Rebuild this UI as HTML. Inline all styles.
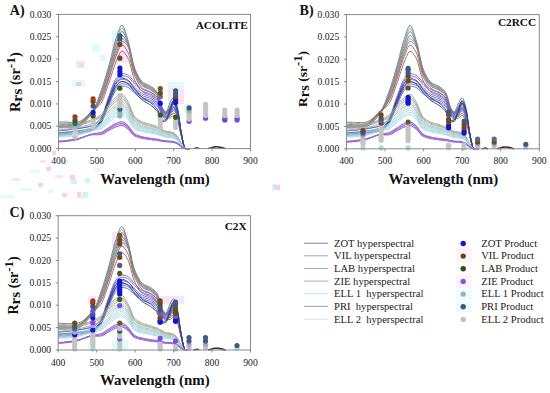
<!DOCTYPE html><html><head><meta charset="utf-8"><style>html,body{margin:0;padding:0;background:#fff;}svg{display:block;}svg text{font-family:"Liberation Serif",serif;}</style></head><body>
<svg width="550" height="393" viewBox="0 0 550 393">
<rect width="550" height="393" fill="#fff"/>
<rect x="52" y="151" width="4" height="4" fill="#f0a0ec" fill-opacity="0.5"/>
<rect x="46" y="167" width="5" height="4" fill="#f0a0ec" fill-opacity="0.5"/>
<rect x="38" y="183" width="5" height="4" fill="#f0a0ec" fill-opacity="0.5"/>
<rect x="70" y="175" width="5" height="5" fill="#f0a0ec" fill-opacity="0.5"/>
<rect x="71" y="180" width="6" height="4" fill="#9eeeee" fill-opacity="0.5"/>
<rect x="85" y="178" width="5" height="5" fill="#9eeeee" fill-opacity="0.5"/>
<rect x="62" y="193" width="5" height="4" fill="#f0a0ec" fill-opacity="0.5"/>
<rect x="77" y="192" width="4" height="6" fill="#f0a0ec" fill-opacity="0.5"/>
<rect x="82" y="192" width="6" height="6" fill="#9eeeee" fill-opacity="0.5"/>
<rect x="60" y="160" width="8" height="4" fill="#c4f6f6" fill-opacity="0.5"/>
<rect x="30" y="170" width="10" height="3" fill="#c4f6f6" fill-opacity="0.5"/>
<rect x="20" y="188" width="12" height="3" fill="#c4f6f6" fill-opacity="0.5"/>
<rect x="0" y="195" width="14" height="3" fill="#c4f6f6" fill-opacity="0.5"/>
<rect x="88" y="160" width="6" height="3" fill="#f8c8f0" fill-opacity="0.5"/>
<rect x="95" y="168" width="5" height="4" fill="#c4f6f6" fill-opacity="0.5"/>
<rect x="40" y="160" width="6" height="3" fill="#f8c8f0" fill-opacity="0.5"/>
<rect x="55" y="175" width="8" height="3" fill="#f8c8f0" fill-opacity="0.5"/>
<rect x="12" y="178" width="8" height="3" fill="#f8c8f0" fill-opacity="0.5"/>
<rect x="48" y="190" width="6" height="3" fill="#c4f6f6" fill-opacity="0.5"/>
<rect x="76" y="61" width="9" height="7" fill="#f8c8f0" fill-opacity="0.5"/>
<rect x="79" y="63" width="4" height="4" fill="#9eeeee" fill-opacity="0.5"/>
<rect x="72" y="80" width="13" height="7" fill="#c4f6f6" fill-opacity="0.5"/>
<rect x="76" y="82" width="5" height="4" fill="#f0a0ec" fill-opacity="0.5"/>
<rect x="92" y="44" width="8" height="8" fill="#c4f6f6" fill-opacity="0.5"/>
<rect x="100" y="55" width="6" height="6" fill="#c4f6f6" fill-opacity="0.5"/>
<rect x="64" y="120" width="5" height="5" fill="#f8c8f0" fill-opacity="0.5"/>
<rect x="112" y="30" width="16" height="9" fill="#c4f6f6" fill-opacity="0.5"/>
<rect x="112" y="39" width="16" height="24" fill="#f8c8f0" fill-opacity="0.5"/>
<rect x="168" y="82" width="16" height="6" fill="#c4f6f6" fill-opacity="0.5"/>
<rect x="168" y="88" width="16" height="16" fill="#f8c8f0" fill-opacity="0.5"/>
<rect x="184" y="104" width="8" height="9" fill="#c4f6f6" fill-opacity="0.5"/>
<rect x="272" y="184" width="4" height="6" fill="#9eeeee" fill-opacity="0.5"/>
<rect x="275" y="185" width="5" height="5" fill="#f0a0ec" fill-opacity="0.5"/>
<rect x="456" y="248" width="16" height="14" fill="#fde8f6" fill-opacity="0.5"/>
<rect x="456" y="275" width="16" height="13" fill="#fde8f6" fill-opacity="0.5"/>
<rect x="456" y="289" width="16" height="23" fill="#e4fafa" fill-opacity="0.5"/>
<rect x="88" y="296" width="8" height="8" fill="#f8c8f0" fill-opacity="0.5"/>
<rect x="112" y="232" width="16" height="16" fill="#f8c8f0" fill-opacity="0.5"/>
<rect x="152" y="296" width="32" height="8" fill="#f8c8f0" fill-opacity="0.5"/>
<rect x="112" y="340" width="16" height="10" fill="#c4f6f6" fill-opacity="0.5"/>
<rect x="88" y="340" width="8" height="10" fill="#c4f6f6" fill-opacity="0.5"/>
<polyline points="58.5,121.8 59.7,121.9 60.8,122.0 62.0,122.0 63.1,122.1 64.3,122.1 65.4,122.2 66.6,122.2 67.7,122.3 68.9,122.3 70.0,122.3 71.2,122.3 72.3,122.3 73.5,122.3 74.6,122.3 75.8,122.3 76.9,122.1 78.1,121.9 79.2,121.5 80.4,121.0 81.5,120.4 82.7,119.7 83.8,118.9 85.0,118.1 86.1,117.1 87.3,116.1 88.5,115.0 89.6,113.9 90.8,112.7 91.9,111.4 93.1,110.1 94.2,108.5 95.4,106.2 96.5,103.5 97.7,100.4 98.8,97.2 100.0,93.9 101.1,90.7 102.3,87.4 103.4,83.8 104.6,80.1 105.7,76.3 106.9,72.4 108.0,68.4 109.2,64.4 110.3,60.0 111.5,55.4 112.6,50.8 113.8,46.4 114.9,42.3 116.1,38.7 117.3,35.2 118.4,31.6 119.6,28.3 120.7,26.0 121.9,25.1 123.0,26.0 124.2,28.4 125.3,31.7 126.5,35.4 127.6,39.1 128.8,43.2 129.9,48.2 131.1,53.6 132.2,59.0 133.4,63.9 134.5,67.8 135.7,70.7 136.8,73.2 138.0,75.5 139.1,77.6 140.3,79.3 141.4,80.8 142.6,81.9 143.7,82.8 144.9,83.5 146.1,84.0 147.2,84.5 148.4,85.0 149.5,85.6 150.7,86.2 151.8,87.0 153.0,87.8 154.1,88.7 155.3,89.8 156.4,91.1 157.6,92.7 158.7,95.5 159.9,99.6 161.0,104.0 162.2,107.4 163.3,109.3 164.5,110.8 165.6,111.6 166.8,111.1 167.9,108.4 169.1,105.1 170.2,102.6 171.4,100.3 172.5,98.3 173.7,97.4 174.9,98.7 176.0,101.9 177.2,106.2 178.3,111.7 179.5,120.5 180.6,129.6 181.8,136.2 182.9,142.0 184.1,146.7 185.2,148.6 186.4,148.6 187.5,148.6 188.7,148.6 189.8,148.6" fill="none" stroke="#5f7a90" stroke-width="0.9" stroke-opacity="1.0" stroke-linejoin="round"/>
<polyline points="58.5,122.9 59.7,123.0 60.8,123.1 62.0,123.1 63.1,123.2 64.3,123.3 65.4,123.3 66.6,123.3 67.7,123.3 68.9,123.4 70.0,123.4 71.2,123.4 72.3,123.4 73.5,123.4 74.6,123.4 75.8,123.4 76.9,123.2 78.1,122.9 79.2,122.5 80.4,122.0 81.5,121.3 82.7,120.6 83.8,119.8 85.0,118.8 86.1,117.8 87.3,116.8 88.5,115.6 89.6,114.4 90.8,113.2 91.9,111.9 93.1,110.6 94.2,108.9 95.4,106.8 96.5,104.2 97.7,101.4 98.8,98.4 100.0,95.3 101.1,92.2 102.3,89.0 103.4,85.5 104.6,81.9 105.7,78.2 106.9,74.3 108.0,70.5 109.2,66.5 110.3,62.2 111.5,57.8 112.6,53.3 113.8,49.0 114.9,45.0 116.1,41.5 117.3,38.1 118.4,34.5 119.6,31.4 120.7,29.1 121.9,28.3 123.0,29.0 124.2,31.0 125.3,33.9 126.5,37.1 127.6,40.4 128.8,44.2 129.9,49.1 131.1,54.5 132.2,59.9 133.4,64.8 134.5,68.8 135.7,71.6 136.8,74.1 138.0,76.4 139.1,78.4 140.3,80.2 141.4,81.6 142.6,82.7 143.7,83.6 144.9,84.2 146.1,84.8 147.2,85.3 148.4,85.8 149.5,86.3 150.7,86.9 151.8,87.7 153.0,88.5 154.1,89.4 155.3,90.5 156.4,91.8 157.6,93.3 158.7,96.1 159.9,100.2 161.0,104.5 162.2,107.9 163.3,109.7 164.5,111.2 165.6,112.1 166.8,111.9 167.9,110.9 169.1,109.5 170.2,108.1 171.4,105.9 172.5,103.7 173.7,102.7 174.9,103.9 176.0,106.8 177.2,110.6 178.3,115.4 179.5,122.7 180.6,130.3 181.8,136.3 182.9,142.0 184.1,146.6 185.2,148.6 186.4,148.6 187.5,148.6 188.7,148.6 189.8,148.6" fill="none" stroke="#9a9a9a" stroke-width="0.9" stroke-opacity="1.0" stroke-linejoin="round"/>
<polyline points="58.5,124.0 59.7,124.1 60.8,124.2 62.0,124.2 63.1,124.3 64.3,124.4 65.4,124.4 66.6,124.4 67.7,124.4 68.9,124.5 70.0,124.5 71.2,124.5 72.3,124.5 73.5,124.5 74.6,124.5 75.8,124.5 76.9,124.3 78.1,124.0 79.2,123.5 80.4,122.9 81.5,122.3 82.7,121.5 83.8,120.6 85.0,119.6 86.1,118.5 87.3,117.4 88.5,116.2 89.6,115.0 90.8,113.7 91.9,112.4 93.1,111.0 94.2,109.4 95.4,107.4 96.5,105.0 97.7,102.3 98.8,99.5 100.0,96.6 101.1,93.7 102.3,90.6 103.4,87.2 104.6,83.7 105.7,80.0 106.9,76.3 108.0,72.5 109.2,68.6 110.3,64.5 111.5,60.1 112.6,55.8 113.8,51.6 114.9,47.7 116.1,44.3 117.3,41.0 118.4,37.5 119.6,34.4 120.7,32.2 121.9,31.4 123.0,32.0 124.2,33.7 125.3,36.0 126.5,38.8 127.6,41.7 128.8,45.2 129.9,50.0 131.1,55.4 132.2,60.8 133.4,65.8 134.5,69.7 135.7,72.5 136.8,75.0 138.0,77.2 139.1,79.3 140.3,81.0 141.4,82.4 142.6,83.5 143.7,84.4 144.9,85.0 146.1,85.6 147.2,86.1 148.4,86.5 149.5,87.1 150.7,87.7 151.8,88.4 153.0,89.2 154.1,90.1 155.3,91.2 156.4,92.4 157.6,94.0 158.7,96.7 159.9,100.8 161.0,105.1 162.2,108.4 163.3,110.2 164.5,111.7 165.6,112.5 166.8,112.3 167.9,110.9 169.1,109.1 170.2,107.3 171.4,105.1 172.5,103.0 173.7,102.1 174.9,103.3 176.0,106.2 177.2,110.1 178.3,115.0 179.5,122.5 180.6,130.4 181.8,136.5 182.9,142.1 184.1,146.7 185.2,148.6 186.4,148.6 187.5,148.6 188.7,148.6 189.8,148.6" fill="none" stroke="#7c7c7c" stroke-width="0.9" stroke-opacity="1.0" stroke-linejoin="round"/>
<polyline points="58.5,125.1 59.7,125.2 60.8,125.3 62.0,125.4 63.1,125.4 64.3,125.5 65.4,125.5 66.6,125.5 67.7,125.5 68.9,125.6 70.0,125.6 71.2,125.6 72.3,125.6 73.5,125.6 74.6,125.6 75.8,125.5 76.9,125.4 78.1,125.0 79.2,124.5 80.4,123.9 81.5,123.2 82.7,122.3 83.8,121.4 85.0,120.3 86.1,119.2 87.3,118.0 88.5,116.8 89.6,115.5 90.8,114.2 91.9,112.8 93.1,111.5 94.2,109.9 95.4,108.0 96.5,105.9 97.7,103.5 98.8,101.0 100.0,98.3 101.1,95.6 102.3,92.7 103.4,89.4 104.6,86.0 105.7,82.4 106.9,78.8 108.0,75.1 109.2,71.4 110.3,67.4 111.5,63.2 112.6,59.0 113.8,54.9 114.9,51.2 116.1,47.9 117.3,44.7 118.4,41.3 119.6,38.4 120.7,36.2 121.9,35.4 123.0,35.9 124.2,37.1 125.3,38.9 126.5,41.0 127.6,43.3 128.8,46.5 129.9,51.1 131.1,56.4 132.2,61.9 133.4,67.0 134.5,71.0 135.7,73.7 136.8,76.1 138.0,78.4 139.1,80.3 140.3,82.0 141.4,83.4 142.6,84.5 143.7,85.4 144.9,86.0 146.1,86.5 147.2,87.0 148.4,87.5 149.5,88.0 150.7,88.6 151.8,89.4 153.0,90.2 154.1,91.1 155.3,92.1 156.4,93.3 157.6,94.8 158.7,97.5 159.9,101.5 161.0,105.8 162.2,109.0 163.3,110.8 164.5,112.3 165.6,113.1 166.8,112.6 167.9,110.5 169.1,107.8 170.2,105.6 171.4,103.4 172.5,101.4 173.7,100.5 174.9,101.8 176.0,104.8 177.2,108.8 178.3,113.9 179.5,122.0 180.6,130.5 181.8,136.7 182.9,142.2 184.1,146.7 185.2,148.6 186.4,148.6 187.5,148.6 188.7,148.6 189.8,148.6" fill="none" stroke="#5f7a90" stroke-width="0.9" stroke-opacity="1.0" stroke-linejoin="round"/>
<polyline points="58.5,126.2 59.7,126.3 60.8,126.4 62.0,126.5 63.1,126.5 64.3,126.6 65.4,126.6 66.6,126.6 67.7,126.6 68.9,126.7 70.0,126.7 71.2,126.7 72.3,126.7 73.5,126.7 74.6,126.7 75.8,126.6 76.9,126.4 78.1,126.1 79.2,125.5 80.4,124.9 81.5,124.1 82.7,123.2 83.8,122.2 85.0,121.1 86.1,119.9 87.3,118.6 88.5,117.4 89.6,116.0 90.8,114.7 91.9,113.3 93.1,111.9 94.2,110.4 95.4,108.6 96.5,106.7 97.7,104.5 98.8,102.1 100.0,99.7 101.1,97.1 102.3,94.3 103.4,91.1 104.6,87.8 105.7,84.3 106.9,80.7 108.0,77.2 109.2,73.5 110.3,69.6 111.5,65.5 112.6,61.5 113.8,57.5 114.9,53.9 116.1,50.7 117.3,47.5 118.4,44.3 119.6,41.4 120.7,39.3 121.9,38.6 123.0,38.9 124.2,39.8 125.3,41.2 126.5,42.8 127.6,44.6 128.8,47.5 129.9,51.9 131.1,57.2 132.2,62.8 133.4,67.9 134.5,71.9 135.7,74.6 136.8,77.0 138.0,79.2 139.1,81.2 140.3,82.9 141.4,84.2 142.6,85.3 143.7,86.1 144.9,86.8 146.1,87.3 147.2,87.8 148.4,88.3 149.5,88.8 150.7,89.4 151.8,90.1 153.0,90.9 154.1,91.8 155.3,92.8 156.4,94.0 157.6,95.5 158.7,98.2 159.9,102.1 161.0,106.3 162.2,109.5 163.3,111.3 164.5,112.7 165.6,113.5 166.8,113.4 167.9,112.4 169.1,111.1 170.2,109.7 171.4,107.6 172.5,105.5 173.7,104.5 174.9,105.6 176.0,108.4 177.2,112.1 178.3,116.7 179.5,123.7 180.6,131.0 181.8,136.8 182.9,142.2 184.1,146.7 185.2,148.6 186.4,148.6 187.5,148.6 188.7,148.6 189.8,148.6" fill="none" stroke="#9a9a9a" stroke-width="0.9" stroke-opacity="1.0" stroke-linejoin="round"/>
<polyline points="58.5,127.4 59.7,127.4 60.8,127.5 62.0,127.6 63.1,127.6 64.3,127.7 65.4,127.7 66.6,127.7 67.7,127.7 68.9,127.8 70.0,127.8 71.2,127.8 72.3,127.8 73.5,127.8 74.6,127.8 75.8,127.7 76.9,127.5 78.1,127.1 79.2,126.5 80.4,125.8 81.5,125.0 82.7,124.0 83.8,123.0 85.0,121.8 86.1,120.6 87.3,119.3 88.5,117.9 89.6,116.5 90.8,115.1 91.9,113.8 93.1,112.4 94.2,110.9 95.4,109.2 96.5,107.3 97.7,105.3 98.8,103.1 100.0,100.8 101.1,98.4 102.3,95.6 103.4,92.6 104.6,89.3 105.7,85.9 106.9,82.4 108.0,78.9 109.2,75.4 110.3,71.5 111.5,67.6 112.6,63.6 113.8,59.7 114.9,56.2 116.1,53.0 117.3,50.0 118.4,46.8 119.6,44.0 120.7,42.0 121.9,41.2 123.0,41.5 124.2,42.1 125.3,43.1 126.5,44.3 127.6,45.8 128.8,48.3 129.9,52.6 131.1,57.9 132.2,63.5 133.4,68.7 134.5,72.7 135.7,75.4 136.8,77.8 138.0,80.0 139.1,81.9 140.3,83.6 141.4,84.9 142.6,86.0 143.7,86.8 144.9,87.4 146.1,88.0 147.2,88.4 148.4,88.9 149.5,89.4 150.7,90.0 151.8,90.7 153.0,91.5 154.1,92.4 155.3,93.4 156.4,94.6 157.6,96.1 158.7,98.7 159.9,102.6 161.0,106.7 162.2,109.9 163.3,111.7 164.5,113.1 165.6,113.9 166.8,113.9 167.9,113.6 169.1,113.2 170.2,112.5 171.4,110.6 172.5,108.3 173.7,107.2 174.9,108.3 176.0,110.9 177.2,114.3 178.3,118.5 179.5,124.8 180.6,131.5 181.8,136.9 182.9,142.2 184.1,146.7 185.2,148.6 186.4,148.6 187.5,148.6 188.7,148.6 189.8,148.6" fill="none" stroke="#7c7c7c" stroke-width="0.9" stroke-opacity="1.0" stroke-linejoin="round"/>
<polyline points="58.5,126.7 59.7,126.7 60.8,126.7 62.0,126.6 63.1,126.6 64.3,126.6 65.4,126.5 66.6,126.5 67.7,126.4 68.9,126.3 70.0,126.2 71.2,126.1 72.3,126.0 73.5,125.9 74.6,125.8 75.8,125.7 76.9,125.3 78.1,124.8 79.2,124.1 80.4,123.3 81.5,122.4 82.7,121.4 83.8,120.3 85.0,119.1 86.1,117.8 87.3,116.5 88.5,115.2 89.6,113.9 90.8,112.6 91.9,111.3 93.1,110.1 94.2,109.0 95.4,107.8 96.5,106.5 97.7,105.2 98.8,103.7 100.0,102.1 101.1,100.2 102.3,97.8 103.4,94.9 104.6,91.7 105.7,88.2 106.9,84.7 108.0,81.2 109.2,77.8 110.3,74.1 111.5,70.3 112.6,66.4 113.8,62.7 114.9,59.3 116.1,56.2 117.3,53.3 118.4,50.2 119.6,47.5 120.7,45.6 121.9,44.8 123.0,45.2 124.2,46.2 125.3,47.7 126.5,49.5 127.6,51.5 128.8,54.2 129.9,58.1 131.1,62.7 132.2,67.4 133.4,71.8 134.5,75.4 135.7,77.9 136.8,80.2 138.0,82.3 139.1,84.1 140.3,85.8 141.4,87.1 142.6,88.2 143.7,88.9 144.9,89.5 146.1,90.1 147.2,90.5 148.4,91.0 149.5,91.4 150.7,92.0 151.8,92.7 153.0,93.5 154.1,94.3 155.3,95.3 156.4,96.4 157.6,97.9 158.7,100.4 159.9,104.2 161.0,108.2 162.2,111.3 163.3,112.9 164.5,114.1 165.6,114.9 166.8,115.5 167.9,115.9 169.1,116.2 170.2,116.1 171.4,115.1 172.5,113.7 173.7,113.0 174.9,113.8 176.0,115.8 177.2,118.5 178.3,121.9 179.5,126.9 180.6,132.4 181.8,137.2 182.9,142.3 184.1,146.7 185.2,148.6 186.4,148.6 187.5,148.6 188.7,148.6 189.8,148.6" fill="none" stroke="#a06050" stroke-width="0.9" stroke-opacity="1.0" stroke-linejoin="round"/>
<polyline points="58.5,126.7 59.7,126.7 60.8,126.7 62.0,126.6 63.1,126.6 64.3,126.6 65.4,126.5 66.6,126.5 67.7,126.4 68.9,126.3 70.0,126.2 71.2,126.1 72.3,126.0 73.5,125.9 74.6,125.8 75.8,125.7 76.9,125.3 78.1,124.7 79.2,124.0 80.4,123.1 81.5,122.1 82.7,121.0 83.8,119.8 85.0,118.6 86.1,117.3 87.3,116.0 88.5,114.7 89.6,113.5 90.8,112.3 91.9,111.2 93.1,110.1 94.2,109.2 95.4,108.4 96.5,107.6 97.7,106.8 98.8,105.8 100.0,104.6 101.1,103.2 102.3,101.1 103.4,98.5 104.6,95.4 105.7,92.1 106.9,88.6 108.0,85.3 109.2,82.1 110.3,78.6 111.5,75.0 112.6,71.4 113.8,67.9 114.9,64.6 116.1,61.8 117.3,59.0 118.4,56.2 119.6,53.6 120.7,51.8 121.9,51.1 123.0,51.4 124.2,52.4 125.3,53.8 126.5,55.5 127.6,57.3 128.8,59.9 129.9,63.5 131.1,67.9 132.2,72.3 133.4,76.5 134.5,79.8 135.7,82.2 136.8,84.3 138.0,86.3 139.1,88.0 140.3,89.6 141.4,90.8 142.6,91.8 143.7,92.5 144.9,93.1 146.1,93.6 147.2,94.0 148.4,94.4 149.5,94.9 150.7,95.4 151.8,96.1 153.0,96.8 154.1,97.6 155.3,98.5 156.4,99.6 157.6,100.9 158.7,103.3 159.9,106.9 161.0,110.6 162.2,113.5 163.3,115.0 164.5,116.2 165.6,117.0 166.8,117.5 167.9,117.9 169.1,118.1 170.2,118.1 171.4,117.1 172.5,115.8 173.7,115.1 174.9,115.9 176.0,117.8 177.2,120.3 178.3,123.5 179.5,128.2 180.6,133.4 181.8,137.9 182.9,142.7 184.1,146.8 185.2,148.6 186.4,148.6 187.5,148.6 188.7,148.6 189.8,148.6" fill="none" stroke="#a06050" stroke-width="0.9" stroke-opacity="1.0" stroke-linejoin="round"/>
<polyline points="58.5,130.7 59.7,130.6 60.8,130.5 62.0,130.4 63.1,130.3 64.3,130.2 65.4,130.1 66.6,130.0 67.7,129.9 68.9,129.7 70.0,129.6 71.2,129.4 72.3,129.3 73.5,129.1 74.6,129.0 75.8,128.8 76.9,128.7 78.1,128.5 79.2,128.3 80.4,128.2 81.5,128.0 82.7,127.8 83.8,127.6 85.0,127.4 86.1,127.2 87.3,127.0 88.5,126.7 89.6,126.4 90.8,126.1 91.9,125.7 93.1,125.3 94.2,124.8 95.4,124.1 96.5,123.2 97.7,122.2 98.8,120.9 100.0,119.5 101.1,118.0 102.3,115.7 103.4,112.7 104.6,109.2 105.7,105.5 106.9,101.9 108.0,98.5 109.2,95.5 110.3,92.2 111.5,89.0 112.6,85.8 113.8,83.0 114.9,80.6 116.1,78.7 117.3,77.2 118.4,75.8 119.6,74.6 120.7,73.8 121.9,73.4 123.0,73.5 124.2,73.8 125.3,74.1 126.5,74.5 127.6,75.0 128.8,75.6 129.9,76.7 131.1,78.0 132.2,79.4 133.4,80.8 134.5,82.1 135.7,83.2 136.8,84.3 138.0,85.5 139.1,86.6 140.3,87.6 141.4,88.5 142.6,89.2 143.7,89.8 144.9,90.3 146.1,90.8 147.2,91.2 148.4,91.6 149.5,92.0 150.7,92.6 151.8,93.2 153.0,93.9 154.1,94.8 155.3,95.8 156.4,96.9 157.6,98.2 158.7,100.3 159.9,103.3 161.0,106.3 162.2,108.9 163.3,110.7 164.5,112.3 165.6,113.2 166.8,113.0 167.9,111.7 169.1,109.9 170.2,108.2 171.4,105.9 172.5,103.7 173.7,102.8 174.9,103.8 176.0,106.4 177.2,109.8 178.3,114.3 179.5,121.6 180.6,129.3 181.8,135.5 182.9,141.5 184.1,146.5 185.2,148.6 186.4,148.6 187.5,148.6 188.7,148.6 189.8,148.6" fill="none" stroke="#6e5ccc" stroke-width="0.9" stroke-opacity="1.0" stroke-linejoin="round"/>
<polyline points="58.5,130.7 59.7,130.6 60.8,130.5 62.0,130.4 63.1,130.3 64.3,130.2 65.4,130.1 66.6,130.0 67.7,129.9 68.9,129.7 70.0,129.6 71.2,129.4 72.3,129.3 73.5,129.1 74.6,129.0 75.8,128.8 76.9,128.7 78.1,128.5 79.2,128.3 80.4,128.2 81.5,128.0 82.7,127.8 83.8,127.6 85.0,127.4 86.1,127.2 87.3,126.9 88.5,126.7 89.6,126.4 90.8,126.1 91.9,125.7 93.1,125.3 94.2,124.9 95.4,124.3 96.5,123.5 97.7,122.6 98.8,121.5 100.0,120.3 101.1,118.9 102.3,116.8 103.4,113.9 104.6,110.5 105.7,106.9 106.9,103.3 108.0,100.0 109.2,97.0 110.3,93.9 111.5,90.8 112.6,87.7 113.8,84.9 114.9,82.6 116.1,80.8 117.3,79.3 118.4,77.9 119.6,76.8 120.7,76.0 121.9,75.7 123.0,75.8 124.2,76.0 125.3,76.3 126.5,76.7 127.6,77.1 128.8,77.8 129.9,78.8 131.1,80.1 132.2,81.5 133.4,82.8 134.5,84.1 135.7,85.2 136.8,86.3 138.0,87.4 139.1,88.4 140.3,89.4 141.4,90.3 142.6,91.0 143.7,91.6 144.9,92.1 146.1,92.5 147.2,92.9 148.4,93.3 149.5,93.7 150.7,94.2 151.8,94.9 153.0,95.6 154.1,96.4 155.3,97.3 156.4,98.4 157.6,99.7 158.7,101.8 159.9,104.6 161.0,107.6 162.2,110.1 163.3,111.8 164.5,113.3 165.6,114.3 166.8,114.0 167.9,112.8 169.1,111.0 170.2,109.4 171.4,107.2 172.5,105.1 173.7,104.1 174.9,105.1 176.0,107.6 177.2,111.0 178.3,115.4 179.5,122.4 180.6,129.9 181.8,135.8 182.9,141.7 184.1,146.6 185.2,148.6 186.4,148.6 187.5,148.6 188.7,148.6 189.8,148.6" fill="none" stroke="#6e5ccc" stroke-width="0.9" stroke-opacity="1.0" stroke-linejoin="round"/>
<polyline points="58.5,132.5 59.7,132.5 60.8,132.4 62.0,132.4 63.1,132.3 64.3,132.2 65.4,132.1 66.6,132.0 67.7,131.9 68.9,131.8 70.0,131.7 71.2,131.6 72.3,131.5 73.5,131.3 74.6,131.2 75.8,131.1 76.9,130.9 78.1,130.8 79.2,130.6 80.4,130.5 81.5,130.3 82.7,130.1 83.8,129.9 85.0,129.7 86.1,129.5 87.3,129.2 88.5,129.0 89.6,128.7 90.8,128.3 91.9,128.0 93.1,127.6 94.2,127.1 95.4,126.4 96.5,125.5 97.7,124.4 98.8,123.2 100.0,121.8 101.1,120.3 102.3,118.2 103.4,115.4 104.6,112.2 105.7,108.8 106.9,105.5 108.0,102.4 109.2,99.6 110.3,96.6 111.5,93.6 112.6,90.7 113.8,88.1 114.9,85.8 116.1,84.1 117.3,82.7 118.4,81.4 119.6,80.3 120.7,79.5 121.9,79.3 123.0,79.3 124.2,79.5 125.3,79.9 126.5,80.2 127.6,80.7 128.8,81.3 129.9,82.3 131.1,83.4 132.2,84.7 133.4,86.0 134.5,87.2 135.7,88.3 136.8,89.3 138.0,90.4 139.1,91.4 140.3,92.3 141.4,93.1 142.6,93.8 143.7,94.4 144.9,94.8 146.1,95.2 147.2,95.6 148.4,96.0 149.5,96.4 150.7,96.9 151.8,97.5 153.0,98.2 154.1,99.0 155.3,99.9 156.4,100.9 157.6,102.1 158.7,104.1 159.9,106.8 161.0,109.6 162.2,112.0 163.3,113.6 164.5,115.1 165.6,115.9 166.8,115.7 167.9,114.5 169.1,112.9 170.2,111.3 171.4,109.2 172.5,107.2 173.7,106.3 174.9,107.2 176.0,109.6 177.2,112.8 178.3,117.0 179.5,123.6 180.6,130.8 181.8,136.5 182.9,142.0 184.1,146.7 185.2,148.6 186.4,148.6 187.5,148.6 188.7,148.6 189.8,148.6" fill="none" stroke="#5e62d0" stroke-width="0.9" stroke-opacity="1.0" stroke-linejoin="round"/>
<polyline points="58.5,133.4 59.7,133.4 60.8,133.3 62.0,133.2 63.1,133.2 64.3,133.1 65.4,133.0 66.6,132.9 67.7,132.8 68.9,132.7 70.0,132.6 71.2,132.5 72.3,132.4 73.5,132.2 74.6,132.1 75.8,132.0 76.9,131.8 78.1,131.7 79.2,131.5 80.4,131.4 81.5,131.2 82.7,131.0 83.8,130.8 85.0,130.6 86.1,130.4 87.3,130.1 88.5,129.9 89.6,129.5 90.8,129.2 91.9,128.9 93.1,128.5 94.2,128.0 95.4,127.2 96.5,126.3 97.7,125.3 98.8,124.1 100.0,122.7 101.1,121.2 102.3,119.1 103.4,116.4 104.6,113.3 105.7,110.1 106.9,106.9 108.0,103.9 109.2,101.1 110.3,98.3 111.5,95.4 112.6,92.6 113.8,90.0 114.9,87.8 116.1,86.2 117.3,84.9 118.4,83.6 119.6,82.5 120.7,81.8 121.9,81.5 123.0,81.6 124.2,81.8 125.3,82.1 126.5,82.4 127.6,82.8 128.8,83.5 129.9,84.4 131.1,85.5 132.2,86.8 133.4,88.1 134.5,89.2 135.7,90.2 136.8,91.2 138.0,92.2 139.1,93.2 140.3,94.1 141.4,94.9 142.6,95.6 143.7,96.1 144.9,96.6 146.1,97.0 147.2,97.3 148.4,97.7 149.5,98.1 150.7,98.6 151.8,99.1 153.0,99.8 154.1,100.6 155.3,101.4 156.4,102.4 157.6,103.6 158.7,105.5 159.9,108.1 161.0,110.9 162.2,113.1 163.3,114.7 164.5,116.2 165.6,117.0 166.8,116.8 167.9,115.6 169.1,114.0 170.2,112.5 171.4,110.5 172.5,108.5 173.7,107.7 174.9,108.6 176.0,110.9 177.2,114.0 178.3,118.0 179.5,124.5 180.6,131.4 181.8,136.9 182.9,142.2 184.1,146.7 185.2,148.6 186.4,148.6 187.5,148.6 188.7,148.6 189.8,148.6" fill="none" stroke="#5e62d0" stroke-width="0.9" stroke-opacity="1.0" stroke-linejoin="round"/>
<polyline points="58.5,134.3 59.7,134.2 60.8,134.2 62.0,134.1 63.1,134.1 64.3,134.0 65.4,133.9 66.6,133.8 67.7,133.7 68.9,133.6 70.0,133.5 71.2,133.4 72.3,133.2 73.5,133.1 74.6,133.0 75.8,132.9 76.9,132.7 78.1,132.6 79.2,132.4 80.4,132.3 81.5,132.1 82.7,131.9 83.8,131.7 85.0,131.5 86.1,131.3 87.3,131.0 88.5,130.7 89.6,130.4 90.8,130.1 91.9,129.8 93.1,129.4 94.2,128.9 95.4,128.1 96.5,127.2 97.7,126.2 98.8,125.0 100.0,123.6 101.1,122.1 102.3,120.1 103.4,117.5 104.6,114.5 105.7,111.4 106.9,108.3 108.0,105.4 109.2,102.7 110.3,100.0 111.5,97.1 112.6,94.4 113.8,92.0 114.9,89.9 116.1,88.3 117.3,87.0 118.4,85.7 119.6,84.7 120.7,84.0 121.9,83.7 123.0,83.8 124.2,84.0 125.3,84.3 126.5,84.6 127.6,85.0 128.8,85.6 129.9,86.5 131.1,87.7 132.2,88.9 133.4,90.1 134.5,91.2 135.7,92.2 136.8,93.1 138.0,94.1 139.1,95.1 140.3,95.9 141.4,96.7 142.6,97.4 143.7,97.9 144.9,98.3 146.1,98.7 147.2,99.0 148.4,99.4 149.5,99.8 150.7,100.2 151.8,100.8 153.0,101.4 154.1,102.2 155.3,103.0 156.4,104.0 157.6,105.1 158.7,106.9 159.9,109.5 161.0,112.1 162.2,114.3 163.3,115.9 164.5,117.2 165.6,118.1 166.8,117.9 167.9,116.7 169.1,115.2 170.2,113.7 171.4,111.8 172.5,109.9 173.7,109.0 174.9,109.9 176.0,112.2 177.2,115.1 178.3,119.0 179.5,125.3 180.6,131.9 181.8,137.3 182.9,142.4 184.1,146.8 185.2,148.6 186.4,148.6 187.5,148.6 188.7,148.6 189.8,148.6" fill="none" stroke="#5e62d0" stroke-width="0.9" stroke-opacity="1.0" stroke-linejoin="round"/>
<polyline points="58.5,135.2 59.7,135.1 60.8,135.1 62.0,135.0 63.1,135.0 64.3,134.9 65.4,134.8 66.6,134.7 67.7,134.6 68.9,134.5 70.0,134.4 71.2,134.3 72.3,134.1 73.5,134.0 74.6,133.9 75.8,133.7 76.9,133.6 78.1,133.5 79.2,133.3 80.4,133.2 81.5,133.0 82.7,132.8 83.8,132.6 85.0,132.4 86.1,132.2 87.3,131.9 88.5,131.6 89.6,131.3 90.8,131.0 91.9,130.6 93.1,130.3 94.2,129.7 95.4,129.0 96.5,128.1 97.7,127.0 98.8,125.8 100.0,124.5 101.1,123.0 102.3,121.0 103.4,118.5 104.6,115.6 105.7,112.6 106.9,109.6 108.0,106.9 109.2,104.3 110.3,101.6 111.5,98.9 112.6,96.3 113.8,93.9 114.9,91.9 116.1,90.4 117.3,89.1 118.4,87.9 119.6,86.9 120.7,86.2 121.9,86.0 123.0,86.0 124.2,86.2 125.3,86.5 126.5,86.8 127.6,87.2 128.8,87.8 129.9,88.7 131.1,89.8 132.2,90.9 133.4,92.1 134.5,93.2 135.7,94.1 136.8,95.1 138.0,96.0 139.1,96.9 140.3,97.7 141.4,98.5 142.6,99.1 143.7,99.6 144.9,100.0 146.1,100.4 147.2,100.7 148.4,101.1 149.5,101.5 150.7,101.9 151.8,102.4 153.0,103.1 154.1,103.8 155.3,104.6 156.4,105.5 157.6,106.6 158.7,108.4 159.9,110.8 161.0,113.4 162.2,115.5 163.3,117.0 164.5,118.3 165.6,119.1 166.8,118.9 167.9,117.8 169.1,116.3 170.2,114.9 171.4,113.0 172.5,111.2 173.7,110.4 174.9,111.3 176.0,113.4 177.2,116.3 178.3,120.1 179.5,126.1 180.6,132.5 181.8,137.6 182.9,142.6 184.1,146.8 185.2,148.6 186.4,148.6 187.5,148.6 188.7,148.6 189.8,148.6" fill="none" stroke="#5e62d0" stroke-width="0.9" stroke-opacity="1.0" stroke-linejoin="round"/>
<polyline points="58.5,133.4 59.7,133.4 60.8,133.3 62.0,133.2 63.1,133.2 64.3,133.1 65.4,133.0 66.6,132.9 67.7,132.8 68.9,132.7 70.0,132.6 71.2,132.5 72.3,132.4 73.5,132.2 74.6,132.1 75.8,132.0 76.9,131.8 78.1,131.7 79.2,131.5 80.4,131.4 81.5,131.2 82.7,131.1 83.8,130.9 85.0,130.7 86.1,130.4 87.3,130.2 88.5,129.9 89.6,129.6 90.8,129.2 91.9,128.9 93.1,128.5 94.2,127.9 95.4,127.0 96.5,125.9 97.7,124.6 98.8,123.1 100.0,121.5 101.1,119.7 102.3,117.4 103.4,114.5 104.6,111.3 105.7,108.0 106.9,104.6 108.0,101.5 109.2,98.6 110.3,95.6 111.5,92.5 112.6,89.6 113.8,86.9 114.9,84.6 116.1,82.9 117.3,81.5 118.4,80.1 119.6,79.0 120.7,78.2 121.9,77.9 123.0,78.0 124.2,78.4 125.3,78.8 126.5,79.4 127.6,80.0 128.8,80.9 129.9,82.2 131.1,83.8 132.2,85.5 133.4,87.2 134.5,88.8 135.7,90.1 136.8,91.5 138.0,92.9 139.1,94.3 140.3,95.5 141.4,96.7 142.6,97.7 143.7,98.6 144.9,99.3 146.1,100.0 147.2,100.7 148.4,101.3 149.5,102.0 150.7,102.8 151.8,103.7 153.0,104.6 154.1,105.7 155.3,106.9 156.4,108.2 157.6,109.7 158.7,112.1 159.9,115.4 161.0,118.4 162.2,120.2 163.3,120.3 164.5,120.1 165.6,119.8 166.8,118.7 167.9,115.7 169.1,111.9 170.2,108.7 171.4,105.1 172.5,101.9 173.7,100.5 174.9,101.6 176.0,104.2 177.2,107.8 178.3,112.5 179.5,120.2 180.6,128.5 181.8,135.0 182.9,141.2 184.1,146.4 185.2,148.6 186.4,148.6 187.5,148.6 188.7,148.6 189.8,148.6" fill="none" stroke="#34467a" stroke-width="1.0" stroke-opacity="1.0" stroke-linejoin="round"/>
<polyline points="58.5,134.3 59.7,134.2 60.8,134.2 62.0,134.1 63.1,134.1 64.3,134.0 65.4,133.9 66.6,133.8 67.7,133.7 68.9,133.6 70.0,133.5 71.2,133.4 72.3,133.2 73.5,133.1 74.6,133.0 75.8,132.9 76.9,132.7 78.1,132.6 79.2,132.4 80.4,132.3 81.5,132.1 82.7,131.9 83.8,131.7 85.0,131.5 86.1,131.3 87.3,131.1 88.5,130.8 89.6,130.5 90.8,130.1 91.9,129.8 93.1,129.4 94.2,128.8 95.4,128.0 96.5,127.0 97.7,125.7 98.8,124.3 100.0,122.8 101.1,121.2 102.3,119.0 103.4,116.3 104.6,113.2 105.7,110.0 106.9,106.8 108.0,103.9 109.2,101.1 110.3,98.3 111.5,95.4 112.6,92.6 113.8,90.0 114.9,87.8 116.1,86.2 117.3,84.9 118.4,83.6 119.6,82.5 120.7,81.8 121.9,81.5 123.0,81.6 124.2,81.9 125.3,82.4 126.5,82.9 127.6,83.5 128.8,84.4 129.9,85.6 131.1,87.1 132.2,88.7 133.4,90.3 134.5,91.8 135.7,93.1 136.8,94.4 138.0,95.7 139.1,97.0 140.3,98.2 141.4,99.3 142.6,100.3 143.7,101.1 144.9,101.8 146.1,102.5 147.2,103.1 148.4,103.7 149.5,104.4 150.7,105.1 151.8,106.0 153.0,106.9 154.1,107.9 155.3,109.0 156.4,110.3 157.6,111.7 158.7,114.0 159.9,117.0 161.0,119.9 162.2,121.6 163.3,121.7 164.5,121.5 165.6,121.2 166.8,120.2 167.9,117.4 169.1,113.8 170.2,110.7 171.4,107.3 172.5,104.3 173.7,103.0 174.9,104.0 176.0,106.5 177.2,109.8 178.3,114.3 179.5,121.7 180.6,129.6 181.8,135.7 182.9,141.6 184.1,146.5 185.2,148.6 186.4,148.6 187.5,148.6 188.7,148.6 189.8,148.6" fill="none" stroke="#34467a" stroke-width="1.0" stroke-opacity="1.0" stroke-linejoin="round"/>
<polyline points="58.5,126.2 59.7,126.2 60.8,126.2 62.0,126.1 63.1,126.0 64.3,125.9 65.4,125.8 66.6,125.6 67.7,125.5 68.9,125.4 70.0,125.2 71.2,125.0 72.3,124.9 73.5,124.7 74.6,124.5 75.8,124.3 76.9,124.1 78.1,123.9 79.2,123.6 80.4,123.3 81.5,123.0 82.7,122.7 83.8,122.4 85.0,122.0 86.1,121.6 87.3,121.3 88.5,120.8 89.6,120.4 90.8,120.0 91.9,119.5 93.1,119.1 94.2,118.6 95.4,118.1 96.5,117.5 97.7,116.8 98.8,116.1 100.0,115.3 101.1,114.5 102.3,113.3 103.4,112.0 104.6,110.5 105.7,108.9 106.9,107.4 108.0,105.9 109.2,104.6 110.3,103.2 111.5,101.9 112.6,100.6 113.8,99.3 114.9,98.2 116.1,97.3 117.3,96.4 118.4,95.5 119.6,94.8 120.7,94.2 121.9,94.0 123.0,94.5 124.2,95.7 125.3,97.3 126.5,99.2 127.6,101.1 128.8,103.3 129.9,106.0 131.1,109.0 132.2,112.0 133.4,114.6 134.5,116.5 135.7,117.7 136.8,118.6 138.0,119.5 139.1,120.2 140.3,120.8 141.4,121.4 142.6,121.9 143.7,122.3 144.9,122.7 146.1,123.0 147.2,123.4 148.4,123.7 149.5,124.0 150.7,124.3 151.8,124.7 153.0,125.1 154.1,125.5 155.3,125.9 156.4,126.3 157.6,126.8 158.7,127.3 159.9,128.0 161.0,128.7 162.2,129.3 163.3,129.9 164.5,130.5 165.6,131.0 166.8,131.3 167.9,131.4 169.1,131.6 170.2,131.8 171.4,132.0 172.5,132.3 173.7,132.8 174.9,133.5 176.0,134.7 177.2,136.1 178.3,137.8 179.5,140.2 180.6,142.6 181.8,144.6 182.9,146.4 184.1,148.0 185.2,148.6 186.4,148.6 187.5,148.6 188.7,148.6 189.8,148.6" fill="none" stroke="#98a890" stroke-width="0.9" stroke-opacity="1.0" stroke-linejoin="round"/>
<polyline points="58.5,127.1 59.7,127.1 60.8,127.0 62.0,127.0 63.1,126.9 64.3,126.8 65.4,126.7 66.6,126.5 67.7,126.4 68.9,126.3 70.0,126.1 71.2,125.9 72.3,125.8 73.5,125.6 74.6,125.4 75.8,125.2 76.9,125.0 78.1,124.8 79.2,124.5 80.4,124.2 81.5,123.9 82.7,123.6 83.8,123.2 85.0,122.9 86.1,122.5 87.3,122.1 88.5,121.7 89.6,121.3 90.8,120.8 91.9,120.4 93.1,120.0 94.2,119.5 95.4,119.0 96.5,118.5 97.7,118.0 98.8,117.4 100.0,116.7 101.1,115.9 102.3,114.8 103.4,113.5 104.6,112.1 105.7,110.6 106.9,109.1 108.0,107.7 109.2,106.4 110.3,105.1 111.5,103.8 112.6,102.5 113.8,101.4 114.9,100.3 116.1,99.4 117.3,98.6 118.4,97.7 119.6,97.0 120.7,96.5 121.9,96.3 123.0,96.7 124.2,97.8 125.3,99.4 126.5,101.3 127.6,103.1 128.8,105.2 129.9,107.8 131.1,110.7 132.2,113.5 133.4,116.0 134.5,117.8 135.7,118.9 136.8,119.9 138.0,120.7 139.1,121.3 140.3,121.9 141.4,122.5 142.6,123.0 143.7,123.4 144.9,123.8 146.1,124.1 147.2,124.4 148.4,124.7 149.5,125.0 150.7,125.3 151.8,125.7 153.0,126.1 154.1,126.4 155.3,126.8 156.4,127.2 157.6,127.7 158.7,128.2 159.9,128.8 161.0,129.5 162.2,130.1 163.3,130.7 164.5,131.3 165.6,131.8 166.8,132.0 167.9,132.1 169.1,132.3 170.2,132.4 171.4,132.7 172.5,133.0 173.7,133.4 174.9,134.1 176.0,135.3 177.2,136.6 178.3,138.3 179.5,140.5 180.6,142.9 181.8,144.7 182.9,146.5 184.1,148.0 185.2,148.6 186.4,148.6 187.5,148.6 188.7,148.6 189.8,148.6" fill="none" stroke="#98a890" stroke-width="0.9" stroke-opacity="1.0" stroke-linejoin="round"/>
<polyline points="58.5,128.0 59.7,128.0 60.8,127.9 62.0,127.9 63.1,127.8 64.3,127.7 65.4,127.6 66.6,127.4 67.7,127.3 68.9,127.1 70.0,127.0 71.2,126.8 72.3,126.7 73.5,126.5 74.6,126.3 75.8,126.1 76.9,125.9 78.1,125.6 79.2,125.4 80.4,125.1 81.5,124.8 82.7,124.4 83.8,124.1 85.0,123.7 86.1,123.3 87.3,122.9 88.5,122.5 89.6,122.1 90.8,121.7 91.9,121.3 93.1,120.9 94.2,120.5 95.4,120.0 96.5,119.6 97.7,119.1 98.8,118.6 100.0,118.0 101.1,117.3 102.3,116.3 103.4,115.1 104.6,113.7 105.7,112.2 106.9,110.8 108.0,109.4 109.2,108.2 110.3,107.0 111.5,105.7 112.6,104.5 113.8,103.4 114.9,102.4 116.1,101.5 117.3,100.7 118.4,99.9 119.6,99.2 120.7,98.7 121.9,98.5 123.0,98.9 124.2,100.0 125.3,101.5 126.5,103.3 127.6,105.0 128.8,107.0 129.9,109.5 131.1,112.3 132.2,115.0 133.4,117.4 134.5,119.1 135.7,120.2 136.8,121.1 138.0,121.9 139.1,122.5 140.3,123.1 141.4,123.6 142.6,124.1 143.7,124.5 144.9,124.8 146.1,125.1 147.2,125.4 148.4,125.7 149.5,126.0 150.7,126.3 151.8,126.7 153.0,127.0 154.1,127.4 155.3,127.7 156.4,128.1 157.6,128.6 158.7,129.1 159.9,129.7 161.0,130.3 162.2,130.9 163.3,131.4 164.5,132.0 165.6,132.5 166.8,132.7 167.9,132.8 169.1,133.0 170.2,133.1 171.4,133.4 172.5,133.7 173.7,134.1 174.9,134.8 176.0,135.8 177.2,137.1 178.3,138.7 179.5,140.9 180.6,143.1 181.8,144.9 182.9,146.6 184.1,148.0 185.2,148.6 186.4,148.6 187.5,148.6 188.7,148.6 189.8,148.6" fill="none" stroke="#98a890" stroke-width="0.9" stroke-opacity="1.0" stroke-linejoin="round"/>
<polyline points="58.5,129.8 59.7,129.8 60.8,129.7 62.0,129.6 63.1,129.5 64.3,129.4 65.4,129.3 66.6,129.2 67.7,129.0 68.9,128.9 70.0,128.7 71.2,128.6 72.3,128.4 73.5,128.3 74.6,128.1 75.8,127.9 76.9,127.7 78.1,127.5 79.2,127.3 80.4,127.1 81.5,126.8 82.7,126.6 83.8,126.3 85.0,126.0 86.1,125.7 87.3,125.4 88.5,125.1 89.6,124.7 90.8,124.3 91.9,123.9 93.1,123.5 94.2,123.1 95.4,122.6 96.5,122.0 97.7,121.4 98.8,120.7 100.0,120.0 101.1,119.2 102.3,118.2 103.4,117.0 104.6,115.7 105.7,114.4 106.9,113.1 108.0,111.9 109.2,110.7 110.3,109.6 111.5,108.4 112.6,107.3 113.8,106.2 114.9,105.3 116.1,104.4 117.3,103.7 118.4,102.9 119.6,102.3 120.7,101.8 121.9,101.6 123.0,102.0 124.2,103.0 125.3,104.5 126.5,106.1 127.6,107.7 128.8,109.6 129.9,112.0 131.1,114.6 132.2,117.1 133.4,119.3 134.5,121.0 135.7,122.0 136.8,122.8 138.0,123.5 139.1,124.1 140.3,124.7 141.4,125.2 142.6,125.6 143.7,126.0 144.9,126.3 146.1,126.6 147.2,126.9 148.4,127.2 149.5,127.4 150.7,127.7 151.8,128.0 153.0,128.4 154.1,128.7 155.3,129.0 156.4,129.4 157.6,129.8 158.7,130.3 159.9,130.9 161.0,131.4 162.2,132.0 163.3,132.5 164.5,133.1 165.6,133.5 166.8,133.7 167.9,133.8 169.1,133.9 170.2,134.1 171.4,134.3 172.5,134.6 173.7,135.0 174.9,135.6 176.0,136.6 177.2,137.8 178.3,139.3 179.5,141.4 180.6,143.5 181.8,145.1 182.9,146.7 184.1,148.0 185.2,148.6 186.4,148.6 187.5,148.6 188.7,148.6 189.8,148.6" fill="none" stroke="#b8b8b8" stroke-width="0.9" stroke-opacity="1.0" stroke-linejoin="round"/>
<polyline points="58.5,129.8 59.7,129.8 60.8,129.7 62.0,129.6 63.1,129.5 64.3,129.4 65.4,129.3 66.6,129.2 67.7,129.0 68.9,128.9 70.0,128.7 71.2,128.6 72.3,128.4 73.5,128.3 74.6,128.1 75.8,127.9 76.9,127.7 78.1,127.5 79.2,127.3 80.4,127.0 81.5,126.7 82.7,126.5 83.8,126.2 85.0,125.9 86.1,125.6 87.3,125.2 88.5,124.9 89.6,124.6 90.8,124.2 91.9,123.9 93.1,123.5 94.2,123.2 95.4,122.9 96.5,122.5 97.7,122.2 98.8,121.7 100.0,121.2 101.1,120.6 102.3,119.8 103.4,118.7 104.6,117.5 105.7,116.1 106.9,114.8 108.0,113.6 109.2,112.5 110.3,111.4 111.5,110.3 112.6,109.2 113.8,108.2 114.9,107.3 116.1,106.6 117.3,105.8 118.4,105.1 119.6,104.5 120.7,104.0 121.9,103.9 123.0,104.2 124.2,105.2 125.3,106.6 126.5,108.1 127.6,109.7 128.8,111.5 129.9,113.7 131.1,116.2 132.2,118.6 133.4,120.7 134.5,122.3 135.7,123.2 136.8,124.0 138.0,124.7 139.1,125.3 140.3,125.8 141.4,126.3 142.6,126.7 143.7,127.0 144.9,127.4 146.1,127.7 147.2,127.9 148.4,128.2 149.5,128.4 150.7,128.7 151.8,129.0 153.0,129.3 154.1,129.6 155.3,130.0 156.4,130.3 157.6,130.7 158.7,131.2 159.9,131.7 161.0,132.2 162.2,132.8 163.3,133.3 164.5,133.8 165.6,134.2 166.8,134.4 167.9,134.5 169.1,134.6 170.2,134.8 171.4,135.0 172.5,135.3 173.7,135.6 174.9,136.2 176.0,137.2 177.2,138.3 178.3,139.8 179.5,141.7 180.6,143.7 181.8,145.3 182.9,146.8 184.1,148.1 185.2,148.6 186.4,148.6 187.5,148.6 188.7,148.6 189.8,148.6" fill="none" stroke="#b8b8b8" stroke-width="0.9" stroke-opacity="1.0" stroke-linejoin="round"/>
<polyline points="58.5,133.4 59.7,133.4 60.8,133.4 62.0,133.3 63.1,133.3 64.3,133.2 65.4,133.1 66.6,133.0 67.7,132.9 68.9,132.8 70.0,132.6 71.2,132.5 72.3,132.4 73.5,132.2 74.6,132.1 75.8,131.9 76.9,131.8 78.1,131.6 79.2,131.3 80.4,131.1 81.5,130.8 82.7,130.5 83.8,130.2 85.0,129.8 86.1,129.5 87.3,129.1 88.5,128.7 89.6,128.3 90.8,127.9 91.9,127.5 93.1,127.1 94.2,126.7 95.4,126.3 96.5,125.8 97.7,125.3 98.8,124.8 100.0,124.1 101.1,123.4 102.3,122.5 103.4,121.4 104.6,120.2 105.7,118.9 106.9,117.6 108.0,116.4 109.2,115.2 110.3,113.9 111.5,112.6 112.6,111.3 113.8,110.1 114.9,109.1 116.1,108.2 117.3,107.5 118.4,106.8 119.6,106.2 120.7,105.8 121.9,105.7 123.0,106.0 124.2,106.9 125.3,108.2 126.5,109.7 127.6,111.2 128.8,113.0 129.9,115.3 131.1,117.8 132.2,120.2 133.4,122.3 134.5,123.8 135.7,124.6 136.8,125.2 138.0,125.7 139.1,126.1 140.3,126.4 141.4,126.8 142.6,127.1 143.7,127.5 144.9,127.8 146.1,128.0 147.2,128.3 148.4,128.5 149.5,128.8 150.7,129.1 151.8,129.4 153.0,129.7 154.1,130.0 155.3,130.3 156.4,130.6 157.6,131.0 158.7,131.4 159.9,131.9 161.0,132.5 162.2,133.0 163.3,133.5 164.5,134.0 165.6,134.3 166.8,134.5 167.9,134.7 169.1,134.8 170.2,134.9 171.4,135.1 172.5,135.4 173.7,135.7 174.9,136.3 176.0,137.2 177.2,138.3 178.3,139.7 179.5,141.6 180.6,143.6 181.8,145.2 182.9,146.8 184.1,148.1 185.2,148.6 186.4,148.6 187.5,148.6 188.7,148.6 189.8,148.6" fill="none" stroke="#9fd6de" stroke-width="0.9" stroke-opacity="1.0" stroke-linejoin="round"/>
<polyline points="58.5,134.3 59.7,134.3 60.8,134.2 62.0,134.2 63.1,134.1 64.3,134.1 65.4,134.0 66.6,133.9 67.7,133.8 68.9,133.7 70.0,133.5 71.2,133.4 72.3,133.3 73.5,133.1 74.6,133.0 75.8,132.8 76.9,132.7 78.1,132.4 79.2,132.2 80.4,131.9 81.5,131.6 82.7,131.3 83.8,131.0 85.0,130.7 86.1,130.3 87.3,129.9 88.5,129.6 89.6,129.2 90.8,128.8 91.9,128.4 93.1,128.0 94.2,127.6 95.4,127.3 96.5,126.9 97.7,126.4 98.8,125.9 100.0,125.4 101.1,124.8 102.3,123.9 103.4,122.9 104.6,121.7 105.7,120.5 106.9,119.2 108.0,118.0 109.2,116.9 110.3,115.7 111.5,114.5 112.6,113.2 113.8,112.1 114.9,111.1 116.1,110.3 117.3,109.7 118.4,109.0 119.6,108.4 120.7,108.0 121.9,107.9 123.0,108.2 124.2,109.1 125.3,110.3 126.5,111.8 127.6,113.2 128.8,114.9 129.9,117.0 131.1,119.4 132.2,121.7 133.4,123.7 134.5,125.1 135.7,125.8 136.8,126.4 138.0,126.9 139.1,127.3 140.3,127.6 141.4,127.9 142.6,128.2 143.7,128.6 144.9,128.8 146.1,129.1 147.2,129.3 148.4,129.6 149.5,129.8 150.7,130.1 151.8,130.4 153.0,130.7 154.1,130.9 155.3,131.2 156.4,131.6 157.6,131.9 158.7,132.3 159.9,132.8 161.0,133.3 162.2,133.8 163.3,134.3 164.5,134.7 165.6,135.1 166.8,135.3 167.9,135.4 169.1,135.5 170.2,135.6 171.4,135.8 172.5,136.1 173.7,136.4 174.9,137.0 176.0,137.8 177.2,138.9 178.3,140.2 179.5,142.0 180.6,143.9 181.8,145.4 182.9,146.9 184.1,148.1 185.2,148.6 186.4,148.6 187.5,148.6 188.7,148.6 189.8,148.6" fill="none" stroke="#9fd6de" stroke-width="0.9" stroke-opacity="1.0" stroke-linejoin="round"/>
<polyline points="58.5,135.2 59.7,135.2 60.8,135.1 62.0,135.1 63.1,135.0 64.3,135.0 65.4,134.9 66.6,134.8 67.7,134.7 68.9,134.6 70.0,134.4 71.2,134.3 72.3,134.2 73.5,134.0 74.6,133.9 75.8,133.7 76.9,133.5 78.1,133.3 79.2,133.1 80.4,132.8 81.5,132.5 82.7,132.2 83.8,131.9 85.0,131.5 86.1,131.1 87.3,130.8 88.5,130.4 89.6,130.0 90.8,129.6 91.9,129.3 93.1,128.9 94.2,128.6 95.4,128.2 96.5,127.9 97.7,127.5 98.8,127.1 100.0,126.6 101.1,126.1 102.3,125.3 103.4,124.3 104.6,123.2 105.7,122.0 106.9,120.8 108.0,119.7 109.2,118.6 110.3,117.5 111.5,116.3 112.6,115.2 113.8,114.1 114.9,113.2 116.1,112.4 117.3,111.8 118.4,111.2 119.6,110.6 120.7,110.3 121.9,110.1 123.0,110.4 124.2,111.3 125.3,112.5 126.5,113.8 127.6,115.1 128.8,116.7 129.9,118.8 131.1,121.0 132.2,123.2 133.4,125.1 134.5,126.4 135.7,127.1 136.8,127.6 138.0,128.1 139.1,128.4 140.3,128.8 141.4,129.1 142.6,129.4 143.7,129.7 144.9,129.9 146.1,130.2 147.2,130.4 148.4,130.6 149.5,130.9 150.7,131.1 151.8,131.4 153.0,131.6 154.1,131.9 155.3,132.2 156.4,132.5 157.6,132.8 158.7,133.2 159.9,133.7 161.0,134.2 162.2,134.6 163.3,135.0 164.5,135.5 165.6,135.8 166.8,136.0 167.9,136.1 169.1,136.2 170.2,136.3 171.4,136.5 172.5,136.7 173.7,137.1 174.9,137.6 176.0,138.4 177.2,139.4 178.3,140.6 179.5,142.4 180.6,144.2 181.8,145.6 182.9,147.0 184.1,148.1 185.2,148.6 186.4,148.6 187.5,148.6 188.7,148.6 189.8,148.6" fill="none" stroke="#9fd6de" stroke-width="0.9" stroke-opacity="1.0" stroke-linejoin="round"/>
<polyline points="58.5,136.1 59.7,136.1 60.8,136.0 62.0,136.0 63.1,135.9 64.3,135.9 65.4,135.8 66.6,135.7 67.7,135.6 68.9,135.5 70.0,135.3 71.2,135.2 72.3,135.1 73.5,134.9 74.6,134.8 75.8,134.6 76.9,134.4 78.1,134.2 79.2,134.0 80.4,133.7 81.5,133.4 82.7,133.0 83.8,132.7 85.0,132.3 86.1,132.0 87.3,131.6 88.5,131.2 89.6,130.9 90.8,130.5 91.9,130.1 93.1,129.8 94.2,129.5 95.4,129.2 96.5,128.9 97.7,128.6 98.8,128.3 100.0,127.9 101.1,127.4 102.3,126.7 103.4,125.8 104.6,124.7 105.7,123.6 106.9,122.5 108.0,121.4 109.2,120.4 110.3,119.3 111.5,118.2 112.6,117.1 113.8,116.1 114.9,115.2 116.1,114.5 117.3,113.9 118.4,113.3 119.6,112.8 120.7,112.5 121.9,112.4 123.0,112.7 124.2,113.4 125.3,114.6 126.5,115.8 127.6,117.1 128.8,118.6 129.9,120.5 131.1,122.6 132.2,124.7 133.4,126.5 134.5,127.7 135.7,128.3 136.8,128.8 138.0,129.3 139.1,129.6 140.3,129.9 141.4,130.2 142.6,130.5 143.7,130.8 144.9,131.0 146.1,131.2 147.2,131.5 148.4,131.7 149.5,131.9 150.7,132.1 151.8,132.4 153.0,132.6 154.1,132.9 155.3,133.1 156.4,133.4 157.6,133.7 158.7,134.1 159.9,134.5 161.0,135.0 162.2,135.4 163.3,135.8 164.5,136.2 165.6,136.6 166.8,136.7 167.9,136.8 169.1,136.9 170.2,137.1 171.4,137.2 172.5,137.4 173.7,137.7 174.9,138.2 176.0,139.0 177.2,139.9 178.3,141.1 179.5,142.7 180.6,144.4 181.8,145.8 182.9,147.1 184.1,148.1 185.2,148.6 186.4,148.6 187.5,148.6 188.7,148.6 189.8,148.6" fill="none" stroke="#9fd6de" stroke-width="0.9" stroke-opacity="1.0" stroke-linejoin="round"/>
<polyline points="58.5,137.0 59.7,137.0 60.8,136.9 62.0,136.9 63.1,136.8 64.3,136.8 65.4,136.7 66.6,136.6 67.7,136.5 68.9,136.3 70.0,136.2 71.2,136.1 72.3,136.0 73.5,135.8 74.6,135.7 75.8,135.5 76.9,135.3 78.1,135.1 79.2,134.8 80.4,134.5 81.5,134.2 82.7,133.9 83.8,133.5 85.0,133.1 86.1,132.8 87.3,132.4 88.5,132.0 89.6,131.7 90.8,131.3 91.9,131.0 93.1,130.7 94.2,130.4 95.4,130.2 96.5,130.0 97.7,129.7 98.8,129.5 100.0,129.1 101.1,128.7 102.3,128.1 103.4,127.2 104.6,126.2 105.7,125.2 106.9,124.1 108.0,123.1 109.2,122.1 110.3,121.1 111.5,120.1 112.6,119.1 113.8,118.1 114.9,117.3 116.1,116.6 117.3,116.1 118.4,115.5 119.6,115.1 120.7,114.7 121.9,114.6 123.0,114.9 124.2,115.6 125.3,116.7 126.5,117.8 127.6,119.0 128.8,120.4 129.9,122.2 131.1,124.2 132.2,126.2 133.4,127.8 134.5,129.0 135.7,129.6 136.8,130.1 138.0,130.4 139.1,130.8 140.3,131.1 141.4,131.3 142.6,131.6 143.7,131.9 144.9,132.1 146.1,132.3 147.2,132.5 148.4,132.7 149.5,132.9 150.7,133.1 151.8,133.4 153.0,133.6 154.1,133.9 155.3,134.1 156.4,134.4 157.6,134.7 158.7,135.0 159.9,135.4 161.0,135.8 162.2,136.2 163.3,136.6 164.5,137.0 165.6,137.3 166.8,137.5 167.9,137.6 169.1,137.6 170.2,137.8 171.4,137.9 172.5,138.1 173.7,138.4 174.9,138.9 176.0,139.6 177.2,140.5 178.3,141.6 179.5,143.1 180.6,144.7 181.8,145.9 182.9,147.2 184.1,148.2 185.2,148.6 186.4,148.6 187.5,148.6 188.7,148.6 189.8,148.6" fill="none" stroke="#9fd6de" stroke-width="0.9" stroke-opacity="1.0" stroke-linejoin="round"/>
<polyline points="58.5,141.0 59.7,141.0 60.8,140.9 62.0,140.8 63.1,140.8 64.3,140.7 65.4,140.5 66.6,140.4 67.7,140.3 68.9,140.1 70.0,140.0 71.2,139.8 72.3,139.6 73.5,139.4 74.6,139.3 75.8,139.1 76.9,138.8 78.1,138.6 79.2,138.2 80.4,137.9 81.5,137.5 82.7,137.1 83.8,136.7 85.0,136.3 86.1,135.9 87.3,135.5 88.5,135.1 89.6,134.7 90.8,134.4 91.9,134.1 93.1,133.8 94.2,133.6 95.4,133.4 96.5,133.3 97.7,133.1 98.8,132.9 100.0,132.7 101.1,132.4 102.3,131.9 103.4,131.3 104.6,130.5 105.7,129.7 106.9,128.9 108.0,128.2 109.2,127.5 110.3,126.7 111.5,125.9 112.6,125.2 113.8,124.5 114.9,123.9 116.1,123.4 117.3,122.9 118.4,122.5 119.6,122.1 120.7,121.9 121.9,121.8 123.0,122.0 124.2,122.6 125.3,123.5 126.5,124.5 127.6,125.5 128.8,126.7 129.9,128.2 131.1,129.8 132.2,131.4 133.4,132.8 134.5,133.9 135.7,134.5 136.8,135.0 138.0,135.5 139.1,135.9 140.3,136.2 141.4,136.5 142.6,136.8 143.7,137.1 144.9,137.3 146.1,137.5 147.2,137.7 148.4,137.9 149.5,138.1 150.7,138.3 151.8,138.5 153.0,138.6 154.1,138.7 155.3,138.9 156.4,139.0 157.6,139.2 158.7,139.4 159.9,139.7 161.0,140.0 162.2,140.2 163.3,140.4 164.5,140.6 165.6,140.8 166.8,140.9 167.9,141.0 169.1,141.0 170.2,141.1 171.4,141.2 172.5,141.4 173.7,141.6 174.9,142.0 176.0,142.4 177.2,143.0 178.3,143.8 179.5,144.9 180.6,146.0 181.8,146.8 182.9,147.7 184.1,148.3 185.2,148.6 186.4,148.6 187.5,148.6 188.7,148.6 189.8,148.6" fill="none" stroke="#9a6ad6" stroke-width="1.1" stroke-opacity="1.0" stroke-linejoin="round"/>
<polyline points="58.5,141.4 59.7,141.4 60.8,141.4 62.0,141.3 63.1,141.2 64.3,141.1 65.4,141.0 66.6,140.9 67.7,140.7 68.9,140.6 70.0,140.4 71.2,140.2 72.3,140.1 73.5,139.9 74.6,139.7 75.8,139.5 76.9,139.3 78.1,139.0 79.2,138.6 80.4,138.2 81.5,137.8 82.7,137.4 83.8,137.0 85.0,136.6 86.1,136.1 87.3,135.7 88.5,135.4 89.6,135.0 90.8,134.7 91.9,134.5 93.1,134.3 94.2,134.2 95.4,134.1 96.5,134.0 97.7,133.9 98.8,133.8 100.0,133.7 101.1,133.5 102.3,133.1 103.4,132.5 104.6,131.8 105.7,131.0 106.9,130.3 108.0,129.5 109.2,128.9 110.3,128.2 111.5,127.5 112.6,126.8 113.8,126.1 114.9,125.5 116.1,125.1 117.3,124.6 118.4,124.2 119.6,123.9 120.7,123.6 121.9,123.5 123.0,123.8 124.2,124.4 125.3,125.2 126.5,126.1 127.6,127.1 128.8,128.1 129.9,129.5 131.1,131.1 132.2,132.6 133.4,133.9 134.5,134.8 135.7,135.4 136.8,135.9 138.0,136.3 139.1,136.7 140.3,137.0 141.4,137.3 142.6,137.6 143.7,137.8 144.9,138.1 146.1,138.3 147.2,138.5 148.4,138.6 149.5,138.8 150.7,139.0 151.8,139.1 153.0,139.3 154.1,139.4 155.3,139.5 156.4,139.7 157.6,139.8 158.7,140.0 159.9,140.3 161.0,140.5 162.2,140.8 163.3,141.0 164.5,141.1 165.6,141.3 166.8,141.4 167.9,141.5 169.1,141.5 170.2,141.6 171.4,141.7 172.5,141.9 173.7,142.1 174.9,142.4 176.0,142.8 177.2,143.4 178.3,144.1 179.5,145.1 180.6,146.2 181.8,147.0 182.9,147.7 184.1,148.3 185.2,148.6 186.4,148.6 187.5,148.6 188.7,148.6 189.8,148.6" fill="none" stroke="#9a6ad6" stroke-width="1.1" stroke-opacity="1.0" stroke-linejoin="round"/>
<polyline points="58.5,141.9 59.7,141.9 60.8,141.8 62.0,141.7 63.1,141.7 64.3,141.6 65.4,141.4 66.6,141.3 67.7,141.2 68.9,141.0 70.0,140.9 71.2,140.7 72.3,140.5 73.5,140.3 74.6,140.2 75.8,140.0 76.9,139.7 78.1,139.4 79.2,139.0 80.4,138.6 81.5,138.1 82.7,137.6 83.8,137.2 85.0,136.7 86.1,136.3 87.3,135.9 88.5,135.5 89.6,135.2 90.8,135.0 91.9,134.8 93.1,134.7 94.2,134.7 95.4,134.7 96.5,134.7 97.7,134.7 98.8,134.7 100.0,134.7 101.1,134.6 102.3,134.3 103.4,133.8 104.6,133.1 105.7,132.4 106.9,131.6 108.0,130.9 109.2,130.3 110.3,129.6 111.5,129.0 112.6,128.3 113.8,127.7 114.9,127.2 116.1,126.7 117.3,126.4 118.4,126.0 119.6,125.7 120.7,125.4 121.9,125.3 123.0,125.5 124.2,126.1 125.3,126.9 126.5,127.7 127.6,128.6 128.8,129.6 129.9,130.9 131.1,132.3 132.2,133.7 133.4,134.9 134.5,135.8 135.7,136.4 136.8,136.8 138.0,137.2 139.1,137.6 140.3,137.9 141.4,138.1 142.6,138.4 143.7,138.6 144.9,138.8 146.1,139.0 147.2,139.2 148.4,139.3 149.5,139.5 150.7,139.7 151.8,139.8 153.0,139.9 154.1,140.1 155.3,140.2 156.4,140.3 157.6,140.5 158.7,140.6 159.9,140.9 161.0,141.1 162.2,141.3 163.3,141.5 164.5,141.7 165.6,141.8 166.8,141.9 167.9,142.0 169.1,142.0 170.2,142.1 171.4,142.2 172.5,142.4 173.7,142.6 174.9,142.8 176.0,143.3 177.2,143.8 178.3,144.4 179.5,145.4 180.6,146.3 181.8,147.1 182.9,147.8 184.1,148.4 185.2,148.6 186.4,148.6 187.5,148.6 188.7,148.6 189.8,148.6" fill="none" stroke="#9a6ad6" stroke-width="1.1" stroke-opacity="1.0" stroke-linejoin="round"/>
<polyline points="193.7,148.6 194.8,148.4 196.0,148.0 197.1,147.8 198.3,148.3 199.4,148.5" fill="none" stroke="#4a2a18" stroke-width="1.4" stroke-opacity="1.0" stroke-linejoin="round"/>
<polyline points="208.3,148.6 209.4,148.3 210.6,148.0 211.7,147.7 212.9,147.3 214.0,147.0 215.2,146.9 216.3,146.8 217.5,146.8 218.6,147.0 219.8,147.2 220.9,147.4 222.1,147.7 223.2,148.0 224.4,148.3 225.5,148.5" fill="none" stroke="#4a2a18" stroke-width="1.6" stroke-opacity="1.0" stroke-linejoin="round"/>
<circle cx="75.0" cy="137.0" r="2.6" fill="#c4c4c4"/>
<circle cx="75.0" cy="133.4" r="2.6" fill="#d0d0d0"/>
<circle cx="75.0" cy="129.4" r="2.6" fill="#c4c4c4"/>
<circle cx="75.0" cy="126.2" r="2.6" fill="#8ab4c4"/>
<circle cx="75.0" cy="123.5" r="2.6" fill="#3c5c7c"/>
<circle cx="75.0" cy="120.4" r="2.6" fill="#3b5a18"/>
<circle cx="75.0" cy="116.8" r="2.6" fill="#a03c1c"/>
<circle cx="93.1" cy="127.1" r="2.6" fill="#c4c4c4"/>
<circle cx="93.1" cy="124.0" r="2.6" fill="#c4c4c4"/>
<circle cx="93.1" cy="120.4" r="2.6" fill="#c4c4c4"/>
<circle cx="93.1" cy="115.9" r="2.6" fill="#3b5a18"/>
<circle cx="93.1" cy="112.4" r="2.6" fill="#1414d2"/>
<circle cx="93.1" cy="106.1" r="2.6" fill="#3c5c7c"/>
<circle cx="93.1" cy="101.6" r="2.6" fill="#6b4a1e"/>
<circle cx="93.1" cy="98.9" r="2.6" fill="#a03c1c"/>
<circle cx="119.9" cy="115.9" r="2.6" fill="#8ab4c4"/>
<circle cx="119.9" cy="112.8" r="2.6" fill="#8ab4c4"/>
<circle cx="119.9" cy="109.2" r="2.6" fill="#3c5c7c"/>
<circle cx="119.9" cy="105.7" r="2.6" fill="#c4c4c4"/>
<circle cx="119.9" cy="102.5" r="2.6" fill="#c4c4c4"/>
<circle cx="119.9" cy="99.4" r="2.6" fill="#c4c4c4"/>
<circle cx="119.9" cy="95.8" r="2.6" fill="#c4c4c4"/>
<circle cx="119.9" cy="88.2" r="2.6" fill="#3b5a18"/>
<circle cx="119.9" cy="74.8" r="2.6" fill="#1414d2"/>
<circle cx="119.9" cy="71.7" r="2.6" fill="#1414d2"/>
<circle cx="119.9" cy="68.1" r="2.6" fill="#1414d2"/>
<circle cx="119.9" cy="58.2" r="2.6" fill="#6b4a1e"/>
<circle cx="119.9" cy="44.4" r="2.6" fill="#6b4a1e"/>
<circle cx="119.9" cy="39.0" r="2.6" fill="#3c5c7c"/>
<circle cx="119.9" cy="35.9" r="2.6" fill="#3c5c7c"/>
<circle cx="160.3" cy="127.6" r="2.6" fill="#c4c4c4"/>
<circle cx="160.3" cy="124.0" r="2.6" fill="#c4c4c4"/>
<circle cx="160.3" cy="120.9" r="2.6" fill="#c4c4c4"/>
<circle cx="160.3" cy="118.6" r="2.6" fill="#c4c4c4"/>
<circle cx="160.3" cy="115.0" r="2.6" fill="#3b5a18"/>
<circle cx="160.3" cy="103.4" r="2.6" fill="#1414d2"/>
<circle cx="160.3" cy="96.7" r="2.6" fill="#7a6a8a"/>
<circle cx="160.3" cy="93.1" r="2.6" fill="#6b4a1e"/>
<circle cx="160.3" cy="88.7" r="2.6" fill="#6a5a2a"/>
<circle cx="175.6" cy="127.6" r="2.6" fill="#c4c4c4"/>
<circle cx="175.6" cy="124.0" r="2.6" fill="#c4c4c4"/>
<circle cx="175.6" cy="120.9" r="2.6" fill="#c4c4c4"/>
<circle cx="175.6" cy="117.3" r="2.6" fill="#3b5a18"/>
<circle cx="175.6" cy="102.5" r="2.6" fill="#1414d2"/>
<circle cx="175.6" cy="99.4" r="2.6" fill="#1414d2"/>
<circle cx="175.6" cy="96.7" r="2.6" fill="#6b4a1e"/>
<circle cx="175.6" cy="94.0" r="2.6" fill="#3c5c7c"/>
<circle cx="175.6" cy="90.9" r="2.6" fill="#3c5c7c"/>
<circle cx="189.1" cy="121.3" r="2.6" fill="#7a4ae6"/>
<circle cx="189.1" cy="119.1" r="2.6" fill="#c4c4c4"/>
<circle cx="189.1" cy="116.4" r="2.6" fill="#c4c4c4"/>
<circle cx="189.1" cy="113.7" r="2.6" fill="#c4c4c4"/>
<circle cx="189.1" cy="111.0" r="2.6" fill="#8ab4c4"/>
<circle cx="189.1" cy="107.9" r="2.6" fill="#3c5c7c"/>
<circle cx="205.6" cy="118.2" r="2.6" fill="#7a4ae6"/>
<circle cx="205.6" cy="115.5" r="2.6" fill="#c4c4c4"/>
<circle cx="205.6" cy="112.8" r="2.6" fill="#c4c4c4"/>
<circle cx="205.6" cy="110.1" r="2.6" fill="#c4c4c4"/>
<circle cx="205.6" cy="107.4" r="2.6" fill="#c4c4c4"/>
<circle cx="205.6" cy="104.3" r="2.6" fill="#c4c4c4"/>
<circle cx="224.8" cy="120.0" r="2.6" fill="#5a4aa0"/>
<circle cx="224.8" cy="118.2" r="2.6" fill="#7a4ae6"/>
<circle cx="224.8" cy="115.5" r="2.6" fill="#c4c4c4"/>
<circle cx="224.8" cy="112.8" r="2.6" fill="#c4c4c4"/>
<circle cx="224.8" cy="110.1" r="2.6" fill="#c4c4c4"/>
<circle cx="237.1" cy="120.0" r="2.6" fill="#7a4ae6"/>
<circle cx="237.1" cy="118.2" r="2.6" fill="#7a4ae6"/>
<circle cx="237.1" cy="115.5" r="2.6" fill="#c4c4c4"/>
<circle cx="237.1" cy="112.8" r="2.6" fill="#c4c4c4"/>
<circle cx="237.1" cy="110.1" r="2.6" fill="#c4c4c4"/>
<polyline points="346.4,122.0 347.6,122.1 348.7,122.2 349.9,122.2 351.0,122.3 352.2,122.3 353.3,122.4 354.5,122.4 355.7,122.5 356.8,122.5 358.0,122.5 359.1,122.5 360.3,122.5 361.4,122.5 362.6,122.5 363.8,122.5 364.9,122.3 366.1,122.1 367.2,121.7 368.4,121.2 369.5,120.6 370.7,119.9 371.9,119.1 373.0,118.3 374.2,117.3 375.3,116.3 376.5,115.2 377.6,114.1 378.8,112.9 380.0,111.6 381.1,110.3 382.3,108.7 383.4,106.4 384.6,103.7 385.8,100.6 386.9,97.4 388.1,94.1 389.2,90.9 390.4,87.6 391.5,84.0 392.7,80.3 393.9,76.5 395.0,72.6 396.2,68.6 397.3,64.6 398.5,60.2 399.6,55.6 400.8,51.0 402.0,46.6 403.1,42.5 404.3,38.9 405.4,35.4 406.6,31.8 407.7,28.5 408.9,26.2 410.1,25.3 411.2,26.2 412.4,28.6 413.5,31.9 414.7,35.6 415.8,39.3 417.0,43.4 418.2,48.4 419.3,53.8 420.5,59.2 421.6,64.1 422.8,68.0 423.9,70.9 425.1,73.4 426.3,75.7 427.4,77.8 428.6,79.5 429.7,81.0 430.9,82.1 432.0,83.0 433.2,83.7 434.4,84.2 435.5,84.7 436.7,85.2 437.8,85.8 439.0,86.4 440.1,87.2 441.3,88.0 442.5,88.9 443.6,90.0 444.8,91.3 445.9,92.9 447.1,95.7 448.3,99.8 449.4,104.2 450.6,107.6 451.7,109.5 452.9,111.0 454.0,111.8 455.2,111.3 456.4,108.6 457.5,105.3 458.7,102.8 459.8,100.5 461.0,98.5 462.1,97.6 463.3,98.9 464.5,102.1 465.6,106.4 466.8,111.9 467.9,120.7 469.1,129.8 470.2,136.4 471.4,142.2 472.6,146.9 473.7,148.8 474.9,148.8 476.0,148.8 477.2,148.8 478.3,148.8" fill="none" stroke="#5f7a90" stroke-width="0.9" stroke-opacity="1.0" stroke-linejoin="round"/>
<polyline points="346.4,123.1 347.6,123.2 348.7,123.3 349.9,123.3 351.0,123.4 352.2,123.5 353.3,123.5 354.5,123.5 355.7,123.5 356.8,123.6 358.0,123.6 359.1,123.6 360.3,123.6 361.4,123.6 362.6,123.6 363.8,123.6 364.9,123.4 366.1,123.1 367.2,122.7 368.4,122.2 369.5,121.5 370.7,120.8 371.9,120.0 373.0,119.0 374.2,118.0 375.3,117.0 376.5,115.8 377.6,114.6 378.8,113.4 380.0,112.1 381.1,110.8 382.3,109.1 383.4,107.0 384.6,104.4 385.8,101.6 386.9,98.6 388.1,95.5 389.2,92.4 390.4,89.2 391.5,85.7 392.7,82.1 393.9,78.4 395.0,74.5 396.2,70.7 397.3,66.7 398.5,62.4 399.6,58.0 400.8,53.5 402.0,49.2 403.1,45.2 404.3,41.7 405.4,38.3 406.6,34.7 407.7,31.6 408.9,29.3 410.1,28.5 411.2,29.2 412.4,31.2 413.5,34.1 414.7,37.3 415.8,40.6 417.0,44.4 418.2,49.3 419.3,54.7 420.5,60.1 421.6,65.0 422.8,69.0 423.9,71.8 425.1,74.3 426.3,76.6 427.4,78.6 428.6,80.4 429.7,81.8 430.9,82.9 432.0,83.8 433.2,84.4 434.4,85.0 435.5,85.5 436.7,86.0 437.8,86.5 439.0,87.1 440.1,87.9 441.3,88.7 442.5,89.6 443.6,90.7 444.8,92.0 445.9,93.5 447.1,96.3 448.3,100.4 449.4,104.7 450.6,108.1 451.7,109.9 452.9,111.4 454.0,112.3 455.2,112.1 456.4,111.1 457.5,109.7 458.7,108.3 459.8,106.1 461.0,103.9 462.1,102.9 463.3,104.1 464.5,107.0 465.6,110.8 466.8,115.6 467.9,122.9 469.1,130.5 470.2,136.5 471.4,142.2 472.6,146.8 473.7,148.8 474.9,148.8 476.0,148.8 477.2,148.8 478.3,148.8" fill="none" stroke="#9a9a9a" stroke-width="0.9" stroke-opacity="1.0" stroke-linejoin="round"/>
<polyline points="346.4,124.2 347.6,124.3 348.7,124.4 349.9,124.4 351.0,124.5 352.2,124.6 353.3,124.6 354.5,124.6 355.7,124.6 356.8,124.7 358.0,124.7 359.1,124.7 360.3,124.7 361.4,124.7 362.6,124.7 363.8,124.7 364.9,124.5 366.1,124.2 367.2,123.7 368.4,123.1 369.5,122.5 370.7,121.7 371.9,120.8 373.0,119.8 374.2,118.7 375.3,117.6 376.5,116.4 377.6,115.2 378.8,113.9 380.0,112.6 381.1,111.2 382.3,109.6 383.4,107.6 384.6,105.2 385.8,102.5 386.9,99.7 388.1,96.8 389.2,93.9 390.4,90.8 391.5,87.4 392.7,83.9 393.9,80.2 395.0,76.5 396.2,72.7 397.3,68.8 398.5,64.7 399.6,60.3 400.8,56.0 402.0,51.8 403.1,47.9 404.3,44.5 405.4,41.2 406.6,37.7 407.7,34.6 408.9,32.4 410.1,31.6 411.2,32.2 412.4,33.9 413.5,36.2 414.7,39.0 415.8,41.9 417.0,45.4 418.2,50.2 419.3,55.6 420.5,61.0 421.6,66.0 422.8,69.9 423.9,72.7 425.1,75.2 426.3,77.4 427.4,79.5 428.6,81.2 429.7,82.6 430.9,83.7 432.0,84.6 433.2,85.2 434.4,85.8 435.5,86.3 436.7,86.7 437.8,87.3 439.0,87.9 440.1,88.6 441.3,89.4 442.5,90.3 443.6,91.4 444.8,92.6 445.9,94.2 447.1,96.9 448.3,101.0 449.4,105.3 450.6,108.6 451.7,110.4 452.9,111.9 454.0,112.7 455.2,112.5 456.4,111.1 457.5,109.3 458.7,107.5 459.8,105.3 461.0,103.2 462.1,102.3 463.3,103.5 464.5,106.4 465.6,110.3 466.8,115.2 467.9,122.7 469.1,130.6 470.2,136.7 471.4,142.3 472.6,146.9 473.7,148.8 474.9,148.8 476.0,148.8 477.2,148.8 478.3,148.8" fill="none" stroke="#7c7c7c" stroke-width="0.9" stroke-opacity="1.0" stroke-linejoin="round"/>
<polyline points="346.4,125.3 347.6,125.4 348.7,125.5 349.9,125.6 351.0,125.6 352.2,125.7 353.3,125.7 354.5,125.7 355.7,125.7 356.8,125.8 358.0,125.8 359.1,125.8 360.3,125.8 361.4,125.8 362.6,125.8 363.8,125.7 364.9,125.6 366.1,125.2 367.2,124.7 368.4,124.1 369.5,123.4 370.7,122.5 371.9,121.6 373.0,120.5 374.2,119.4 375.3,118.2 376.5,117.0 377.6,115.7 378.8,114.4 380.0,113.0 381.1,111.7 382.3,110.1 383.4,108.2 384.6,106.1 385.8,103.7 386.9,101.2 388.1,98.5 389.2,95.8 390.4,92.9 391.5,89.6 392.7,86.2 393.9,82.6 395.0,79.0 396.2,75.3 397.3,71.6 398.5,67.6 399.6,63.4 400.8,59.2 402.0,55.1 403.1,51.4 404.3,48.1 405.4,44.9 406.6,41.5 407.7,38.6 408.9,36.4 410.1,35.6 411.2,36.1 412.4,37.3 413.5,39.1 414.7,41.2 415.8,43.5 417.0,46.7 418.2,51.3 419.3,56.6 420.5,62.1 421.6,67.2 422.8,71.2 423.9,73.9 425.1,76.3 426.3,78.6 427.4,80.5 428.6,82.2 429.7,83.6 430.9,84.7 432.0,85.6 433.2,86.2 434.4,86.7 435.5,87.2 436.7,87.7 437.8,88.2 439.0,88.8 440.1,89.6 441.3,90.4 442.5,91.3 443.6,92.3 444.8,93.5 445.9,95.0 447.1,97.7 448.3,101.7 449.4,106.0 450.6,109.2 451.7,111.0 452.9,112.5 454.0,113.3 455.2,112.8 456.4,110.7 457.5,108.0 458.7,105.8 459.8,103.6 461.0,101.6 462.1,100.7 463.3,102.0 464.5,105.0 465.6,109.0 466.8,114.1 467.9,122.2 469.1,130.7 470.2,136.9 471.4,142.4 472.6,146.9 473.7,148.8 474.9,148.8 476.0,148.8 477.2,148.8 478.3,148.8" fill="none" stroke="#5f7a90" stroke-width="0.9" stroke-opacity="1.0" stroke-linejoin="round"/>
<polyline points="346.4,126.4 347.6,126.5 348.7,126.6 349.9,126.7 351.0,126.7 352.2,126.8 353.3,126.8 354.5,126.8 355.7,126.8 356.8,126.9 358.0,126.9 359.1,126.9 360.3,126.9 361.4,126.9 362.6,126.9 363.8,126.8 364.9,126.6 366.1,126.3 367.2,125.7 368.4,125.1 369.5,124.3 370.7,123.4 371.9,122.4 373.0,121.3 374.2,120.1 375.3,118.8 376.5,117.6 377.6,116.2 378.8,114.9 380.0,113.5 381.1,112.1 382.3,110.6 383.4,108.8 384.6,106.9 385.8,104.7 386.9,102.3 388.1,99.9 389.2,97.3 390.4,94.5 391.5,91.3 392.7,88.0 393.9,84.5 395.0,80.9 396.2,77.4 397.3,73.7 398.5,69.8 399.6,65.7 400.8,61.7 402.0,57.7 403.1,54.1 404.3,50.9 405.4,47.7 406.6,44.5 407.7,41.6 408.9,39.5 410.1,38.8 411.2,39.1 412.4,40.0 413.5,41.4 414.7,43.0 415.8,44.8 417.0,47.7 418.2,52.1 419.3,57.4 420.5,63.0 421.6,68.1 422.8,72.1 423.9,74.8 425.1,77.2 426.3,79.4 427.4,81.4 428.6,83.1 429.7,84.4 430.9,85.5 432.0,86.3 433.2,87.0 434.4,87.5 435.5,88.0 436.7,88.5 437.8,89.0 439.0,89.6 440.1,90.3 441.3,91.1 442.5,92.0 443.6,93.0 444.8,94.2 445.9,95.7 447.1,98.4 448.3,102.3 449.4,106.5 450.6,109.7 451.7,111.5 452.9,112.9 454.0,113.7 455.2,113.6 456.4,112.6 457.5,111.3 458.7,109.9 459.8,107.8 461.0,105.7 462.1,104.7 463.3,105.8 464.5,108.6 465.6,112.3 466.8,116.9 467.9,123.9 469.1,131.2 470.2,137.0 471.4,142.4 472.6,146.9 473.7,148.8 474.9,148.8 476.0,148.8 477.2,148.8 478.3,148.8" fill="none" stroke="#9a9a9a" stroke-width="0.9" stroke-opacity="1.0" stroke-linejoin="round"/>
<polyline points="346.4,127.6 347.6,127.6 348.7,127.7 349.9,127.8 351.0,127.8 352.2,127.9 353.3,127.9 354.5,127.9 355.7,127.9 356.8,128.0 358.0,128.0 359.1,128.0 360.3,128.0 361.4,128.0 362.6,128.0 363.8,127.9 364.9,127.7 366.1,127.3 367.2,126.7 368.4,126.0 369.5,125.2 370.7,124.2 371.9,123.2 373.0,122.0 374.2,120.8 375.3,119.5 376.5,118.1 377.6,116.7 378.8,115.3 380.0,114.0 381.1,112.6 382.3,111.1 383.4,109.4 384.6,107.5 385.8,105.5 386.9,103.3 388.1,101.0 389.2,98.6 390.4,95.8 391.5,92.8 392.7,89.5 393.9,86.1 395.0,82.6 396.2,79.1 397.3,75.6 398.5,71.7 399.6,67.8 400.8,63.8 402.0,59.9 403.1,56.4 404.3,53.2 405.4,50.2 406.6,47.0 407.7,44.2 408.9,42.2 410.1,41.4 411.2,41.7 412.4,42.3 413.5,43.3 414.7,44.5 415.8,46.0 417.0,48.5 418.2,52.8 419.3,58.1 420.5,63.7 421.6,68.9 422.8,72.9 423.9,75.6 425.1,78.0 426.3,80.2 427.4,82.1 428.6,83.8 429.7,85.1 430.9,86.2 432.0,87.0 433.2,87.6 434.4,88.2 435.5,88.6 436.7,89.1 437.8,89.6 439.0,90.2 440.1,90.9 441.3,91.7 442.5,92.6 443.6,93.6 444.8,94.8 445.9,96.3 447.1,98.9 448.3,102.8 449.4,106.9 450.6,110.1 451.7,111.9 452.9,113.3 454.0,114.1 455.2,114.1 456.4,113.8 457.5,113.4 458.7,112.7 459.8,110.8 461.0,108.5 462.1,107.4 463.3,108.5 464.5,111.1 465.6,114.5 466.8,118.7 467.9,125.0 469.1,131.7 470.2,137.1 471.4,142.4 472.6,146.9 473.7,148.8 474.9,148.8 476.0,148.8 477.2,148.8 478.3,148.8" fill="none" stroke="#7c7c7c" stroke-width="0.9" stroke-opacity="1.0" stroke-linejoin="round"/>
<polyline points="346.4,126.9 347.6,126.9 348.7,126.9 349.9,126.8 351.0,126.8 352.2,126.8 353.3,126.7 354.5,126.7 355.7,126.6 356.8,126.5 358.0,126.4 359.1,126.3 360.3,126.2 361.4,126.1 362.6,126.0 363.8,125.9 364.9,125.5 366.1,125.0 367.2,124.3 368.4,123.5 369.5,122.6 370.7,121.6 371.9,120.5 373.0,119.3 374.2,118.0 375.3,116.7 376.5,115.4 377.6,114.1 378.8,112.8 380.0,111.5 381.1,110.3 382.3,109.2 383.4,108.0 384.6,106.7 385.8,105.4 386.9,103.9 388.1,102.3 389.2,100.4 390.4,98.0 391.5,95.1 392.7,91.9 393.9,88.4 395.0,84.9 396.2,81.4 397.3,78.0 398.5,74.3 399.6,70.5 400.8,66.6 402.0,62.9 403.1,59.5 404.3,56.4 405.4,53.5 406.6,50.4 407.7,47.7 408.9,45.8 410.1,45.0 411.2,45.4 412.4,46.4 413.5,47.9 414.7,49.7 415.8,51.7 417.0,54.4 418.2,58.3 419.3,62.9 420.5,67.6 421.6,72.0 422.8,75.6 423.9,78.1 425.1,80.4 426.3,82.5 427.4,84.3 428.6,86.0 429.7,87.3 430.9,88.4 432.0,89.1 433.2,89.7 434.4,90.3 435.5,90.7 436.7,91.2 437.8,91.6 439.0,92.2 440.1,92.9 441.3,93.7 442.5,94.5 443.6,95.5 444.8,96.6 445.9,98.1 447.1,100.6 448.3,104.4 449.4,108.4 450.6,111.5 451.7,113.1 452.9,114.3 454.0,115.1 455.2,115.7 456.4,116.1 457.5,116.4 458.7,116.3 459.8,115.3 461.0,113.9 462.1,113.2 463.3,114.0 464.5,116.0 465.6,118.7 466.8,122.1 467.9,127.1 469.1,132.6 470.2,137.4 471.4,142.5 472.6,146.9 473.7,148.8 474.9,148.8 476.0,148.8 477.2,148.8 478.3,148.8" fill="none" stroke="#a06050" stroke-width="0.9" stroke-opacity="1.0" stroke-linejoin="round"/>
<polyline points="346.4,126.9 347.6,126.9 348.7,126.9 349.9,126.8 351.0,126.8 352.2,126.8 353.3,126.7 354.5,126.7 355.7,126.6 356.8,126.5 358.0,126.4 359.1,126.3 360.3,126.2 361.4,126.1 362.6,126.0 363.8,125.9 364.9,125.5 366.1,124.9 367.2,124.2 368.4,123.3 369.5,122.3 370.7,121.2 371.9,120.0 373.0,118.8 374.2,117.5 375.3,116.2 376.5,114.9 377.6,113.7 378.8,112.5 380.0,111.4 381.1,110.3 382.3,109.4 383.4,108.6 384.6,107.8 385.8,107.0 386.9,106.0 388.1,104.8 389.2,103.4 390.4,101.3 391.5,98.7 392.7,95.6 393.9,92.3 395.0,88.8 396.2,85.5 397.3,82.3 398.5,78.8 399.6,75.2 400.8,71.6 402.0,68.1 403.1,64.8 404.3,62.0 405.4,59.2 406.6,56.4 407.7,53.8 408.9,52.0 410.1,51.3 411.2,51.6 412.4,52.6 413.5,54.0 414.7,55.7 415.8,57.5 417.0,60.1 418.2,63.7 419.3,68.1 420.5,72.5 421.6,76.7 422.8,80.0 423.9,82.4 425.1,84.5 426.3,86.5 427.4,88.2 428.6,89.8 429.7,91.0 430.9,92.0 432.0,92.7 433.2,93.3 434.4,93.8 435.5,94.2 436.7,94.6 437.8,95.1 439.0,95.6 440.1,96.3 441.3,97.0 442.5,97.8 443.6,98.7 444.8,99.8 445.9,101.1 447.1,103.5 448.3,107.1 449.4,110.8 450.6,113.7 451.7,115.2 452.9,116.4 454.0,117.2 455.2,117.7 456.4,118.1 457.5,118.3 458.7,118.3 459.8,117.3 461.0,116.0 462.1,115.3 463.3,116.1 464.5,118.0 465.6,120.5 466.8,123.7 467.9,128.4 469.1,133.6 470.2,138.1 471.4,142.9 472.6,147.0 473.7,148.8 474.9,148.8 476.0,148.8 477.2,148.8 478.3,148.8" fill="none" stroke="#a06050" stroke-width="0.9" stroke-opacity="1.0" stroke-linejoin="round"/>
<polyline points="346.4,130.9 347.6,130.8 348.7,130.7 349.9,130.6 351.0,130.5 352.2,130.4 353.3,130.3 354.5,130.2 355.7,130.1 356.8,129.9 358.0,129.8 359.1,129.6 360.3,129.5 361.4,129.3 362.6,129.2 363.8,129.0 364.9,128.9 366.1,128.7 367.2,128.5 368.4,128.4 369.5,128.2 370.7,128.0 371.9,127.8 373.0,127.6 374.2,127.4 375.3,127.2 376.5,126.9 377.6,126.6 378.8,126.3 380.0,125.9 381.1,125.5 382.3,125.0 383.4,124.3 384.6,123.4 385.8,122.4 386.9,121.1 388.1,119.7 389.2,118.2 390.4,115.9 391.5,112.9 392.7,109.4 393.9,105.7 395.0,102.1 396.2,98.7 397.3,95.7 398.5,92.4 399.6,89.2 400.8,86.0 402.0,83.2 403.1,80.8 404.3,78.9 405.4,77.4 406.6,76.0 407.7,74.8 408.9,74.0 410.1,73.6 411.2,73.7 412.4,74.0 413.5,74.3 414.7,74.7 415.8,75.2 417.0,75.8 418.2,76.9 419.3,78.2 420.5,79.6 421.6,81.0 422.8,82.3 423.9,83.4 425.1,84.5 426.3,85.7 427.4,86.8 428.6,87.8 429.7,88.7 430.9,89.4 432.0,90.0 433.2,90.5 434.4,91.0 435.5,91.4 436.7,91.8 437.8,92.2 439.0,92.8 440.1,93.4 441.3,94.1 442.5,95.0 443.6,96.0 444.8,97.1 445.9,98.4 447.1,100.5 448.3,103.5 449.4,106.5 450.6,109.1 451.7,110.9 452.9,112.5 454.0,113.4 455.2,113.2 456.4,111.9 457.5,110.1 458.7,108.4 459.8,106.1 461.0,103.9 462.1,103.0 463.3,104.0 464.5,106.6 465.6,110.0 466.8,114.5 467.9,121.8 469.1,129.5 470.2,135.7 471.4,141.7 472.6,146.7 473.7,148.8 474.9,148.8 476.0,148.8 477.2,148.8 478.3,148.8" fill="none" stroke="#6e5ccc" stroke-width="0.9" stroke-opacity="1.0" stroke-linejoin="round"/>
<polyline points="346.4,130.9 347.6,130.8 348.7,130.7 349.9,130.6 351.0,130.5 352.2,130.4 353.3,130.3 354.5,130.2 355.7,130.1 356.8,129.9 358.0,129.8 359.1,129.6 360.3,129.5 361.4,129.3 362.6,129.2 363.8,129.0 364.9,128.9 366.1,128.7 367.2,128.5 368.4,128.4 369.5,128.2 370.7,128.0 371.9,127.8 373.0,127.6 374.2,127.4 375.3,127.1 376.5,126.9 377.6,126.6 378.8,126.3 380.0,125.9 381.1,125.5 382.3,125.1 383.4,124.5 384.6,123.7 385.8,122.8 386.9,121.7 388.1,120.5 389.2,119.1 390.4,117.0 391.5,114.1 392.7,110.7 393.9,107.1 395.0,103.5 396.2,100.2 397.3,97.2 398.5,94.1 399.6,91.0 400.8,87.9 402.0,85.1 403.1,82.8 404.3,81.0 405.4,79.5 406.6,78.1 407.7,77.0 408.9,76.2 410.1,75.9 411.2,76.0 412.4,76.2 413.5,76.5 414.7,76.9 415.8,77.3 417.0,78.0 418.2,79.0 419.3,80.3 420.5,81.7 421.6,83.0 422.8,84.3 423.9,85.4 425.1,86.5 426.3,87.6 427.4,88.6 428.6,89.6 429.7,90.5 430.9,91.2 432.0,91.8 433.2,92.3 434.4,92.7 435.5,93.1 436.7,93.5 437.8,93.9 439.0,94.4 440.1,95.1 441.3,95.8 442.5,96.6 443.6,97.5 444.8,98.6 445.9,99.9 447.1,102.0 448.3,104.8 449.4,107.8 450.6,110.3 451.7,112.0 452.9,113.5 454.0,114.5 455.2,114.2 456.4,113.0 457.5,111.2 458.7,109.6 459.8,107.4 461.0,105.3 462.1,104.3 463.3,105.3 464.5,107.8 465.6,111.2 466.8,115.6 467.9,122.6 469.1,130.1 470.2,136.0 471.4,141.9 472.6,146.8 473.7,148.8 474.9,148.8 476.0,148.8 477.2,148.8 478.3,148.8" fill="none" stroke="#6e5ccc" stroke-width="0.9" stroke-opacity="1.0" stroke-linejoin="round"/>
<polyline points="346.4,132.7 347.6,132.7 348.7,132.6 349.9,132.6 351.0,132.5 352.2,132.4 353.3,132.3 354.5,132.2 355.7,132.1 356.8,132.0 358.0,131.9 359.1,131.8 360.3,131.7 361.4,131.5 362.6,131.4 363.8,131.3 364.9,131.1 366.1,131.0 367.2,130.8 368.4,130.7 369.5,130.5 370.7,130.3 371.9,130.1 373.0,129.9 374.2,129.7 375.3,129.4 376.5,129.2 377.6,128.9 378.8,128.5 380.0,128.2 381.1,127.8 382.3,127.3 383.4,126.6 384.6,125.7 385.8,124.6 386.9,123.4 388.1,122.0 389.2,120.5 390.4,118.4 391.5,115.6 392.7,112.4 393.9,109.0 395.0,105.7 396.2,102.6 397.3,99.8 398.5,96.8 399.6,93.8 400.8,90.9 402.0,88.3 403.1,86.0 404.3,84.3 405.4,82.9 406.6,81.6 407.7,80.5 408.9,79.7 410.1,79.5 411.2,79.5 412.4,79.7 413.5,80.1 414.7,80.4 415.8,80.9 417.0,81.5 418.2,82.5 419.3,83.6 420.5,84.9 421.6,86.2 422.8,87.4 423.9,88.5 425.1,89.5 426.3,90.6 427.4,91.6 428.6,92.5 429.7,93.3 430.9,94.0 432.0,94.6 433.2,95.0 434.4,95.4 435.5,95.8 436.7,96.2 437.8,96.6 439.0,97.1 440.1,97.7 441.3,98.4 442.5,99.2 443.6,100.1 444.8,101.1 445.9,102.3 447.1,104.3 448.3,107.0 449.4,109.8 450.6,112.2 451.7,113.8 452.9,115.3 454.0,116.1 455.2,115.9 456.4,114.7 457.5,113.1 458.7,111.5 459.8,109.4 461.0,107.4 462.1,106.5 463.3,107.4 464.5,109.8 465.6,113.0 466.8,117.2 467.9,123.8 469.1,131.0 470.2,136.7 471.4,142.2 472.6,146.9 473.7,148.8 474.9,148.8 476.0,148.8 477.2,148.8 478.3,148.8" fill="none" stroke="#5e62d0" stroke-width="0.9" stroke-opacity="1.0" stroke-linejoin="round"/>
<polyline points="346.4,133.6 347.6,133.6 348.7,133.5 349.9,133.4 351.0,133.4 352.2,133.3 353.3,133.2 354.5,133.1 355.7,133.0 356.8,132.9 358.0,132.8 359.1,132.7 360.3,132.6 361.4,132.4 362.6,132.3 363.8,132.2 364.9,132.0 366.1,131.9 367.2,131.7 368.4,131.6 369.5,131.4 370.7,131.2 371.9,131.0 373.0,130.8 374.2,130.6 375.3,130.3 376.5,130.1 377.6,129.7 378.8,129.4 380.0,129.1 381.1,128.7 382.3,128.2 383.4,127.4 384.6,126.5 385.8,125.5 386.9,124.3 388.1,122.9 389.2,121.4 390.4,119.3 391.5,116.6 392.7,113.5 393.9,110.3 395.0,107.1 396.2,104.1 397.3,101.3 398.5,98.5 399.6,95.6 400.8,92.8 402.0,90.2 403.1,88.0 404.3,86.4 405.4,85.1 406.6,83.8 407.7,82.7 408.9,82.0 410.1,81.7 411.2,81.8 412.4,82.0 413.5,82.3 414.7,82.6 415.8,83.0 417.0,83.7 418.2,84.6 419.3,85.7 420.5,87.0 421.6,88.3 422.8,89.4 423.9,90.4 425.1,91.4 426.3,92.4 427.4,93.4 428.6,94.3 429.7,95.1 430.9,95.8 432.0,96.3 433.2,96.8 434.4,97.2 435.5,97.5 436.7,97.9 437.8,98.3 439.0,98.8 440.1,99.3 441.3,100.0 442.5,100.8 443.6,101.6 444.8,102.6 445.9,103.8 447.1,105.7 448.3,108.3 449.4,111.1 450.6,113.3 451.7,114.9 452.9,116.4 454.0,117.2 455.2,117.0 456.4,115.8 457.5,114.2 458.7,112.7 459.8,110.7 461.0,108.7 462.1,107.9 463.3,108.8 464.5,111.1 465.6,114.2 466.8,118.2 467.9,124.7 469.1,131.6 470.2,137.1 471.4,142.4 472.6,146.9 473.7,148.8 474.9,148.8 476.0,148.8 477.2,148.8 478.3,148.8" fill="none" stroke="#5e62d0" stroke-width="0.9" stroke-opacity="1.0" stroke-linejoin="round"/>
<polyline points="346.4,134.5 347.6,134.4 348.7,134.4 349.9,134.3 351.0,134.3 352.2,134.2 353.3,134.1 354.5,134.0 355.7,133.9 356.8,133.8 358.0,133.7 359.1,133.6 360.3,133.4 361.4,133.3 362.6,133.2 363.8,133.1 364.9,132.9 366.1,132.8 367.2,132.6 368.4,132.5 369.5,132.3 370.7,132.1 371.9,131.9 373.0,131.7 374.2,131.5 375.3,131.2 376.5,130.9 377.6,130.6 378.8,130.3 380.0,130.0 381.1,129.6 382.3,129.1 383.4,128.3 384.6,127.4 385.8,126.4 386.9,125.2 388.1,123.8 389.2,122.3 390.4,120.3 391.5,117.7 392.7,114.7 393.9,111.6 395.0,108.5 396.2,105.6 397.3,102.9 398.5,100.2 399.6,97.3 400.8,94.6 402.0,92.2 403.1,90.1 404.3,88.5 405.4,87.2 406.6,85.9 407.7,84.9 408.9,84.2 410.1,83.9 411.2,84.0 412.4,84.2 413.5,84.5 414.7,84.8 415.8,85.2 417.0,85.8 418.2,86.7 419.3,87.9 420.5,89.1 421.6,90.3 422.8,91.4 423.9,92.4 425.1,93.3 426.3,94.3 427.4,95.3 428.6,96.1 429.7,96.9 430.9,97.6 432.0,98.1 433.2,98.5 434.4,98.9 435.5,99.2 436.7,99.6 437.8,100.0 439.0,100.4 440.1,101.0 441.3,101.6 442.5,102.4 443.6,103.2 444.8,104.2 445.9,105.3 447.1,107.1 448.3,109.7 449.4,112.3 450.6,114.5 451.7,116.1 452.9,117.4 454.0,118.3 455.2,118.1 456.4,116.9 457.5,115.4 458.7,113.9 459.8,112.0 461.0,110.1 462.1,109.2 463.3,110.1 464.5,112.4 465.6,115.3 466.8,119.2 467.9,125.5 469.1,132.1 470.2,137.5 471.4,142.6 472.6,147.0 473.7,148.8 474.9,148.8 476.0,148.8 477.2,148.8 478.3,148.8" fill="none" stroke="#5e62d0" stroke-width="0.9" stroke-opacity="1.0" stroke-linejoin="round"/>
<polyline points="346.4,135.4 347.6,135.3 348.7,135.3 349.9,135.2 351.0,135.2 352.2,135.1 353.3,135.0 354.5,134.9 355.7,134.8 356.8,134.7 358.0,134.6 359.1,134.5 360.3,134.3 361.4,134.2 362.6,134.1 363.8,133.9 364.9,133.8 366.1,133.7 367.2,133.5 368.4,133.4 369.5,133.2 370.7,133.0 371.9,132.8 373.0,132.6 374.2,132.4 375.3,132.1 376.5,131.8 377.6,131.5 378.8,131.2 380.0,130.8 381.1,130.5 382.3,129.9 383.4,129.2 384.6,128.3 385.8,127.2 386.9,126.0 388.1,124.7 389.2,123.2 390.4,121.2 391.5,118.7 392.7,115.8 393.9,112.8 395.0,109.8 396.2,107.1 397.3,104.5 398.5,101.8 399.6,99.1 400.8,96.5 402.0,94.1 403.1,92.1 404.3,90.6 405.4,89.3 406.6,88.1 407.7,87.1 408.9,86.4 410.1,86.2 411.2,86.2 412.4,86.4 413.5,86.7 414.7,87.0 415.8,87.4 417.0,88.0 418.2,88.9 419.3,90.0 420.5,91.1 421.6,92.3 422.8,93.4 423.9,94.3 425.1,95.3 426.3,96.2 427.4,97.1 428.6,97.9 429.7,98.7 430.9,99.3 432.0,99.8 433.2,100.2 434.4,100.6 435.5,100.9 436.7,101.3 437.8,101.7 439.0,102.1 440.1,102.6 441.3,103.3 442.5,104.0 443.6,104.8 444.8,105.7 445.9,106.8 447.1,108.6 448.3,111.0 449.4,113.6 450.6,115.7 451.7,117.2 452.9,118.5 454.0,119.3 455.2,119.1 456.4,118.0 457.5,116.5 458.7,115.1 459.8,113.2 461.0,111.4 462.1,110.6 463.3,111.5 464.5,113.6 465.6,116.5 466.8,120.3 467.9,126.3 469.1,132.7 470.2,137.8 471.4,142.8 472.6,147.0 473.7,148.8 474.9,148.8 476.0,148.8 477.2,148.8 478.3,148.8" fill="none" stroke="#5e62d0" stroke-width="0.9" stroke-opacity="1.0" stroke-linejoin="round"/>
<polyline points="346.4,133.6 347.6,133.6 348.7,133.5 349.9,133.4 351.0,133.4 352.2,133.3 353.3,133.2 354.5,133.1 355.7,133.0 356.8,132.9 358.0,132.8 359.1,132.7 360.3,132.6 361.4,132.4 362.6,132.3 363.8,132.2 364.9,132.0 366.1,131.9 367.2,131.7 368.4,131.6 369.5,131.4 370.7,131.3 371.9,131.1 373.0,130.9 374.2,130.6 375.3,130.4 376.5,130.1 377.6,129.8 378.8,129.4 380.0,129.1 381.1,128.7 382.3,128.1 383.4,127.2 384.6,126.1 385.8,124.8 386.9,123.3 388.1,121.7 389.2,119.9 390.4,117.6 391.5,114.7 392.7,111.5 393.9,108.2 395.0,104.8 396.2,101.7 397.3,98.8 398.5,95.8 399.6,92.7 400.8,89.8 402.0,87.1 403.1,84.8 404.3,83.1 405.4,81.7 406.6,80.3 407.7,79.2 408.9,78.4 410.1,78.1 411.2,78.2 412.4,78.6 413.5,79.0 414.7,79.6 415.8,80.2 417.0,81.1 418.2,82.4 419.3,84.0 420.5,85.7 421.6,87.4 422.8,89.0 423.9,90.3 425.1,91.7 426.3,93.1 427.4,94.5 428.6,95.7 429.7,96.9 430.9,97.9 432.0,98.8 433.2,99.5 434.4,100.2 435.5,100.9 436.7,101.5 437.8,102.2 439.0,103.0 440.1,103.9 441.3,104.8 442.5,105.9 443.6,107.1 444.8,108.4 445.9,109.9 447.1,112.3 448.3,115.6 449.4,118.6 450.6,120.4 451.7,120.5 452.9,120.3 454.0,120.0 455.2,118.9 456.4,115.9 457.5,112.1 458.7,108.9 459.8,105.3 461.0,102.1 462.1,100.7 463.3,101.8 464.5,104.4 465.6,108.0 466.8,112.7 467.9,120.4 469.1,128.7 470.2,135.2 471.4,141.4 472.6,146.6 473.7,148.8 474.9,148.8 476.0,148.8 477.2,148.8 478.3,148.8" fill="none" stroke="#34467a" stroke-width="1.0" stroke-opacity="1.0" stroke-linejoin="round"/>
<polyline points="346.4,134.5 347.6,134.4 348.7,134.4 349.9,134.3 351.0,134.3 352.2,134.2 353.3,134.1 354.5,134.0 355.7,133.9 356.8,133.8 358.0,133.7 359.1,133.6 360.3,133.4 361.4,133.3 362.6,133.2 363.8,133.1 364.9,132.9 366.1,132.8 367.2,132.6 368.4,132.5 369.5,132.3 370.7,132.1 371.9,131.9 373.0,131.7 374.2,131.5 375.3,131.3 376.5,131.0 377.6,130.7 378.8,130.3 380.0,130.0 381.1,129.6 382.3,129.0 383.4,128.2 384.6,127.2 385.8,125.9 386.9,124.5 388.1,123.0 389.2,121.4 390.4,119.2 391.5,116.5 392.7,113.4 393.9,110.2 395.0,107.0 396.2,104.1 397.3,101.3 398.5,98.5 399.6,95.6 400.8,92.8 402.0,90.2 403.1,88.0 404.3,86.4 405.4,85.1 406.6,83.8 407.7,82.7 408.9,82.0 410.1,81.7 411.2,81.8 412.4,82.1 413.5,82.6 414.7,83.1 415.8,83.7 417.0,84.6 418.2,85.8 419.3,87.3 420.5,88.9 421.6,90.5 422.8,92.0 423.9,93.3 425.1,94.6 426.3,95.9 427.4,97.2 428.6,98.4 429.7,99.5 430.9,100.5 432.0,101.3 433.2,102.0 434.4,102.7 435.5,103.3 436.7,103.9 437.8,104.6 439.0,105.3 440.1,106.2 441.3,107.1 442.5,108.1 443.6,109.2 444.8,110.5 445.9,111.9 447.1,114.2 448.3,117.2 449.4,120.1 450.6,121.8 451.7,121.9 452.9,121.7 454.0,121.4 455.2,120.4 456.4,117.6 457.5,114.0 458.7,110.9 459.8,107.5 461.0,104.5 462.1,103.2 463.3,104.2 464.5,106.7 465.6,110.0 466.8,114.5 467.9,121.9 469.1,129.8 470.2,135.9 471.4,141.8 472.6,146.7 473.7,148.8 474.9,148.8 476.0,148.8 477.2,148.8 478.3,148.8" fill="none" stroke="#34467a" stroke-width="1.0" stroke-opacity="1.0" stroke-linejoin="round"/>
<polyline points="346.4,126.4 347.6,126.4 348.7,126.4 349.9,126.3 351.0,126.2 352.2,126.1 353.3,126.0 354.5,125.8 355.7,125.7 356.8,125.6 358.0,125.4 359.1,125.2 360.3,125.1 361.4,124.9 362.6,124.7 363.8,124.5 364.9,124.3 366.1,124.1 367.2,123.8 368.4,123.5 369.5,123.2 370.7,122.9 371.9,122.6 373.0,122.2 374.2,121.8 375.3,121.5 376.5,121.0 377.6,120.6 378.8,120.2 380.0,119.7 381.1,119.3 382.3,118.8 383.4,118.3 384.6,117.7 385.8,117.0 386.9,116.3 388.1,115.5 389.2,114.7 390.4,113.5 391.5,112.2 392.7,110.7 393.9,109.1 395.0,107.6 396.2,106.1 397.3,104.8 398.5,103.4 399.6,102.1 400.8,100.8 402.0,99.5 403.1,98.4 404.3,97.5 405.4,96.6 406.6,95.7 407.7,95.0 408.9,94.4 410.1,94.2 411.2,94.7 412.4,95.9 413.5,97.5 414.7,99.4 415.8,101.3 417.0,103.5 418.2,106.2 419.3,109.2 420.5,112.2 421.6,114.8 422.8,116.7 423.9,117.9 425.1,118.8 426.3,119.7 427.4,120.4 428.6,121.0 429.7,121.6 430.9,122.1 432.0,122.5 433.2,122.9 434.4,123.2 435.5,123.6 436.7,123.9 437.8,124.2 439.0,124.5 440.1,124.9 441.3,125.3 442.5,125.7 443.6,126.1 444.8,126.5 445.9,127.0 447.1,127.5 448.3,128.2 449.4,128.9 450.6,129.5 451.7,130.1 452.9,130.7 454.0,131.2 455.2,131.5 456.4,131.6 457.5,131.8 458.7,132.0 459.8,132.2 461.0,132.5 462.1,133.0 463.3,133.7 464.5,134.9 465.6,136.3 466.8,138.0 467.9,140.4 469.1,142.8 470.2,144.8 471.4,146.6 472.6,148.2 473.7,148.8 474.9,148.8 476.0,148.8 477.2,148.8 478.3,148.8" fill="none" stroke="#98a890" stroke-width="0.9" stroke-opacity="1.0" stroke-linejoin="round"/>
<polyline points="346.4,127.3 347.6,127.3 348.7,127.2 349.9,127.2 351.0,127.1 352.2,127.0 353.3,126.9 354.5,126.7 355.7,126.6 356.8,126.5 358.0,126.3 359.1,126.1 360.3,126.0 361.4,125.8 362.6,125.6 363.8,125.4 364.9,125.2 366.1,125.0 367.2,124.7 368.4,124.4 369.5,124.1 370.7,123.8 371.9,123.4 373.0,123.1 374.2,122.7 375.3,122.3 376.5,121.9 377.6,121.5 378.8,121.0 380.0,120.6 381.1,120.2 382.3,119.7 383.4,119.2 384.6,118.7 385.8,118.2 386.9,117.6 388.1,116.9 389.2,116.1 390.4,115.0 391.5,113.7 392.7,112.3 393.9,110.8 395.0,109.3 396.2,107.9 397.3,106.6 398.5,105.3 399.6,104.0 400.8,102.7 402.0,101.6 403.1,100.5 404.3,99.6 405.4,98.8 406.6,97.9 407.7,97.2 408.9,96.7 410.1,96.5 411.2,96.9 412.4,98.0 413.5,99.6 414.7,101.5 415.8,103.3 417.0,105.4 418.2,108.0 419.3,110.9 420.5,113.7 421.6,116.2 422.8,118.0 423.9,119.1 425.1,120.1 426.3,120.9 427.4,121.5 428.6,122.1 429.7,122.7 430.9,123.2 432.0,123.6 433.2,124.0 434.4,124.3 435.5,124.6 436.7,124.9 437.8,125.2 439.0,125.5 440.1,125.9 441.3,126.3 442.5,126.6 443.6,127.0 444.8,127.4 445.9,127.9 447.1,128.4 448.3,129.0 449.4,129.7 450.6,130.3 451.7,130.9 452.9,131.5 454.0,132.0 455.2,132.2 456.4,132.3 457.5,132.5 458.7,132.6 459.8,132.9 461.0,133.2 462.1,133.6 463.3,134.3 464.5,135.5 465.6,136.8 466.8,138.5 467.9,140.7 469.1,143.1 470.2,144.9 471.4,146.7 472.6,148.2 473.7,148.8 474.9,148.8 476.0,148.8 477.2,148.8 478.3,148.8" fill="none" stroke="#98a890" stroke-width="0.9" stroke-opacity="1.0" stroke-linejoin="round"/>
<polyline points="346.4,128.2 347.6,128.2 348.7,128.1 349.9,128.1 351.0,128.0 352.2,127.9 353.3,127.8 354.5,127.6 355.7,127.5 356.8,127.3 358.0,127.2 359.1,127.0 360.3,126.9 361.4,126.7 362.6,126.5 363.8,126.3 364.9,126.1 366.1,125.8 367.2,125.6 368.4,125.3 369.5,125.0 370.7,124.6 371.9,124.3 373.0,123.9 374.2,123.5 375.3,123.1 376.5,122.7 377.6,122.3 378.8,121.9 380.0,121.5 381.1,121.1 382.3,120.7 383.4,120.2 384.6,119.8 385.8,119.3 386.9,118.8 388.1,118.2 389.2,117.5 390.4,116.5 391.5,115.3 392.7,113.9 393.9,112.4 395.0,111.0 396.2,109.6 397.3,108.4 398.5,107.2 399.6,105.9 400.8,104.7 402.0,103.6 403.1,102.6 404.3,101.7 405.4,100.9 406.6,100.1 407.7,99.4 408.9,98.9 410.1,98.7 411.2,99.1 412.4,100.2 413.5,101.7 414.7,103.5 415.8,105.2 417.0,107.2 418.2,109.7 419.3,112.5 420.5,115.2 421.6,117.6 422.8,119.3 423.9,120.4 425.1,121.3 426.3,122.1 427.4,122.7 428.6,123.3 429.7,123.8 430.9,124.3 432.0,124.7 433.2,125.0 434.4,125.3 435.5,125.6 436.7,125.9 437.8,126.2 439.0,126.5 440.1,126.9 441.3,127.2 442.5,127.6 443.6,127.9 444.8,128.3 445.9,128.8 447.1,129.3 448.3,129.9 449.4,130.5 450.6,131.1 451.7,131.6 452.9,132.2 454.0,132.7 455.2,132.9 456.4,133.0 457.5,133.2 458.7,133.3 459.8,133.6 461.0,133.9 462.1,134.3 463.3,135.0 464.5,136.0 465.6,137.3 466.8,138.9 467.9,141.1 469.1,143.3 470.2,145.1 471.4,146.8 472.6,148.2 473.7,148.8 474.9,148.8 476.0,148.8 477.2,148.8 478.3,148.8" fill="none" stroke="#98a890" stroke-width="0.9" stroke-opacity="1.0" stroke-linejoin="round"/>
<polyline points="346.4,130.0 347.6,130.0 348.7,129.9 349.9,129.8 351.0,129.7 352.2,129.6 353.3,129.5 354.5,129.4 355.7,129.2 356.8,129.1 358.0,128.9 359.1,128.8 360.3,128.6 361.4,128.5 362.6,128.3 363.8,128.1 364.9,127.9 366.1,127.7 367.2,127.5 368.4,127.3 369.5,127.0 370.7,126.8 371.9,126.5 373.0,126.2 374.2,125.9 375.3,125.6 376.5,125.3 377.6,124.9 378.8,124.5 380.0,124.1 381.1,123.7 382.3,123.3 383.4,122.8 384.6,122.2 385.8,121.6 386.9,120.9 388.1,120.2 389.2,119.4 390.4,118.4 391.5,117.2 392.7,115.9 393.9,114.6 395.0,113.3 396.2,112.1 397.3,110.9 398.5,109.8 399.6,108.6 400.8,107.5 402.0,106.4 403.1,105.5 404.3,104.6 405.4,103.9 406.6,103.1 407.7,102.5 408.9,102.0 410.1,101.8 411.2,102.2 412.4,103.2 413.5,104.7 414.7,106.3 415.8,107.9 417.0,109.8 418.2,112.2 419.3,114.8 420.5,117.3 421.6,119.5 422.8,121.2 423.9,122.2 425.1,123.0 426.3,123.7 427.4,124.3 428.6,124.9 429.7,125.4 430.9,125.8 432.0,126.2 433.2,126.5 434.4,126.8 435.5,127.1 436.7,127.4 437.8,127.6 439.0,127.9 440.1,128.2 441.3,128.6 442.5,128.9 443.6,129.2 444.8,129.6 445.9,130.0 447.1,130.5 448.3,131.1 449.4,131.6 450.6,132.2 451.7,132.7 452.9,133.3 454.0,133.7 455.2,133.9 456.4,134.0 457.5,134.1 458.7,134.3 459.8,134.5 461.0,134.8 462.1,135.2 463.3,135.8 464.5,136.8 465.6,138.0 466.8,139.5 467.9,141.6 469.1,143.7 470.2,145.3 471.4,146.9 472.6,148.2 473.7,148.8 474.9,148.8 476.0,148.8 477.2,148.8 478.3,148.8" fill="none" stroke="#b8b8b8" stroke-width="0.9" stroke-opacity="1.0" stroke-linejoin="round"/>
<polyline points="346.4,130.0 347.6,130.0 348.7,129.9 349.9,129.8 351.0,129.7 352.2,129.6 353.3,129.5 354.5,129.4 355.7,129.2 356.8,129.1 358.0,128.9 359.1,128.8 360.3,128.6 361.4,128.5 362.6,128.3 363.8,128.1 364.9,127.9 366.1,127.7 367.2,127.5 368.4,127.2 369.5,126.9 370.7,126.7 371.9,126.4 373.0,126.1 374.2,125.8 375.3,125.4 376.5,125.1 377.6,124.8 378.8,124.4 380.0,124.1 381.1,123.7 382.3,123.4 383.4,123.1 384.6,122.7 385.8,122.4 386.9,121.9 388.1,121.4 389.2,120.8 390.4,120.0 391.5,118.9 392.7,117.7 393.9,116.3 395.0,115.0 396.2,113.8 397.3,112.7 398.5,111.6 399.6,110.5 400.8,109.4 402.0,108.4 403.1,107.5 404.3,106.8 405.4,106.0 406.6,105.3 407.7,104.7 408.9,104.2 410.1,104.1 411.2,104.4 412.4,105.4 413.5,106.8 414.7,108.3 415.8,109.9 417.0,111.7 418.2,113.9 419.3,116.4 420.5,118.8 421.6,120.9 422.8,122.5 423.9,123.4 425.1,124.2 426.3,124.9 427.4,125.5 428.6,126.0 429.7,126.5 430.9,126.9 432.0,127.2 433.2,127.6 434.4,127.9 435.5,128.1 436.7,128.4 437.8,128.6 439.0,128.9 440.1,129.2 441.3,129.5 442.5,129.8 443.6,130.2 444.8,130.5 445.9,130.9 447.1,131.4 448.3,131.9 449.4,132.4 450.6,133.0 451.7,133.5 452.9,134.0 454.0,134.4 455.2,134.6 456.4,134.7 457.5,134.8 458.7,135.0 459.8,135.2 461.0,135.5 462.1,135.8 463.3,136.4 464.5,137.4 465.6,138.5 466.8,140.0 467.9,141.9 469.1,143.9 470.2,145.5 471.4,147.0 472.6,148.3 473.7,148.8 474.9,148.8 476.0,148.8 477.2,148.8 478.3,148.8" fill="none" stroke="#b8b8b8" stroke-width="0.9" stroke-opacity="1.0" stroke-linejoin="round"/>
<polyline points="346.4,133.6 347.6,133.6 348.7,133.6 349.9,133.5 351.0,133.5 352.2,133.4 353.3,133.3 354.5,133.2 355.7,133.1 356.8,133.0 358.0,132.8 359.1,132.7 360.3,132.6 361.4,132.4 362.6,132.3 363.8,132.1 364.9,132.0 366.1,131.8 367.2,131.5 368.4,131.3 369.5,131.0 370.7,130.7 371.9,130.4 373.0,130.0 374.2,129.7 375.3,129.3 376.5,128.9 377.6,128.5 378.8,128.1 380.0,127.7 381.1,127.3 382.3,126.9 383.4,126.5 384.6,126.0 385.8,125.5 386.9,125.0 388.1,124.3 389.2,123.6 390.4,122.7 391.5,121.6 392.7,120.4 393.9,119.1 395.0,117.8 396.2,116.6 397.3,115.4 398.5,114.1 399.6,112.8 400.8,111.5 402.0,110.3 403.1,109.3 404.3,108.4 405.4,107.7 406.6,107.0 407.7,106.4 408.9,106.0 410.1,105.9 411.2,106.2 412.4,107.1 413.5,108.4 414.7,109.9 415.8,111.4 417.0,113.2 418.2,115.5 419.3,118.0 420.5,120.4 421.6,122.5 422.8,124.0 423.9,124.8 425.1,125.4 426.3,125.9 427.4,126.3 428.6,126.6 429.7,127.0 430.9,127.3 432.0,127.7 433.2,128.0 434.4,128.2 435.5,128.5 436.7,128.7 437.8,129.0 439.0,129.3 440.1,129.6 441.3,129.9 442.5,130.2 443.6,130.5 444.8,130.8 445.9,131.2 447.1,131.6 448.3,132.1 449.4,132.7 450.6,133.2 451.7,133.7 452.9,134.2 454.0,134.5 455.2,134.7 456.4,134.9 457.5,135.0 458.7,135.1 459.8,135.3 461.0,135.6 462.1,135.9 463.3,136.5 464.5,137.4 465.6,138.5 466.8,139.9 467.9,141.8 469.1,143.8 470.2,145.4 471.4,147.0 472.6,148.3 473.7,148.8 474.9,148.8 476.0,148.8 477.2,148.8 478.3,148.8" fill="none" stroke="#9fd6de" stroke-width="0.9" stroke-opacity="1.0" stroke-linejoin="round"/>
<polyline points="346.4,134.5 347.6,134.5 348.7,134.4 349.9,134.4 351.0,134.3 352.2,134.3 353.3,134.2 354.5,134.1 355.7,134.0 356.8,133.9 358.0,133.7 359.1,133.6 360.3,133.5 361.4,133.3 362.6,133.2 363.8,133.0 364.9,132.9 366.1,132.6 367.2,132.4 368.4,132.1 369.5,131.8 370.7,131.5 371.9,131.2 373.0,130.9 374.2,130.5 375.3,130.1 376.5,129.8 377.6,129.4 378.8,129.0 380.0,128.6 381.1,128.2 382.3,127.8 383.4,127.5 384.6,127.1 385.8,126.6 386.9,126.1 388.1,125.6 389.2,125.0 390.4,124.1 391.5,123.1 392.7,121.9 393.9,120.7 395.0,119.4 396.2,118.2 397.3,117.1 398.5,115.9 399.6,114.7 400.8,113.4 402.0,112.3 403.1,111.3 404.3,110.5 405.4,109.9 406.6,109.2 407.7,108.6 408.9,108.2 410.1,108.1 411.2,108.4 412.4,109.3 413.5,110.5 414.7,112.0 415.8,113.4 417.0,115.1 418.2,117.2 419.3,119.6 420.5,121.9 421.6,123.9 422.8,125.3 423.9,126.0 425.1,126.6 426.3,127.1 427.4,127.5 428.6,127.8 429.7,128.1 430.9,128.4 432.0,128.8 433.2,129.0 434.4,129.3 435.5,129.5 436.7,129.8 437.8,130.0 439.0,130.3 440.1,130.6 441.3,130.9 442.5,131.1 443.6,131.4 444.8,131.8 445.9,132.1 447.1,132.5 448.3,133.0 449.4,133.5 450.6,134.0 451.7,134.5 452.9,134.9 454.0,135.3 455.2,135.5 456.4,135.6 457.5,135.7 458.7,135.8 459.8,136.0 461.0,136.3 462.1,136.6 463.3,137.2 464.5,138.0 465.6,139.1 466.8,140.4 467.9,142.2 469.1,144.1 470.2,145.6 471.4,147.1 472.6,148.3 473.7,148.8 474.9,148.8 476.0,148.8 477.2,148.8 478.3,148.8" fill="none" stroke="#9fd6de" stroke-width="0.9" stroke-opacity="1.0" stroke-linejoin="round"/>
<polyline points="346.4,135.4 347.6,135.4 348.7,135.3 349.9,135.3 351.0,135.2 352.2,135.2 353.3,135.1 354.5,135.0 355.7,134.9 356.8,134.8 358.0,134.6 359.1,134.5 360.3,134.4 361.4,134.2 362.6,134.1 363.8,133.9 364.9,133.7 366.1,133.5 367.2,133.3 368.4,133.0 369.5,132.7 370.7,132.4 371.9,132.1 373.0,131.7 374.2,131.3 375.3,131.0 376.5,130.6 377.6,130.2 378.8,129.8 380.0,129.5 381.1,129.1 382.3,128.8 383.4,128.4 384.6,128.1 385.8,127.7 386.9,127.3 388.1,126.8 389.2,126.3 390.4,125.5 391.5,124.5 392.7,123.4 393.9,122.2 395.0,121.0 396.2,119.9 397.3,118.8 398.5,117.7 399.6,116.5 400.8,115.4 402.0,114.3 403.1,113.4 404.3,112.6 405.4,112.0 406.6,111.4 407.7,110.8 408.9,110.5 410.1,110.3 411.2,110.6 412.4,111.5 413.5,112.7 414.7,114.0 415.8,115.3 417.0,116.9 418.2,119.0 419.3,121.2 420.5,123.4 421.6,125.3 422.8,126.6 423.9,127.3 425.1,127.8 426.3,128.3 427.4,128.6 428.6,129.0 429.7,129.3 430.9,129.6 432.0,129.9 433.2,130.1 434.4,130.4 435.5,130.6 436.7,130.8 437.8,131.1 439.0,131.3 440.1,131.6 441.3,131.8 442.5,132.1 443.6,132.4 444.8,132.7 445.9,133.0 447.1,133.4 448.3,133.9 449.4,134.4 450.6,134.8 451.7,135.2 452.9,135.7 454.0,136.0 455.2,136.2 456.4,136.3 457.5,136.4 458.7,136.5 459.8,136.7 461.0,136.9 462.1,137.3 463.3,137.8 464.5,138.6 465.6,139.6 466.8,140.8 467.9,142.6 469.1,144.4 470.2,145.8 471.4,147.2 472.6,148.3 473.7,148.8 474.9,148.8 476.0,148.8 477.2,148.8 478.3,148.8" fill="none" stroke="#9fd6de" stroke-width="0.9" stroke-opacity="1.0" stroke-linejoin="round"/>
<polyline points="346.4,136.3 347.6,136.3 348.7,136.2 349.9,136.2 351.0,136.1 352.2,136.1 353.3,136.0 354.5,135.9 355.7,135.8 356.8,135.7 358.0,135.5 359.1,135.4 360.3,135.3 361.4,135.1 362.6,135.0 363.8,134.8 364.9,134.6 366.1,134.4 367.2,134.2 368.4,133.9 369.5,133.6 370.7,133.2 371.9,132.9 373.0,132.5 374.2,132.2 375.3,131.8 376.5,131.4 377.6,131.1 378.8,130.7 380.0,130.3 381.1,130.0 382.3,129.7 383.4,129.4 384.6,129.1 385.8,128.8 386.9,128.5 388.1,128.1 389.2,127.6 390.4,126.9 391.5,126.0 392.7,124.9 393.9,123.8 395.0,122.7 396.2,121.6 397.3,120.6 398.5,119.5 399.6,118.4 400.8,117.3 402.0,116.3 403.1,115.4 404.3,114.7 405.4,114.1 406.6,113.5 407.7,113.0 408.9,112.7 410.1,112.6 411.2,112.9 412.4,113.6 413.5,114.8 414.7,116.0 415.8,117.3 417.0,118.8 418.2,120.7 419.3,122.8 420.5,124.9 421.6,126.7 422.8,127.9 423.9,128.5 425.1,129.0 426.3,129.5 427.4,129.8 428.6,130.1 429.7,130.4 430.9,130.7 432.0,131.0 433.2,131.2 434.4,131.4 435.5,131.7 436.7,131.9 437.8,132.1 439.0,132.3 440.1,132.6 441.3,132.8 442.5,133.1 443.6,133.3 444.8,133.6 445.9,133.9 447.1,134.3 448.3,134.7 449.4,135.2 450.6,135.6 451.7,136.0 452.9,136.4 454.0,136.8 455.2,136.9 456.4,137.0 457.5,137.1 458.7,137.3 459.8,137.4 461.0,137.6 462.1,137.9 463.3,138.4 464.5,139.2 465.6,140.1 466.8,141.3 467.9,142.9 469.1,144.6 470.2,146.0 471.4,147.3 472.6,148.3 473.7,148.8 474.9,148.8 476.0,148.8 477.2,148.8 478.3,148.8" fill="none" stroke="#9fd6de" stroke-width="0.9" stroke-opacity="1.0" stroke-linejoin="round"/>
<polyline points="346.4,137.2 347.6,137.2 348.7,137.1 349.9,137.1 351.0,137.0 352.2,137.0 353.3,136.9 354.5,136.8 355.7,136.7 356.8,136.5 358.0,136.4 359.1,136.3 360.3,136.2 361.4,136.0 362.6,135.9 363.8,135.7 364.9,135.5 366.1,135.3 367.2,135.0 368.4,134.7 369.5,134.4 370.7,134.1 371.9,133.7 373.0,133.3 374.2,133.0 375.3,132.6 376.5,132.2 377.6,131.9 378.8,131.5 380.0,131.2 381.1,130.9 382.3,130.6 383.4,130.4 384.6,130.2 385.8,129.9 386.9,129.7 388.1,129.3 389.2,128.9 390.4,128.3 391.5,127.4 392.7,126.4 393.9,125.4 395.0,124.3 396.2,123.3 397.3,122.3 398.5,121.3 399.6,120.3 400.8,119.3 402.0,118.3 403.1,117.5 404.3,116.8 405.4,116.3 406.6,115.7 407.7,115.3 408.9,114.9 410.1,114.8 411.2,115.1 412.4,115.8 413.5,116.9 414.7,118.0 415.8,119.2 417.0,120.6 418.2,122.4 419.3,124.4 420.5,126.4 421.6,128.0 422.8,129.2 423.9,129.8 425.1,130.3 426.3,130.6 427.4,131.0 428.6,131.3 429.7,131.5 430.9,131.8 432.0,132.1 433.2,132.3 434.4,132.5 435.5,132.7 436.7,132.9 437.8,133.1 439.0,133.3 440.1,133.6 441.3,133.8 442.5,134.1 443.6,134.3 444.8,134.6 445.9,134.9 447.1,135.2 448.3,135.6 449.4,136.0 450.6,136.4 451.7,136.8 452.9,137.2 454.0,137.5 455.2,137.7 456.4,137.8 457.5,137.8 458.7,138.0 459.8,138.1 461.0,138.3 462.1,138.6 463.3,139.1 464.5,139.8 465.6,140.7 466.8,141.8 467.9,143.3 469.1,144.9 470.2,146.1 471.4,147.4 472.6,148.4 473.7,148.8 474.9,148.8 476.0,148.8 477.2,148.8 478.3,148.8" fill="none" stroke="#9fd6de" stroke-width="0.9" stroke-opacity="1.0" stroke-linejoin="round"/>
<polyline points="346.4,141.2 347.6,141.2 348.7,141.1 349.9,141.0 351.0,141.0 352.2,140.9 353.3,140.7 354.5,140.6 355.7,140.5 356.8,140.3 358.0,140.2 359.1,140.0 360.3,139.8 361.4,139.6 362.6,139.5 363.8,139.3 364.9,139.0 366.1,138.8 367.2,138.4 368.4,138.1 369.5,137.7 370.7,137.3 371.9,136.9 373.0,136.5 374.2,136.1 375.3,135.7 376.5,135.3 377.6,134.9 378.8,134.6 380.0,134.3 381.1,134.0 382.3,133.8 383.4,133.6 384.6,133.5 385.8,133.3 386.9,133.1 388.1,132.9 389.2,132.6 390.4,132.1 391.5,131.5 392.7,130.7 393.9,129.9 395.0,129.1 396.2,128.4 397.3,127.7 398.5,126.9 399.6,126.1 400.8,125.4 402.0,124.7 403.1,124.1 404.3,123.6 405.4,123.1 406.6,122.7 407.7,122.3 408.9,122.1 410.1,122.0 411.2,122.2 412.4,122.8 413.5,123.7 414.7,124.7 415.8,125.7 417.0,126.9 418.2,128.4 419.3,130.0 420.5,131.6 421.6,133.0 422.8,134.1 423.9,134.7 425.1,135.2 426.3,135.7 427.4,136.1 428.6,136.4 429.7,136.7 430.9,137.0 432.0,137.3 433.2,137.5 434.4,137.7 435.5,137.9 436.7,138.1 437.8,138.3 439.0,138.5 440.1,138.7 441.3,138.8 442.5,138.9 443.6,139.1 444.8,139.2 445.9,139.4 447.1,139.6 448.3,139.9 449.4,140.2 450.6,140.4 451.7,140.6 452.9,140.8 454.0,141.0 455.2,141.1 456.4,141.2 457.5,141.2 458.7,141.3 459.8,141.4 461.0,141.6 462.1,141.8 463.3,142.2 464.5,142.6 465.6,143.2 466.8,144.0 467.9,145.1 469.1,146.2 470.2,147.0 471.4,147.9 472.6,148.5 473.7,148.8 474.9,148.8 476.0,148.8 477.2,148.8 478.3,148.8" fill="none" stroke="#9a6ad6" stroke-width="1.1" stroke-opacity="1.0" stroke-linejoin="round"/>
<polyline points="346.4,141.6 347.6,141.6 348.7,141.6 349.9,141.5 351.0,141.4 352.2,141.3 353.3,141.2 354.5,141.1 355.7,140.9 356.8,140.8 358.0,140.6 359.1,140.4 360.3,140.3 361.4,140.1 362.6,139.9 363.8,139.7 364.9,139.5 366.1,139.2 367.2,138.8 368.4,138.4 369.5,138.0 370.7,137.6 371.9,137.2 373.0,136.8 374.2,136.3 375.3,135.9 376.5,135.6 377.6,135.2 378.8,134.9 380.0,134.7 381.1,134.5 382.3,134.4 383.4,134.3 384.6,134.2 385.8,134.1 386.9,134.0 388.1,133.9 389.2,133.7 390.4,133.3 391.5,132.7 392.7,132.0 393.9,131.2 395.0,130.5 396.2,129.7 397.3,129.1 398.5,128.4 399.6,127.7 400.8,127.0 402.0,126.3 403.1,125.7 404.3,125.3 405.4,124.8 406.6,124.4 407.7,124.1 408.9,123.8 410.1,123.7 411.2,124.0 412.4,124.6 413.5,125.4 414.7,126.3 415.8,127.3 417.0,128.3 418.2,129.7 419.3,131.3 420.5,132.8 421.6,134.1 422.8,135.0 423.9,135.6 425.1,136.1 426.3,136.5 427.4,136.9 428.6,137.2 429.7,137.5 430.9,137.8 432.0,138.0 433.2,138.3 434.4,138.5 435.5,138.7 436.7,138.8 437.8,139.0 439.0,139.2 440.1,139.3 441.3,139.5 442.5,139.6 443.6,139.7 444.8,139.9 445.9,140.0 447.1,140.2 448.3,140.5 449.4,140.7 450.6,141.0 451.7,141.2 452.9,141.3 454.0,141.5 455.2,141.6 456.4,141.7 457.5,141.7 458.7,141.8 459.8,141.9 461.0,142.1 462.1,142.3 463.3,142.6 464.5,143.0 465.6,143.6 466.8,144.3 467.9,145.3 469.1,146.4 470.2,147.2 471.4,147.9 472.6,148.5 473.7,148.8 474.9,148.8 476.0,148.8 477.2,148.8 478.3,148.8" fill="none" stroke="#9a6ad6" stroke-width="1.1" stroke-opacity="1.0" stroke-linejoin="round"/>
<polyline points="346.4,142.1 347.6,142.1 348.7,142.0 349.9,141.9 351.0,141.9 352.2,141.8 353.3,141.6 354.5,141.5 355.7,141.4 356.8,141.2 358.0,141.1 359.1,140.9 360.3,140.7 361.4,140.5 362.6,140.4 363.8,140.2 364.9,139.9 366.1,139.6 367.2,139.2 368.4,138.8 369.5,138.3 370.7,137.8 371.9,137.4 373.0,136.9 374.2,136.5 375.3,136.1 376.5,135.7 377.6,135.4 378.8,135.2 380.0,135.0 381.1,134.9 382.3,134.9 383.4,134.9 384.6,134.9 385.8,134.9 386.9,134.9 388.1,134.9 389.2,134.8 390.4,134.5 391.5,134.0 392.7,133.3 393.9,132.6 395.0,131.8 396.2,131.1 397.3,130.5 398.5,129.8 399.6,129.2 400.8,128.5 402.0,127.9 403.1,127.4 404.3,126.9 405.4,126.6 406.6,126.2 407.7,125.9 408.9,125.6 410.1,125.5 411.2,125.7 412.4,126.3 413.5,127.1 414.7,127.9 415.8,128.8 417.0,129.8 418.2,131.1 419.3,132.5 420.5,133.9 421.6,135.1 422.8,136.0 423.9,136.6 425.1,137.0 426.3,137.4 427.4,137.8 428.6,138.1 429.7,138.3 430.9,138.6 432.0,138.8 433.2,139.0 434.4,139.2 435.5,139.4 436.7,139.5 437.8,139.7 439.0,139.9 440.1,140.0 441.3,140.1 442.5,140.3 443.6,140.4 444.8,140.5 445.9,140.7 447.1,140.8 448.3,141.1 449.4,141.3 450.6,141.5 451.7,141.7 452.9,141.9 454.0,142.0 455.2,142.1 456.4,142.2 457.5,142.2 458.7,142.3 459.8,142.4 461.0,142.6 462.1,142.8 463.3,143.0 464.5,143.5 465.6,144.0 466.8,144.6 467.9,145.6 469.1,146.5 470.2,147.3 471.4,148.0 472.6,148.6 473.7,148.8 474.9,148.8 476.0,148.8 477.2,148.8 478.3,148.8" fill="none" stroke="#9a6ad6" stroke-width="1.1" stroke-opacity="1.0" stroke-linejoin="round"/>
<polyline points="482.2,148.8 483.4,148.6 484.5,148.2 485.7,148.0 486.8,148.5 488.0,148.7" fill="none" stroke="#4a2a18" stroke-width="1.4" stroke-opacity="1.0" stroke-linejoin="round"/>
<polyline points="496.9,148.8 498.0,148.5 499.2,148.2 500.3,147.9 501.5,147.5 502.6,147.2 503.8,147.1 505.0,147.0 506.1,147.0 507.3,147.2 508.4,147.4 509.6,147.6 510.8,147.9 511.9,148.2 513.1,148.5 514.2,148.7" fill="none" stroke="#4a2a18" stroke-width="1.6" stroke-opacity="1.0" stroke-linejoin="round"/>
<circle cx="363.0" cy="147.9" r="2.6" fill="#a8dcd0"/>
<circle cx="363.0" cy="143.4" r="2.6" fill="#c4c4c4"/>
<circle cx="363.0" cy="141.2" r="2.6" fill="#c4c4c4"/>
<circle cx="363.0" cy="139.0" r="2.6" fill="#c4c4c4"/>
<circle cx="363.0" cy="136.7" r="2.6" fill="#b4b4c4"/>
<circle cx="363.0" cy="134.0" r="2.6" fill="#8a6ab0"/>
<circle cx="363.0" cy="132.2" r="2.6" fill="#3c5c7c"/>
<circle cx="363.0" cy="130.5" r="2.6" fill="#6b4a1e"/>
<circle cx="381.1" cy="147.9" r="2.6" fill="#a8dcd0"/>
<circle cx="381.1" cy="140.3" r="2.6" fill="#c4c4c4"/>
<circle cx="381.1" cy="137.6" r="2.6" fill="#c4c4c4"/>
<circle cx="381.1" cy="134.9" r="2.6" fill="#c4c4c4"/>
<circle cx="381.1" cy="132.2" r="2.6" fill="#c4c4c4"/>
<circle cx="381.1" cy="129.6" r="2.6" fill="#c4c4c4"/>
<circle cx="381.1" cy="126.9" r="2.6" fill="#c4c4c4"/>
<circle cx="381.1" cy="122.9" r="2.6" fill="#6b4a1e"/>
<circle cx="381.1" cy="120.6" r="2.6" fill="#7a5a9a"/>
<circle cx="381.1" cy="118.4" r="2.6" fill="#3c5c7c"/>
<circle cx="381.1" cy="114.8" r="2.6" fill="#6b4a1e"/>
<circle cx="408.1" cy="147.9" r="2.6" fill="#a8dcd0"/>
<circle cx="408.1" cy="140.7" r="2.6" fill="#c4c4c4"/>
<circle cx="408.1" cy="138.1" r="2.6" fill="#c4c4c4"/>
<circle cx="408.1" cy="135.4" r="2.6" fill="#c4c4c4"/>
<circle cx="408.1" cy="132.7" r="2.6" fill="#c4c4c4"/>
<circle cx="408.1" cy="130.0" r="2.6" fill="#c4c4c4"/>
<circle cx="408.1" cy="128.2" r="2.6" fill="#c4c4c4"/>
<circle cx="408.1" cy="122.0" r="2.6" fill="#6a5a20"/>
<circle cx="408.1" cy="103.2" r="2.6" fill="#1414d2"/>
<circle cx="408.1" cy="101.4" r="2.6" fill="#1414d2"/>
<circle cx="408.1" cy="99.6" r="2.6" fill="#1414d2"/>
<circle cx="408.1" cy="97.4" r="2.6" fill="#1414d2"/>
<circle cx="408.1" cy="88.0" r="2.6" fill="#6b4a1e"/>
<circle cx="408.1" cy="80.8" r="2.6" fill="#6b4a1e"/>
<circle cx="408.1" cy="75.9" r="2.6" fill="#6b4a1e"/>
<circle cx="408.1" cy="72.8" r="2.6" fill="#3c5c7c"/>
<circle cx="408.1" cy="70.1" r="2.6" fill="#3c5c7c"/>
<circle cx="408.1" cy="68.3" r="2.6" fill="#3c5c7c"/>
<circle cx="448.6" cy="147.9" r="2.6" fill="#d0d0d8"/>
<circle cx="448.6" cy="145.2" r="2.6" fill="#c4c4c4"/>
<circle cx="448.6" cy="127.8" r="2.6" fill="#1414d2"/>
<circle cx="448.6" cy="125.5" r="2.6" fill="#1414d2"/>
<circle cx="448.6" cy="122.0" r="2.6" fill="#6b4a1e"/>
<circle cx="448.6" cy="119.3" r="2.6" fill="#6b4a1e"/>
<circle cx="448.6" cy="114.8" r="2.6" fill="#3c5c7c"/>
<circle cx="448.6" cy="112.1" r="2.6" fill="#5a5a4a"/>
<circle cx="464.1" cy="147.9" r="2.6" fill="#d0d0d8"/>
<circle cx="464.1" cy="145.2" r="2.6" fill="#c4c4c4"/>
<circle cx="464.1" cy="133.1" r="2.6" fill="#1414d2"/>
<circle cx="464.1" cy="130.9" r="2.6" fill="#1414d2"/>
<circle cx="464.1" cy="127.8" r="2.6" fill="#6b4a1e"/>
<circle cx="464.1" cy="124.6" r="2.6" fill="#6b4a1e"/>
<circle cx="464.1" cy="121.1" r="2.6" fill="#3c5c7c"/>
<circle cx="477.6" cy="146.1" r="2.6" fill="#c8b8e0"/>
<circle cx="477.6" cy="143.9" r="2.6" fill="#b0a0c0"/>
<circle cx="477.6" cy="142.1" r="2.6" fill="#6b4a1e"/>
<circle cx="477.6" cy="139.0" r="2.6" fill="#5a6a7a"/>
<circle cx="494.2" cy="146.1" r="2.6" fill="#c8b8e0"/>
<circle cx="494.2" cy="143.9" r="2.6" fill="#b0a0c0"/>
<circle cx="494.2" cy="142.1" r="2.6" fill="#6b4a1e"/>
<circle cx="494.2" cy="139.0" r="2.6" fill="#5a6a7a"/>
<circle cx="525.8" cy="147.0" r="2.6" fill="#c8b8e0"/>
<circle cx="525.8" cy="144.3" r="2.6" fill="#3c5c7c"/>
<polyline points="58.2,323.1 59.4,323.2 60.5,323.3 61.7,323.4 62.8,323.5 64.0,323.5 65.1,323.6 66.3,323.6 67.4,323.6 68.6,323.6 69.7,323.7 70.9,323.7 72.0,323.7 73.2,323.7 74.4,323.7 75.5,323.6 76.7,323.5 77.8,323.2 79.0,322.8 80.1,322.4 81.3,321.8 82.4,321.1 83.6,320.3 84.7,319.4 85.9,318.5 87.0,317.5 88.2,316.4 89.4,315.2 90.5,314.0 91.7,312.8 92.8,311.5 94.0,309.8 95.1,307.6 96.3,304.9 97.4,301.8 98.6,298.6 99.7,295.3 100.9,292.1 102.0,288.7 103.2,285.2 104.4,281.5 105.5,277.6 106.7,273.7 107.8,269.8 109.0,265.7 110.1,261.3 111.3,256.7 112.4,252.2 113.6,247.7 114.7,243.6 115.9,240.0 117.0,236.5 118.2,232.9 119.4,229.7 120.5,227.3 121.7,226.4 122.8,227.3 124.0,229.7 125.1,233.0 126.3,236.7 127.4,240.4 128.6,244.5 129.7,249.5 130.9,254.9 132.0,260.3 133.2,265.2 134.4,269.2 135.5,272.0 136.7,274.5 137.8,276.9 139.0,278.9 140.1,280.7 141.3,282.2 142.4,283.3 143.6,284.1 144.7,284.8 145.9,285.4 147.0,285.9 148.2,286.4 149.4,286.9 150.5,287.6 151.7,288.3 152.8,289.2 154.0,290.1 155.1,291.2 156.3,292.4 157.4,294.0 158.6,296.8 159.7,301.0 160.9,305.4 162.0,308.8 163.2,310.6 164.3,312.2 165.5,313.0 166.7,312.4 167.8,309.8 169.0,306.5 170.1,304.0 171.3,301.6 172.4,299.6 173.6,298.8 174.7,300.1 175.9,303.3 177.0,307.5 178.2,313.1 179.3,321.9 180.5,331.0 181.7,337.6 182.8,343.4 184.0,348.1 185.1,350.0 186.3,350.0 187.4,350.0 188.6,350.0 189.7,350.0" fill="none" stroke="#5f7a90" stroke-width="0.9" stroke-opacity="1.0" stroke-linejoin="round"/>
<polyline points="58.2,324.3 59.4,324.4 60.5,324.4 61.7,324.5 62.8,324.6 64.0,324.6 65.1,324.7 66.3,324.7 67.4,324.7 68.6,324.7 69.7,324.8 70.9,324.8 72.0,324.8 73.2,324.8 74.4,324.8 75.5,324.7 76.7,324.6 77.8,324.3 79.0,323.9 80.1,323.3 81.3,322.7 82.4,322.0 83.6,321.1 84.7,320.2 85.9,319.2 87.0,318.1 88.2,317.0 89.4,315.8 90.5,314.6 91.7,313.3 92.8,311.9 94.0,310.3 95.1,308.2 96.3,305.6 97.4,302.8 98.6,299.7 99.7,296.6 100.9,293.6 102.0,290.3 103.2,286.9 104.4,283.3 105.5,279.5 106.7,275.7 107.8,271.8 109.0,267.9 110.1,263.6 111.3,259.1 112.4,254.6 113.6,250.3 114.7,246.3 115.9,242.8 117.0,239.4 118.2,235.9 119.4,232.7 120.5,230.4 121.7,229.6 122.8,230.3 124.0,232.3 125.1,235.2 126.3,238.4 127.4,241.7 128.6,245.5 129.7,250.4 130.9,255.8 132.0,261.2 133.2,266.2 134.4,270.1 135.5,272.9 136.7,275.4 137.8,277.7 139.0,279.8 140.1,281.5 141.3,283.0 142.4,284.1 143.6,284.9 144.7,285.6 145.9,286.2 147.0,286.7 148.2,287.1 149.4,287.7 150.5,288.3 151.7,289.1 152.8,289.9 154.0,290.8 155.1,291.9 156.3,293.1 157.4,294.7 158.6,297.5 159.7,301.6 160.9,305.9 162.0,309.3 163.2,311.1 164.3,312.6 165.5,313.4 166.7,313.3 167.8,312.3 169.0,310.9 170.1,309.5 171.3,307.3 172.4,305.1 173.6,304.1 174.7,305.3 175.9,308.2 177.0,312.0 178.2,316.7 179.3,324.0 180.5,331.7 181.7,337.7 182.8,343.4 184.0,348.0 185.1,350.0 186.3,350.0 187.4,350.0 188.6,350.0 189.7,350.0" fill="none" stroke="#9a9a9a" stroke-width="0.9" stroke-opacity="1.0" stroke-linejoin="round"/>
<polyline points="58.2,325.4 59.4,325.5 60.5,325.6 61.7,325.6 62.8,325.7 64.0,325.7 65.1,325.8 66.3,325.8 67.4,325.8 68.6,325.8 69.7,325.9 70.9,325.9 72.0,325.9 73.2,325.9 74.4,325.9 75.5,325.8 76.7,325.7 77.8,325.3 79.0,324.9 80.1,324.3 81.3,323.6 82.4,322.8 83.6,322.0 84.7,321.0 85.9,319.9 87.0,318.8 88.2,317.6 89.4,316.4 90.5,315.1 91.7,313.7 92.8,312.4 94.0,310.8 95.1,308.7 96.3,306.4 97.4,303.7 98.6,300.9 99.7,298.0 100.9,295.1 102.0,291.9 103.2,288.6 104.4,285.0 105.5,281.4 106.7,277.6 107.8,273.8 109.0,270.0 110.1,265.8 111.3,261.5 112.4,257.1 113.6,252.9 114.7,249.0 115.9,245.6 117.0,242.3 118.2,238.8 119.4,235.8 120.5,233.6 121.7,232.7 122.8,233.3 124.0,235.0 125.1,237.4 126.3,240.1 127.4,243.0 128.6,246.6 129.7,251.3 130.9,256.7 132.0,262.1 133.2,267.1 134.4,271.1 135.5,273.8 136.7,276.3 137.8,278.6 139.0,280.6 140.1,282.3 141.3,283.8 142.4,284.9 143.6,285.7 144.7,286.4 145.9,286.9 147.0,287.4 148.2,287.9 149.4,288.4 150.5,289.0 151.7,289.8 152.8,290.6 154.0,291.5 155.1,292.5 156.3,293.8 157.4,295.3 158.6,298.1 159.7,302.2 160.9,306.4 162.0,309.8 163.2,311.6 164.3,313.0 165.5,313.9 166.7,313.6 167.8,312.3 169.0,310.4 170.1,308.7 171.3,306.5 172.4,304.4 173.6,303.5 174.7,304.7 175.9,307.6 177.0,311.4 178.2,316.3 179.3,323.9 180.5,331.8 181.7,337.8 182.8,343.5 184.0,348.1 185.1,350.0 186.3,350.0 187.4,350.0 188.6,350.0 189.7,350.0" fill="none" stroke="#7c7c7c" stroke-width="0.9" stroke-opacity="1.0" stroke-linejoin="round"/>
<polyline points="58.2,326.5 59.4,326.6 60.5,326.7 61.7,326.7 62.8,326.8 64.0,326.8 65.1,326.9 66.3,326.9 67.4,326.9 68.6,326.9 69.7,327.0 70.9,327.0 72.0,327.0 73.2,327.0 74.4,327.0 75.5,326.9 76.7,326.7 77.8,326.4 79.0,325.9 80.1,325.3 81.3,324.5 82.4,323.7 83.6,322.7 84.7,321.7 85.9,320.6 87.0,319.4 88.2,318.2 89.4,316.9 90.5,315.6 91.7,314.2 92.8,312.8 94.0,311.3 95.1,309.4 96.3,307.3 97.4,304.9 98.6,302.3 99.7,299.7 100.9,297.0 102.0,294.0 103.2,290.8 104.4,287.4 105.5,283.8 106.7,280.1 107.8,276.5 109.0,272.7 110.1,268.7 111.3,264.5 112.4,260.3 113.6,256.3 114.7,252.5 115.9,249.2 117.0,246.0 118.2,242.6 119.4,239.7 120.5,237.6 121.7,236.7 122.8,237.2 124.0,238.4 125.1,240.2 126.3,242.4 127.4,244.7 128.6,247.9 129.7,252.4 130.9,257.8 132.0,263.3 133.2,268.3 134.4,272.3 135.5,275.0 136.7,277.5 137.8,279.7 139.0,281.7 140.1,283.4 141.3,284.8 142.4,285.9 143.6,286.7 144.7,287.4 145.9,287.9 147.0,288.4 148.2,288.9 149.4,289.4 150.5,290.0 151.7,290.7 152.8,291.5 154.0,292.4 155.1,293.4 156.3,294.7 157.4,296.2 158.6,298.9 159.7,302.9 160.9,307.1 162.0,310.4 163.2,312.2 164.3,313.6 165.5,314.4 166.7,314.0 167.8,311.9 169.0,309.2 170.1,307.0 171.3,304.7 172.4,302.8 173.6,301.9 174.7,303.1 175.9,306.2 177.0,310.1 178.2,315.3 179.3,323.4 180.5,331.9 181.7,338.1 182.8,343.6 184.0,348.1 185.1,350.0 186.3,350.0 187.4,350.0 188.6,350.0 189.7,350.0" fill="none" stroke="#5f7a90" stroke-width="0.9" stroke-opacity="1.0" stroke-linejoin="round"/>
<polyline points="58.2,327.6 59.4,327.7 60.5,327.8 61.7,327.8 62.8,327.9 64.0,327.9 65.1,328.0 66.3,328.0 67.4,328.0 68.6,328.0 69.7,328.1 70.9,328.1 72.0,328.1 73.2,328.1 74.4,328.1 75.5,328.0 76.7,327.8 77.8,327.4 79.0,326.9 80.1,326.2 81.3,325.5 82.4,324.5 83.6,323.5 84.7,322.4 85.9,321.3 87.0,320.0 88.2,318.7 89.4,317.4 90.5,316.0 91.7,314.7 92.8,313.3 94.0,311.8 95.1,310.0 96.3,308.0 97.4,305.8 98.6,303.5 99.7,301.0 100.9,298.5 102.0,295.6 103.2,292.5 104.4,289.1 105.5,285.6 106.7,282.1 107.8,278.5 109.0,274.9 110.1,271.0 111.3,266.9 112.4,262.8 113.6,258.8 114.7,255.2 115.9,252.0 117.0,248.9 118.2,245.6 119.4,242.7 120.5,240.7 121.7,239.9 122.8,240.2 124.0,241.1 125.1,242.5 126.3,244.1 127.4,246.0 128.6,248.8 129.7,253.3 130.9,258.6 132.0,264.1 133.2,269.2 134.4,273.3 135.5,276.0 136.7,278.4 137.8,280.6 139.0,282.5 140.1,284.2 141.3,285.6 142.4,286.7 143.6,287.5 144.7,288.1 145.9,288.7 147.0,289.1 148.2,289.6 149.4,290.1 150.5,290.7 151.7,291.5 152.8,292.2 154.0,293.1 155.1,294.1 156.3,295.4 157.4,296.9 158.6,299.5 159.7,303.5 160.9,307.6 162.0,310.9 163.2,312.6 164.3,314.1 165.5,314.9 166.7,314.7 167.8,313.8 169.0,312.4 170.1,311.1 171.3,309.0 172.4,306.9 173.6,305.9 174.7,307.0 175.9,309.8 177.0,313.5 178.2,318.0 179.3,325.1 180.5,332.4 181.7,338.2 182.8,343.6 184.0,348.1 185.1,350.0 186.3,350.0 187.4,350.0 188.6,350.0 189.7,350.0" fill="none" stroke="#9a9a9a" stroke-width="0.9" stroke-opacity="1.0" stroke-linejoin="round"/>
<polyline points="58.2,328.7 59.4,328.8 60.5,328.9 61.7,329.0 62.8,329.0 64.0,329.0 65.1,329.1 66.3,329.1 67.4,329.1 68.6,329.1 69.7,329.1 70.9,329.2 72.0,329.2 73.2,329.2 74.4,329.2 75.5,329.1 76.7,328.9 77.8,328.5 79.0,327.9 80.1,327.2 81.3,326.4 82.4,325.4 83.6,324.3 84.7,323.2 85.9,321.9 87.0,320.6 88.2,319.3 89.4,317.9 90.5,316.5 91.7,315.1 92.8,313.7 94.0,312.3 95.1,310.6 96.3,308.7 97.4,306.7 98.6,304.5 99.7,302.2 100.9,299.7 102.0,297.0 103.2,293.9 104.4,290.7 105.5,287.2 106.7,283.7 107.8,280.2 109.0,276.7 110.1,272.9 111.3,268.9 112.4,264.9 113.6,261.1 114.7,257.5 115.9,254.4 117.0,251.3 118.2,248.2 119.4,245.3 120.5,243.3 121.7,242.6 122.8,242.8 124.0,243.4 125.1,244.4 126.3,245.7 127.4,247.1 128.6,249.6 129.7,253.9 130.9,259.2 132.0,264.8 133.2,270.0 134.4,274.1 135.5,276.7 136.7,279.1 137.8,281.3 139.0,283.2 140.1,284.9 141.3,286.3 142.4,287.4 143.6,288.2 144.7,288.8 145.9,289.3 147.0,289.8 148.2,290.3 149.4,290.8 150.5,291.4 151.7,292.1 152.8,292.9 154.0,293.7 155.1,294.7 156.3,295.9 157.4,297.4 158.6,300.1 159.7,304.0 160.9,308.1 162.0,311.3 163.2,313.0 164.3,314.5 165.5,315.3 166.7,315.3 167.8,315.0 169.0,314.6 170.1,313.9 171.3,312.0 172.4,309.7 173.6,308.6 174.7,309.7 175.9,312.3 177.0,315.7 178.2,319.9 179.3,326.2 180.5,332.9 181.7,338.2 182.8,343.6 184.0,348.1 185.1,350.0 186.3,350.0 187.4,350.0 188.6,350.0 189.7,350.0" fill="none" stroke="#7c7c7c" stroke-width="0.9" stroke-opacity="1.0" stroke-linejoin="round"/>
<polyline points="58.2,328.1 59.4,328.1 60.5,328.0 61.7,328.0 62.8,328.0 64.0,327.9 65.1,327.9 66.3,327.8 67.4,327.8 68.6,327.7 69.7,327.6 70.9,327.5 72.0,327.4 73.2,327.3 74.4,327.2 75.5,327.0 76.7,326.7 77.8,326.2 79.0,325.5 80.1,324.7 81.3,323.8 82.4,322.8 83.6,321.6 84.7,320.4 85.9,319.2 87.0,317.9 88.2,316.6 89.4,315.3 90.5,314.0 91.7,312.7 92.8,311.5 94.0,310.3 95.1,309.1 96.3,307.9 97.4,306.6 98.6,305.1 99.7,303.5 100.9,301.5 102.0,299.1 103.2,296.2 104.4,293.0 105.5,289.6 106.7,286.0 107.8,282.6 109.0,279.2 110.1,275.5 111.3,271.6 112.4,267.8 113.6,264.0 114.7,260.6 115.9,257.6 117.0,254.6 118.2,251.6 119.4,248.8 120.5,246.9 121.7,246.1 122.8,246.5 124.0,247.5 125.1,249.0 126.3,250.9 127.4,252.8 128.6,255.5 129.7,259.4 130.9,264.0 132.0,268.8 133.2,273.2 134.4,276.7 135.5,279.2 136.7,281.5 137.8,283.6 139.0,285.5 140.1,287.1 141.3,288.5 142.4,289.5 143.6,290.3 144.7,290.9 145.9,291.4 147.0,291.9 148.2,292.3 149.4,292.8 150.5,293.4 151.7,294.1 152.8,294.8 154.0,295.7 155.1,296.6 156.3,297.8 157.4,299.2 158.6,301.8 159.7,305.6 160.9,309.5 162.0,312.6 163.2,314.3 164.3,315.5 165.5,316.3 166.7,316.8 167.8,317.3 169.0,317.5 170.1,317.5 171.3,316.5 172.4,315.1 173.6,314.4 174.7,315.2 175.9,317.2 177.0,319.9 178.2,323.2 179.3,328.3 180.5,333.8 181.7,338.6 182.8,343.7 184.0,348.1 185.1,350.0 186.3,350.0 187.4,350.0 188.6,350.0 189.7,350.0" fill="none" stroke="#a06050" stroke-width="0.9" stroke-opacity="1.0" stroke-linejoin="round"/>
<polyline points="58.2,328.1 59.4,328.1 60.5,328.0 61.7,328.0 62.8,328.0 64.0,327.9 65.1,327.9 66.3,327.8 67.4,327.8 68.6,327.7 69.7,327.6 70.9,327.5 72.0,327.4 73.2,327.3 74.4,327.2 75.5,327.0 76.7,326.7 77.8,326.1 79.0,325.4 80.1,324.5 81.3,323.5 82.4,322.4 83.6,321.2 84.7,320.0 85.9,318.7 87.0,317.4 88.2,316.1 89.4,314.9 90.5,313.7 91.7,312.5 92.8,311.5 94.0,310.6 95.1,309.8 96.3,309.0 97.4,308.1 98.6,307.2 99.7,306.0 100.9,304.6 102.0,302.5 103.2,299.8 104.4,296.8 105.5,293.4 106.7,290.0 107.8,286.7 109.0,283.4 110.1,280.0 111.3,276.3 112.4,272.7 113.6,269.2 114.7,266.0 115.9,263.1 117.0,260.4 118.2,257.5 119.4,254.9 120.5,253.1 121.7,252.4 122.8,252.8 124.0,253.7 125.1,255.1 126.3,256.8 127.4,258.7 128.6,261.2 129.7,264.9 130.9,269.2 132.0,273.7 133.2,277.8 134.4,281.2 135.5,283.5 136.7,285.7 137.8,287.6 139.0,289.4 140.1,290.9 141.3,292.2 142.4,293.2 143.6,293.9 144.7,294.5 145.9,295.0 147.0,295.4 148.2,295.8 149.4,296.3 150.5,296.8 151.7,297.5 152.8,298.2 154.0,298.9 155.1,299.9 156.3,301.0 157.4,302.3 158.6,304.7 159.7,308.3 160.9,312.0 162.0,314.9 163.2,316.4 164.3,317.6 165.5,318.4 166.7,318.8 167.8,319.2 169.0,319.5 170.1,319.5 171.3,318.5 172.4,317.2 173.6,316.5 174.7,317.3 175.9,319.2 177.0,321.7 178.2,324.9 179.3,329.6 180.5,334.8 181.7,339.3 182.8,344.1 184.0,348.2 185.1,350.0 186.3,350.0 187.4,350.0 188.6,350.0 189.7,350.0" fill="none" stroke="#a06050" stroke-width="0.9" stroke-opacity="1.0" stroke-linejoin="round"/>
<polyline points="58.2,332.1 59.4,332.0 60.5,331.9 61.7,331.8 62.8,331.7 64.0,331.6 65.1,331.5 66.3,331.4 67.4,331.2 68.6,331.1 69.7,331.0 70.9,330.8 72.0,330.7 73.2,330.5 74.4,330.4 75.5,330.2 76.7,330.0 77.8,329.9 79.0,329.7 80.1,329.6 81.3,329.4 82.4,329.2 83.6,329.0 84.7,328.8 85.9,328.6 87.0,328.4 88.2,328.1 89.4,327.8 90.5,327.5 91.7,327.1 92.8,326.7 94.0,326.2 95.1,325.5 96.3,324.6 97.4,323.5 98.6,322.3 99.7,320.9 100.9,319.3 102.0,317.0 103.2,314.0 104.4,310.6 105.5,306.9 106.7,303.3 107.8,299.9 109.0,296.8 110.1,293.6 111.3,290.3 112.4,287.2 113.6,284.3 114.7,281.9 115.9,280.1 117.0,278.5 118.2,277.1 119.4,275.9 120.5,275.1 121.7,274.8 122.8,274.9 124.0,275.1 125.1,275.4 126.3,275.8 127.4,276.3 128.6,277.0 129.7,278.0 130.9,279.3 132.0,280.7 133.2,282.2 134.4,283.4 135.5,284.6 136.7,285.7 137.8,286.8 139.0,287.9 140.1,288.9 141.3,289.8 142.4,290.6 143.6,291.2 144.7,291.7 145.9,292.1 147.0,292.5 148.2,292.9 149.4,293.4 150.5,293.9 151.7,294.6 152.8,295.3 154.0,296.1 155.1,297.1 156.3,298.3 157.4,299.6 158.6,301.7 159.7,304.6 160.9,307.7 162.0,310.3 163.2,312.0 164.3,313.6 165.5,314.6 166.7,314.3 167.8,313.0 169.0,311.3 170.1,309.6 171.3,307.3 172.4,305.1 173.6,304.1 174.7,305.1 175.9,307.7 177.0,311.2 178.2,315.7 179.3,322.9 180.5,330.7 181.7,336.8 182.8,342.9 184.0,347.9 185.1,350.0 186.3,350.0 187.4,350.0 188.6,350.0 189.7,350.0" fill="none" stroke="#6e5ccc" stroke-width="0.9" stroke-opacity="1.0" stroke-linejoin="round"/>
<polyline points="58.2,332.1 59.4,332.0 60.5,331.9 61.7,331.8 62.8,331.7 64.0,331.6 65.1,331.5 66.3,331.4 67.4,331.2 68.6,331.1 69.7,331.0 70.9,330.8 72.0,330.7 73.2,330.5 74.4,330.4 75.5,330.2 76.7,330.0 77.8,329.9 79.0,329.7 80.1,329.6 81.3,329.4 82.4,329.2 83.6,329.0 84.7,328.8 85.9,328.6 87.0,328.3 88.2,328.1 89.4,327.8 90.5,327.4 91.7,327.1 92.8,326.7 94.0,326.3 95.1,325.6 96.3,324.9 97.4,324.0 98.6,322.9 99.7,321.7 100.9,320.3 102.0,318.1 103.2,315.2 104.4,311.9 105.5,308.3 106.7,304.7 107.8,301.4 109.0,298.4 110.1,295.3 111.3,292.1 112.4,289.1 113.6,286.3 114.7,283.9 115.9,282.1 117.0,280.7 118.2,279.3 119.4,278.1 120.5,277.3 121.7,277.0 122.8,277.1 124.0,277.3 125.1,277.6 126.3,278.0 127.4,278.5 128.6,279.2 129.7,280.2 130.9,281.4 132.0,282.8 133.2,284.2 134.4,285.4 135.5,286.5 136.7,287.6 137.8,288.7 139.0,289.8 140.1,290.7 141.3,291.6 142.4,292.4 143.6,292.9 144.7,293.4 145.9,293.8 147.0,294.2 148.2,294.6 149.4,295.1 150.5,295.6 151.7,296.2 152.8,296.9 154.0,297.7 155.1,298.7 156.3,299.8 157.4,301.1 158.6,303.1 159.7,306.0 160.9,309.0 162.0,311.4 163.2,313.2 164.3,314.7 165.5,315.6 166.7,315.4 167.8,314.1 169.0,312.4 170.1,310.8 171.3,308.6 172.4,306.4 173.6,305.5 174.7,306.5 175.9,309.0 177.0,312.3 178.2,316.7 179.3,323.7 180.5,331.3 181.7,337.2 182.8,343.1 184.0,348.0 185.1,350.0 186.3,350.0 187.4,350.0 188.6,350.0 189.7,350.0" fill="none" stroke="#6e5ccc" stroke-width="0.9" stroke-opacity="1.0" stroke-linejoin="round"/>
<polyline points="58.2,333.9 59.4,333.8 60.5,333.8 61.7,333.7 62.8,333.7 64.0,333.6 65.1,333.5 66.3,333.4 67.4,333.3 68.6,333.2 69.7,333.1 70.9,333.0 72.0,332.8 73.2,332.7 74.4,332.6 75.5,332.5 76.7,332.3 77.8,332.2 79.0,332.0 80.1,331.9 81.3,331.7 82.4,331.5 83.6,331.3 84.7,331.1 85.9,330.9 87.0,330.6 88.2,330.3 89.4,330.0 90.5,329.7 91.7,329.4 92.8,329.0 94.0,328.4 95.1,327.7 96.3,326.8 97.4,325.8 98.6,324.6 99.7,323.2 100.9,321.7 102.0,319.5 103.2,316.8 104.4,313.6 105.5,310.2 106.7,306.9 107.8,303.8 109.0,300.9 110.1,298.0 111.3,295.0 112.4,292.1 113.6,289.4 114.7,287.2 115.9,285.5 117.0,284.1 118.2,282.8 119.4,281.7 120.5,280.9 121.7,280.6 122.8,280.7 124.0,280.9 125.1,281.2 126.3,281.6 127.4,282.0 128.6,282.6 129.7,283.6 130.9,284.8 132.0,286.1 133.2,287.4 134.4,288.6 135.5,289.6 136.7,290.7 137.8,291.7 139.0,292.7 140.1,293.7 141.3,294.5 142.4,295.2 143.6,295.7 144.7,296.2 145.9,296.6 147.0,297.0 148.2,297.4 149.4,297.8 150.5,298.3 151.7,298.9 152.8,299.5 154.0,300.3 155.1,301.2 156.3,302.3 157.4,303.5 158.6,305.4 159.7,308.1 160.9,311.0 162.0,313.3 163.2,315.0 164.3,316.4 165.5,317.3 166.7,317.1 167.8,315.9 169.0,314.3 170.1,312.7 171.3,310.6 172.4,308.6 173.6,307.7 174.7,308.6 175.9,311.0 177.0,314.2 178.2,318.4 179.3,325.0 180.5,332.2 181.7,337.9 182.8,343.4 184.0,348.1 185.1,350.0 186.3,350.0 187.4,350.0 188.6,350.0 189.7,350.0" fill="none" stroke="#5e62d0" stroke-width="0.9" stroke-opacity="1.0" stroke-linejoin="round"/>
<polyline points="58.2,334.8 59.4,334.7 60.5,334.7 61.7,334.6 62.8,334.6 64.0,334.5 65.1,334.4 66.3,334.3 67.4,334.2 68.6,334.1 69.7,334.0 70.9,333.9 72.0,333.7 73.2,333.6 74.4,333.5 75.5,333.3 76.7,333.2 77.8,333.1 79.0,332.9 80.1,332.8 81.3,332.6 82.4,332.4 83.6,332.2 84.7,332.0 85.9,331.8 87.0,331.5 88.2,331.2 89.4,330.9 90.5,330.6 91.7,330.2 92.8,329.9 94.0,329.3 95.1,328.6 96.3,327.7 97.4,326.7 98.6,325.5 99.7,324.1 100.9,322.6 102.0,320.5 103.2,317.8 104.4,314.7 105.5,311.5 106.7,308.2 107.8,305.3 109.0,302.5 110.1,299.6 111.3,296.7 112.4,293.9 113.6,291.4 114.7,289.2 115.9,287.6 117.0,286.2 118.2,284.9 119.4,283.9 120.5,283.1 121.7,282.9 122.8,282.9 124.0,283.1 125.1,283.4 126.3,283.8 127.4,284.2 128.6,284.8 129.7,285.7 130.9,286.9 132.0,288.2 133.2,289.4 134.4,290.6 135.5,291.6 136.7,292.6 137.8,293.6 139.0,294.6 140.1,295.5 141.3,296.3 142.4,297.0 143.6,297.5 144.7,297.9 145.9,298.3 147.0,298.7 148.2,299.1 149.4,299.5 150.5,299.9 151.7,300.5 152.8,301.2 154.0,301.9 155.1,302.8 156.3,303.8 157.4,305.0 158.6,306.9 159.7,309.5 160.9,312.2 162.0,314.5 163.2,316.1 164.3,317.5 165.5,318.4 166.7,318.2 167.8,317.0 169.0,315.4 170.1,313.9 171.3,311.9 172.4,309.9 173.6,309.0 174.7,310.0 175.9,312.3 177.0,315.3 178.2,319.4 179.3,325.8 180.5,332.8 181.7,338.3 182.8,343.6 184.0,348.1 185.1,350.0 186.3,350.0 187.4,350.0 188.6,350.0 189.7,350.0" fill="none" stroke="#5e62d0" stroke-width="0.9" stroke-opacity="1.0" stroke-linejoin="round"/>
<polyline points="58.2,335.7 59.4,335.6 60.5,335.6 61.7,335.5 62.8,335.5 64.0,335.4 65.1,335.3 66.3,335.2 67.4,335.1 68.6,335.0 69.7,334.9 70.9,334.8 72.0,334.6 73.2,334.5 74.4,334.4 75.5,334.2 76.7,334.1 77.8,334.0 79.0,333.8 80.1,333.7 81.3,333.5 82.4,333.3 83.6,333.1 84.7,332.9 85.9,332.7 87.0,332.4 88.2,332.1 89.4,331.8 90.5,331.5 91.7,331.1 92.8,330.8 94.0,330.2 95.1,329.5 96.3,328.6 97.4,327.6 98.6,326.3 99.7,325.0 100.9,323.5 102.0,321.4 103.2,318.8 104.4,315.9 105.5,312.7 106.7,309.6 107.8,306.7 109.0,304.1 110.1,301.3 111.3,298.5 112.4,295.8 113.6,293.3 114.7,291.2 115.9,289.6 117.0,288.3 118.2,287.1 119.4,286.1 120.5,285.4 121.7,285.1 122.8,285.2 124.0,285.4 125.1,285.6 126.3,286.0 127.4,286.4 128.6,287.0 129.7,287.9 130.9,289.0 132.0,290.2 133.2,291.4 134.4,292.5 135.5,293.5 136.7,294.5 137.8,295.5 139.0,296.4 140.1,297.3 141.3,298.1 142.4,298.7 143.6,299.2 144.7,299.7 145.9,300.0 147.0,300.4 148.2,300.8 149.4,301.1 150.5,301.6 151.7,302.2 152.8,302.8 154.0,303.5 155.1,304.4 156.3,305.3 157.4,306.5 158.6,308.3 159.7,310.8 160.9,313.5 162.0,315.7 163.2,317.2 164.3,318.6 165.5,319.4 166.7,319.2 167.8,318.1 169.0,316.6 170.1,315.1 171.3,313.1 172.4,311.2 173.6,310.4 174.7,311.3 175.9,313.5 177.0,316.5 178.2,320.4 179.3,326.6 180.5,333.3 181.7,338.6 182.8,343.8 184.0,348.2 185.1,350.0 186.3,350.0 187.4,350.0 188.6,350.0 189.7,350.0" fill="none" stroke="#5e62d0" stroke-width="0.9" stroke-opacity="1.0" stroke-linejoin="round"/>
<polyline points="58.2,336.6 59.4,336.5 60.5,336.5 61.7,336.4 62.8,336.4 64.0,336.3 65.1,336.2 66.3,336.1 67.4,336.0 68.6,335.9 69.7,335.8 70.9,335.7 72.0,335.5 73.2,335.4 74.4,335.3 75.5,335.1 76.7,335.0 77.8,334.9 79.0,334.7 80.1,334.6 81.3,334.4 82.4,334.2 83.6,334.0 84.7,333.8 85.9,333.6 87.0,333.3 88.2,333.0 89.4,332.7 90.5,332.4 91.7,332.0 92.8,331.6 94.0,331.1 95.1,330.4 96.3,329.5 97.4,328.4 98.6,327.2 99.7,325.9 100.9,324.4 102.0,322.4 103.2,319.9 104.4,317.0 105.5,314.0 106.7,311.0 107.8,308.2 109.0,305.7 110.1,303.0 111.3,300.3 112.4,297.7 113.6,295.3 114.7,293.3 115.9,291.7 117.0,290.5 118.2,289.3 119.4,288.3 120.5,287.6 121.7,287.3 122.8,287.4 124.0,287.6 125.1,287.9 126.3,288.2 127.4,288.6 128.6,289.2 129.7,290.0 130.9,291.1 132.0,292.3 133.2,293.5 134.4,294.5 135.5,295.5 136.7,296.4 137.8,297.4 139.0,298.3 140.1,299.1 141.3,299.9 142.4,300.5 143.6,301.0 144.7,301.4 145.9,301.8 147.0,302.1 148.2,302.5 149.4,302.8 150.5,303.3 151.7,303.8 152.8,304.4 154.0,305.1 155.1,305.9 156.3,306.9 157.4,308.0 158.6,309.8 159.7,312.2 160.9,314.7 162.0,316.9 163.2,318.4 164.3,319.7 165.5,320.5 166.7,320.3 167.8,319.2 169.0,317.7 170.1,316.3 171.3,314.4 172.4,312.6 173.6,311.8 174.7,312.6 175.9,314.8 177.0,317.7 178.2,321.4 179.3,327.4 180.5,333.9 181.7,339.0 182.8,344.0 184.0,348.2 185.1,350.0 186.3,350.0 187.4,350.0 188.6,350.0 189.7,350.0" fill="none" stroke="#5e62d0" stroke-width="0.9" stroke-opacity="1.0" stroke-linejoin="round"/>
<polyline points="58.2,334.8 59.4,334.7 60.5,334.7 61.7,334.6 62.8,334.6 64.0,334.5 65.1,334.4 66.3,334.3 67.4,334.2 68.6,334.1 69.7,334.0 70.9,333.9 72.0,333.7 73.2,333.6 74.4,333.5 75.5,333.3 76.7,333.2 77.8,333.1 79.0,332.9 80.1,332.8 81.3,332.6 82.4,332.4 83.6,332.3 84.7,332.0 85.9,331.8 87.0,331.6 88.2,331.3 89.4,331.0 90.5,330.6 91.7,330.3 92.8,329.9 94.0,329.3 95.1,328.4 96.3,327.3 97.4,326.0 98.6,324.5 99.7,322.8 100.9,321.1 102.0,318.8 103.2,315.9 104.4,312.7 105.5,309.3 106.7,306.0 107.8,302.9 109.0,300.0 110.1,297.0 111.3,293.9 112.4,290.9 113.6,288.2 114.7,286.0 115.9,284.2 117.0,282.8 118.2,281.5 119.4,280.3 120.5,279.6 121.7,279.3 122.8,279.4 124.0,279.7 125.1,280.2 126.3,280.8 127.4,281.4 128.6,282.3 129.7,283.6 130.9,285.1 132.0,286.8 133.2,288.5 134.4,290.1 135.5,291.5 136.7,292.9 137.8,294.3 139.0,295.6 140.1,296.9 141.3,298.1 142.4,299.1 143.6,299.9 144.7,300.7 145.9,301.4 147.0,302.0 148.2,302.7 149.4,303.4 150.5,304.1 151.7,305.0 152.8,306.0 154.0,307.1 155.1,308.2 156.3,309.6 157.4,311.1 158.6,313.5 159.7,316.7 160.9,319.8 162.0,321.6 163.2,321.7 164.3,321.5 165.5,321.1 166.7,320.1 167.8,317.1 169.0,313.3 170.1,310.1 171.3,306.5 172.4,303.3 173.6,301.9 174.7,302.9 175.9,305.6 177.0,309.1 178.2,313.9 179.3,321.6 180.5,329.9 181.7,336.4 182.8,342.6 184.0,347.8 185.1,350.0 186.3,350.0 187.4,350.0 188.6,350.0 189.7,350.0" fill="none" stroke="#34467a" stroke-width="1.0" stroke-opacity="1.0" stroke-linejoin="round"/>
<polyline points="58.2,335.7 59.4,335.6 60.5,335.6 61.7,335.5 62.8,335.5 64.0,335.4 65.1,335.3 66.3,335.2 67.4,335.1 68.6,335.0 69.7,334.9 70.9,334.8 72.0,334.6 73.2,334.5 74.4,334.4 75.5,334.2 76.7,334.1 77.8,334.0 79.0,333.8 80.1,333.7 81.3,333.5 82.4,333.3 83.6,333.1 84.7,332.9 85.9,332.7 87.0,332.4 88.2,332.2 89.4,331.9 90.5,331.5 91.7,331.2 92.8,330.8 94.0,330.2 95.1,329.4 96.3,328.3 97.4,327.1 98.6,325.7 99.7,324.2 100.9,322.6 102.0,320.4 103.2,317.7 104.4,314.6 105.5,311.4 106.7,308.2 107.8,305.2 109.0,302.5 110.1,299.6 111.3,296.7 112.4,293.9 113.6,291.4 114.7,289.2 115.9,287.6 117.0,286.2 118.2,284.9 119.4,283.9 120.5,283.1 121.7,282.9 122.8,283.0 124.0,283.3 125.1,283.7 126.3,284.3 127.4,284.9 128.6,285.7 129.7,286.9 130.9,288.4 132.0,290.0 133.2,291.7 134.4,293.1 135.5,294.5 136.7,295.8 137.8,297.1 139.0,298.4 140.1,299.6 141.3,300.7 142.4,301.7 143.6,302.5 144.7,303.2 145.9,303.8 147.0,304.5 148.2,305.1 149.4,305.7 150.5,306.5 151.7,307.3 152.8,308.2 154.0,309.2 155.1,310.4 156.3,311.6 157.4,313.1 158.6,315.3 159.7,318.4 160.9,321.3 162.0,323.0 163.2,323.1 164.3,322.9 165.5,322.6 166.7,321.6 167.8,318.7 169.0,315.2 170.1,312.1 171.3,308.7 172.4,305.7 173.6,304.3 174.7,305.3 175.9,307.8 177.0,311.2 178.2,315.7 179.3,323.1 180.5,330.9 181.7,337.1 182.8,343.0 184.0,347.9 185.1,350.0 186.3,350.0 187.4,350.0 188.6,350.0 189.7,350.0" fill="none" stroke="#34467a" stroke-width="1.0" stroke-opacity="1.0" stroke-linejoin="round"/>
<polyline points="58.2,327.6 59.4,327.6 60.5,327.5 61.7,327.5 62.8,327.4 64.0,327.3 65.1,327.2 66.3,327.0 67.4,326.9 68.6,326.7 69.7,326.6 70.9,326.4 72.0,326.2 73.2,326.1 74.4,325.9 75.5,325.7 76.7,325.5 77.8,325.3 79.0,325.0 80.1,324.7 81.3,324.4 82.4,324.1 83.6,323.8 84.7,323.4 85.9,323.0 87.0,322.6 88.2,322.2 89.4,321.8 90.5,321.4 91.7,320.9 92.8,320.5 94.0,320.0 95.1,319.4 96.3,318.9 97.4,318.2 98.6,317.5 99.7,316.7 100.9,315.8 102.0,314.7 103.2,313.3 104.4,311.8 105.5,310.3 106.7,308.7 107.8,307.3 109.0,306.0 110.1,304.6 111.3,303.3 112.4,301.9 113.6,300.7 114.7,299.6 115.9,298.7 117.0,297.8 118.2,296.9 119.4,296.1 120.5,295.6 121.7,295.4 122.8,295.8 124.0,297.0 125.1,298.7 126.3,300.6 127.4,302.5 128.6,304.7 129.7,307.4 130.9,310.4 132.0,313.4 133.2,316.0 134.4,317.9 135.5,319.0 136.7,320.0 137.8,320.8 139.0,321.6 140.1,322.2 141.3,322.7 142.4,323.2 143.6,323.7 144.7,324.1 145.9,324.4 147.0,324.8 148.2,325.1 149.4,325.4 150.5,325.7 151.7,326.1 152.8,326.5 154.0,326.9 155.1,327.3 156.3,327.7 157.4,328.2 158.6,328.7 159.7,329.4 160.9,330.0 162.0,330.7 163.2,331.3 164.3,331.9 165.5,332.4 166.7,332.7 167.8,332.8 169.0,332.9 170.1,333.1 171.3,333.4 172.4,333.7 173.6,334.2 174.7,334.9 175.9,336.1 177.0,337.5 178.2,339.2 179.3,341.6 180.5,344.0 181.7,345.9 182.8,347.8 184.0,349.4 185.1,350.0 186.3,350.0 187.4,350.0 188.6,350.0 189.7,350.0" fill="none" stroke="#98a890" stroke-width="0.9" stroke-opacity="1.0" stroke-linejoin="round"/>
<polyline points="58.2,328.5 59.4,328.5 60.5,328.4 61.7,328.4 62.8,328.3 64.0,328.2 65.1,328.1 66.3,327.9 67.4,327.8 68.6,327.6 69.7,327.5 70.9,327.3 72.0,327.1 73.2,327.0 74.4,326.8 75.5,326.6 76.7,326.4 77.8,326.1 79.0,325.9 80.1,325.6 81.3,325.3 82.4,325.0 83.6,324.6 84.7,324.2 85.9,323.9 87.0,323.5 88.2,323.1 89.4,322.7 90.5,322.2 91.7,321.8 92.8,321.3 94.0,320.9 95.1,320.4 96.3,319.9 97.4,319.4 98.6,318.7 99.7,318.0 100.9,317.2 102.0,316.2 103.2,314.9 104.4,313.4 105.5,311.9 106.7,310.4 107.8,309.1 109.0,307.8 110.1,306.5 111.3,305.2 112.4,303.9 113.6,302.7 114.7,301.7 115.9,300.8 117.0,299.9 118.2,299.1 119.4,298.3 120.5,297.8 121.7,297.6 122.8,298.1 124.0,299.2 125.1,300.8 126.3,302.6 127.4,304.4 128.6,306.5 129.7,309.2 130.9,312.0 132.0,314.9 133.2,317.4 134.4,319.2 135.5,320.3 136.7,321.2 137.8,322.0 139.0,322.7 140.1,323.3 141.3,323.9 142.4,324.3 143.6,324.8 144.7,325.1 145.9,325.5 147.0,325.8 148.2,326.1 149.4,326.4 150.5,326.7 151.7,327.1 152.8,327.4 154.0,327.8 155.1,328.2 156.3,328.6 157.4,329.0 158.6,329.6 159.7,330.2 160.9,330.9 162.0,331.5 163.2,332.1 164.3,332.7 165.5,333.1 166.7,333.4 167.8,333.5 169.0,333.6 170.1,333.8 171.3,334.1 172.4,334.4 173.6,334.8 174.7,335.5 175.9,336.6 177.0,338.0 178.2,339.7 179.3,341.9 180.5,344.3 181.7,346.1 182.8,347.9 184.0,349.4 185.1,350.0 186.3,350.0 187.4,350.0 188.6,350.0 189.7,350.0" fill="none" stroke="#98a890" stroke-width="0.9" stroke-opacity="1.0" stroke-linejoin="round"/>
<polyline points="58.2,329.4 59.4,329.4 60.5,329.3 61.7,329.3 62.8,329.2 64.0,329.1 65.1,329.0 66.3,328.8 67.4,328.7 68.6,328.5 69.7,328.4 70.9,328.2 72.0,328.0 73.2,327.9 74.4,327.7 75.5,327.5 76.7,327.3 77.8,327.0 79.0,326.8 80.1,326.5 81.3,326.1 82.4,325.8 83.6,325.5 84.7,325.1 85.9,324.7 87.0,324.3 88.2,323.9 89.4,323.5 90.5,323.1 91.7,322.7 92.8,322.2 94.0,321.8 95.1,321.4 96.3,321.0 97.4,320.5 98.6,320.0 99.7,319.4 100.9,318.7 102.0,317.7 103.2,316.4 104.4,315.1 105.5,313.6 106.7,312.1 107.8,310.8 109.0,309.6 110.1,308.3 111.3,307.1 112.4,305.9 113.6,304.7 114.7,303.7 115.9,302.9 117.0,302.1 118.2,301.3 119.4,300.5 120.5,300.1 121.7,299.9 122.8,300.3 124.0,301.4 125.1,302.9 126.3,304.6 127.4,306.4 128.6,308.4 129.7,310.9 130.9,313.7 132.0,316.4 133.2,318.7 134.4,320.5 135.5,321.6 136.7,322.5 137.8,323.2 139.0,323.9 140.1,324.5 141.3,325.0 142.4,325.4 143.6,325.8 144.7,326.2 145.9,326.5 147.0,326.8 148.2,327.1 149.4,327.4 150.5,327.7 151.7,328.1 152.8,328.4 154.0,328.8 155.1,329.1 156.3,329.5 157.4,329.9 158.6,330.5 159.7,331.1 160.9,331.7 162.0,332.3 163.2,332.8 164.3,333.4 165.5,333.9 166.7,334.1 167.8,334.2 169.0,334.3 170.1,334.5 171.3,334.8 172.4,335.1 173.6,335.5 174.7,336.2 175.9,337.2 177.0,338.5 178.2,340.1 179.3,342.3 180.5,344.5 181.7,346.3 182.8,348.0 184.0,349.4 185.1,350.0 186.3,350.0 187.4,350.0 188.6,350.0 189.7,350.0" fill="none" stroke="#98a890" stroke-width="0.9" stroke-opacity="1.0" stroke-linejoin="round"/>
<polyline points="58.2,331.2 59.4,331.1 60.5,331.1 61.7,331.0 62.8,330.9 64.0,330.8 65.1,330.7 66.3,330.5 67.4,330.4 68.6,330.3 69.7,330.1 70.9,330.0 72.0,329.8 73.2,329.6 74.4,329.5 75.5,329.3 76.7,329.1 77.8,328.9 79.0,328.7 80.1,328.5 81.3,328.2 82.4,328.0 83.6,327.7 84.7,327.4 85.9,327.1 87.0,326.8 88.2,326.4 89.4,326.1 90.5,325.7 91.7,325.3 92.8,324.9 94.0,324.5 95.1,324.0 96.3,323.4 97.4,322.8 98.6,322.1 99.7,321.4 100.9,320.6 102.0,319.6 103.2,318.4 104.4,317.1 105.5,315.8 106.7,314.5 107.8,313.2 109.0,312.1 110.1,310.9 111.3,309.8 112.4,308.6 113.6,307.6 114.7,306.6 115.9,305.8 117.0,305.1 118.2,304.3 119.4,303.6 120.5,303.2 121.7,303.0 122.8,303.4 124.0,304.4 125.1,305.8 126.3,307.5 127.4,309.1 128.6,311.0 129.7,313.3 130.9,315.9 132.0,318.5 133.2,320.7 134.4,322.4 135.5,323.4 136.7,324.2 137.8,324.9 139.0,325.5 140.1,326.1 141.3,326.5 142.4,327.0 143.6,327.4 144.7,327.7 145.9,328.0 147.0,328.3 148.2,328.5 149.4,328.8 150.5,329.1 151.7,329.4 152.8,329.8 154.0,330.1 155.1,330.4 156.3,330.8 157.4,331.2 158.6,331.7 159.7,332.2 160.9,332.8 162.0,333.4 163.2,333.9 164.3,334.4 165.5,334.9 166.7,335.1 167.8,335.2 169.0,335.3 170.1,335.5 171.3,335.7 172.4,336.0 173.6,336.4 174.7,337.0 175.9,338.0 177.0,339.2 178.2,340.7 179.3,342.8 180.5,344.9 181.7,346.5 182.8,348.1 184.0,349.4 185.1,350.0 186.3,350.0 187.4,350.0 188.6,350.0 189.7,350.0" fill="none" stroke="#b8b8b8" stroke-width="0.9" stroke-opacity="1.0" stroke-linejoin="round"/>
<polyline points="58.2,331.2 59.4,331.1 60.5,331.1 61.7,331.0 62.8,330.9 64.0,330.8 65.1,330.7 66.3,330.5 67.4,330.4 68.6,330.3 69.7,330.1 70.9,330.0 72.0,329.8 73.2,329.6 74.4,329.5 75.5,329.3 76.7,329.1 77.8,328.9 79.0,328.6 80.1,328.4 81.3,328.1 82.4,327.8 83.6,327.6 84.7,327.2 85.9,326.9 87.0,326.6 88.2,326.3 89.4,326.0 90.5,325.6 91.7,325.3 92.8,324.9 94.0,324.6 95.1,324.3 96.3,323.9 97.4,323.5 98.6,323.1 99.7,322.6 100.9,322.0 102.0,321.2 103.2,320.1 104.4,318.8 105.5,317.5 106.7,316.2 107.8,315.0 109.0,313.9 110.1,312.8 111.3,311.7 112.4,310.6 113.6,309.6 114.7,308.7 115.9,307.9 117.0,307.2 118.2,306.5 119.4,305.8 120.5,305.4 121.7,305.2 122.8,305.6 124.0,306.6 125.1,307.9 126.3,309.5 127.4,311.1 128.6,312.8 129.7,315.1 130.9,317.6 132.0,320.0 133.2,322.1 134.4,323.7 135.5,324.6 136.7,325.4 137.8,326.1 139.0,326.7 140.1,327.2 141.3,327.7 142.4,328.1 143.6,328.4 144.7,328.8 145.9,329.0 147.0,329.3 148.2,329.6 149.4,329.8 150.5,330.1 151.7,330.4 152.8,330.7 154.0,331.0 155.1,331.4 156.3,331.7 157.4,332.1 158.6,332.6 159.7,333.1 160.9,333.6 162.0,334.2 163.2,334.7 164.3,335.2 165.5,335.6 166.7,335.8 167.8,335.9 169.0,336.0 170.1,336.2 171.3,336.4 172.4,336.7 173.6,337.0 174.7,337.6 175.9,338.6 177.0,339.7 178.2,341.2 179.3,343.1 180.5,345.1 181.7,346.7 182.8,348.2 184.0,349.5 185.1,350.0 186.3,350.0 187.4,350.0 188.6,350.0 189.7,350.0" fill="none" stroke="#b8b8b8" stroke-width="0.9" stroke-opacity="1.0" stroke-linejoin="round"/>
<polyline points="58.2,334.8 59.4,334.8 60.5,334.7 61.7,334.7 62.8,334.6 64.0,334.6 65.1,334.5 66.3,334.4 67.4,334.3 68.6,334.2 69.7,334.0 70.9,333.9 72.0,333.8 73.2,333.6 74.4,333.5 75.5,333.3 76.7,333.2 77.8,332.9 79.0,332.7 80.1,332.5 81.3,332.2 82.4,331.9 83.6,331.5 84.7,331.2 85.9,330.8 87.0,330.5 88.2,330.1 89.4,329.7 90.5,329.3 91.7,328.9 92.8,328.5 94.0,328.1 95.1,327.7 96.3,327.2 97.4,326.7 98.6,326.2 99.7,325.5 100.9,324.8 102.0,323.9 103.2,322.8 104.4,321.6 105.5,320.3 106.7,319.0 107.8,317.7 109.0,316.5 110.1,315.3 111.3,314.0 112.4,312.7 113.6,311.5 114.7,310.4 115.9,309.6 117.0,308.9 118.2,308.2 119.4,307.6 120.5,307.2 121.7,307.0 122.8,307.4 124.0,308.3 125.1,309.6 126.3,311.1 127.4,312.6 128.6,314.4 129.7,316.7 130.9,319.2 132.0,321.6 133.2,323.7 134.4,325.2 135.5,326.0 136.7,326.6 137.8,327.1 139.0,327.5 140.1,327.8 141.3,328.2 142.4,328.5 143.6,328.8 144.7,329.1 145.9,329.4 147.0,329.7 148.2,329.9 149.4,330.2 150.5,330.5 151.7,330.8 152.8,331.1 154.0,331.4 155.1,331.7 156.3,332.0 157.4,332.4 158.6,332.8 159.7,333.3 160.9,333.9 162.0,334.4 163.2,334.9 164.3,335.3 165.5,335.7 166.7,335.9 167.8,336.0 169.0,336.2 170.1,336.3 171.3,336.5 172.4,336.8 173.6,337.1 174.7,337.7 175.9,338.6 177.0,339.7 178.2,341.1 179.3,343.0 180.5,345.0 181.7,346.6 182.8,348.2 184.0,349.5 185.1,350.0 186.3,350.0 187.4,350.0 188.6,350.0 189.7,350.0" fill="none" stroke="#9fd6de" stroke-width="0.9" stroke-opacity="1.0" stroke-linejoin="round"/>
<polyline points="58.2,335.7 59.4,335.7 60.5,335.6 61.7,335.6 62.8,335.5 64.0,335.5 65.1,335.4 66.3,335.3 67.4,335.2 68.6,335.1 69.7,334.9 70.9,334.8 72.0,334.7 73.2,334.5 74.4,334.4 75.5,334.2 76.7,334.0 77.8,333.8 79.0,333.6 80.1,333.3 81.3,333.0 82.4,332.7 83.6,332.4 84.7,332.0 85.9,331.7 87.0,331.3 88.2,330.9 89.4,330.6 90.5,330.2 91.7,329.8 92.8,329.4 94.0,329.0 95.1,328.6 96.3,328.2 97.4,327.8 98.6,327.3 99.7,326.8 100.9,326.1 102.0,325.3 103.2,324.3 104.4,323.1 105.5,321.8 106.7,320.6 107.8,319.4 109.0,318.3 110.1,317.1 111.3,315.8 112.4,314.6 113.6,313.5 114.7,312.5 115.9,311.7 117.0,311.0 118.2,310.4 119.4,309.8 120.5,309.4 121.7,309.3 122.8,309.6 124.0,310.5 125.1,311.7 126.3,313.1 127.4,314.6 128.6,316.2 129.7,318.4 130.9,320.8 132.0,323.1 133.2,325.1 134.4,326.5 135.5,327.2 136.7,327.8 137.8,328.2 139.0,328.6 140.1,329.0 141.3,329.3 142.4,329.6 143.6,329.9 144.7,330.2 145.9,330.5 147.0,330.7 148.2,331.0 149.4,331.2 150.5,331.5 151.7,331.8 152.8,332.0 154.0,332.3 155.1,332.6 156.3,332.9 157.4,333.3 158.6,333.7 159.7,334.2 160.9,334.7 162.0,335.2 163.2,335.6 164.3,336.1 165.5,336.5 166.7,336.7 167.8,336.8 169.0,336.9 170.1,337.0 171.3,337.2 172.4,337.5 173.6,337.8 174.7,338.3 175.9,339.2 177.0,340.3 178.2,341.6 179.3,343.4 180.5,345.3 181.7,346.8 182.8,348.3 184.0,349.5 185.1,350.0 186.3,350.0 187.4,350.0 188.6,350.0 189.7,350.0" fill="none" stroke="#9fd6de" stroke-width="0.9" stroke-opacity="1.0" stroke-linejoin="round"/>
<polyline points="58.2,336.6 59.4,336.6 60.5,336.5 61.7,336.5 62.8,336.4 64.0,336.4 65.1,336.3 66.3,336.2 67.4,336.1 68.6,335.9 69.7,335.8 70.9,335.7 72.0,335.6 73.2,335.4 74.4,335.3 75.5,335.1 76.7,334.9 77.8,334.7 79.0,334.5 80.1,334.2 81.3,333.9 82.4,333.6 83.6,333.2 84.7,332.9 85.9,332.5 87.0,332.2 88.2,331.8 89.4,331.4 90.5,331.0 91.7,330.7 92.8,330.3 94.0,330.0 95.1,329.6 96.3,329.3 97.4,328.9 98.6,328.5 99.7,328.0 100.9,327.5 102.0,326.7 103.2,325.7 104.4,324.6 105.5,323.4 106.7,322.2 107.8,321.1 109.0,320.0 110.1,318.9 111.3,317.7 112.4,316.6 113.6,315.5 114.7,314.6 115.9,313.8 117.0,313.2 118.2,312.5 119.4,312.0 120.5,311.6 121.7,311.5 122.8,311.8 124.0,312.6 125.1,313.8 126.3,315.2 127.4,316.5 128.6,318.1 129.7,320.1 130.9,322.4 132.0,324.6 133.2,326.5 134.4,327.8 135.5,328.5 136.7,329.0 137.8,329.4 139.0,329.8 140.1,330.1 141.3,330.4 142.4,330.8 143.6,331.0 144.7,331.3 145.9,331.6 147.0,331.8 148.2,332.0 149.4,332.3 150.5,332.5 151.7,332.8 152.8,333.0 154.0,333.3 155.1,333.6 156.3,333.9 157.4,334.2 158.6,334.6 159.7,335.1 160.9,335.5 162.0,336.0 163.2,336.4 164.3,336.9 165.5,337.2 166.7,337.4 167.8,337.5 169.0,337.6 170.1,337.7 171.3,337.9 172.4,338.1 173.6,338.5 174.7,339.0 175.9,339.8 177.0,340.8 178.2,342.0 179.3,343.8 180.5,345.5 181.7,347.0 182.8,348.4 184.0,349.5 185.1,350.0 186.3,350.0 187.4,350.0 188.6,350.0 189.7,350.0" fill="none" stroke="#9fd6de" stroke-width="0.9" stroke-opacity="1.0" stroke-linejoin="round"/>
<polyline points="58.2,337.5 59.4,337.5 60.5,337.4 61.7,337.4 62.8,337.3 64.0,337.3 65.1,337.2 66.3,337.1 67.4,337.0 68.6,336.8 69.7,336.7 70.9,336.6 72.0,336.5 73.2,336.3 74.4,336.2 75.5,336.0 76.7,335.8 77.8,335.6 79.0,335.3 80.1,335.1 81.3,334.8 82.4,334.4 83.6,334.1 84.7,333.7 85.9,333.4 87.0,333.0 88.2,332.6 89.4,332.2 90.5,331.9 91.7,331.5 92.8,331.2 94.0,330.9 95.1,330.6 96.3,330.3 97.4,330.0 98.6,329.7 99.7,329.3 100.9,328.8 102.0,328.1 103.2,327.2 104.4,326.1 105.5,325.0 106.7,323.8 107.8,322.8 109.0,321.8 110.1,320.7 111.3,319.6 112.4,318.5 113.6,317.5 114.7,316.6 115.9,315.9 117.0,315.3 118.2,314.7 119.4,314.2 120.5,313.9 121.7,313.7 122.8,314.0 124.0,314.8 125.1,315.9 126.3,317.2 127.4,318.5 128.6,320.0 129.7,321.9 130.9,324.0 132.0,326.1 133.2,327.8 134.4,329.1 135.5,329.7 136.7,330.2 137.8,330.6 139.0,331.0 140.1,331.3 141.3,331.6 142.4,331.9 143.6,332.1 144.7,332.4 145.9,332.6 147.0,332.8 148.2,333.1 149.4,333.3 150.5,333.5 151.7,333.8 152.8,334.0 154.0,334.3 155.1,334.5 156.3,334.8 157.4,335.1 158.6,335.5 159.7,335.9 160.9,336.4 162.0,336.8 163.2,337.2 164.3,337.6 165.5,338.0 166.7,338.1 167.8,338.2 169.0,338.3 170.1,338.4 171.3,338.6 172.4,338.8 173.6,339.1 174.7,339.6 175.9,340.4 177.0,341.3 178.2,342.5 179.3,344.1 180.5,345.8 181.7,347.1 182.8,348.5 184.0,349.5 185.1,350.0 186.3,350.0 187.4,350.0 188.6,350.0 189.7,350.0" fill="none" stroke="#9fd6de" stroke-width="0.9" stroke-opacity="1.0" stroke-linejoin="round"/>
<polyline points="58.2,338.4 59.4,338.4 60.5,338.3 61.7,338.3 62.8,338.2 64.0,338.1 65.1,338.1 66.3,338.0 67.4,337.9 68.6,337.7 69.7,337.6 70.9,337.5 72.0,337.3 73.2,337.2 74.4,337.1 75.5,336.9 76.7,336.7 77.8,336.5 79.0,336.2 80.1,335.9 81.3,335.6 82.4,335.3 83.6,334.9 84.7,334.5 85.9,334.2 87.0,333.8 88.2,333.4 89.4,333.1 90.5,332.7 91.7,332.4 92.8,332.1 94.0,331.8 95.1,331.6 96.3,331.4 97.4,331.1 98.6,330.9 99.7,330.5 100.9,330.1 102.0,329.5 103.2,328.6 104.4,327.6 105.5,326.5 106.7,325.5 107.8,324.5 109.0,323.5 110.1,322.5 111.3,321.5 112.4,320.4 113.6,319.5 114.7,318.7 115.9,318.0 117.0,317.5 118.2,316.9 119.4,316.4 120.5,316.1 121.7,316.0 122.8,316.3 124.0,317.0 125.1,318.0 126.3,319.2 127.4,320.4 128.6,321.8 129.7,323.6 130.9,325.6 132.0,327.5 133.2,329.2 134.4,330.4 135.5,331.0 136.7,331.4 137.8,331.8 139.0,332.2 140.1,332.5 141.3,332.7 142.4,333.0 143.6,333.2 144.7,333.5 145.9,333.7 147.0,333.9 148.2,334.1 149.4,334.3 150.5,334.5 151.7,334.8 152.8,335.0 154.0,335.2 155.1,335.5 156.3,335.8 157.4,336.1 158.6,336.4 159.7,336.8 160.9,337.2 162.0,337.6 163.2,338.0 164.3,338.4 165.5,338.7 166.7,338.9 167.8,339.0 169.0,339.0 170.1,339.2 171.3,339.3 172.4,339.5 173.6,339.8 174.7,340.3 175.9,341.0 177.0,341.9 178.2,343.0 179.3,344.5 180.5,346.1 181.7,347.3 182.8,348.6 184.0,349.6 185.1,350.0 186.3,350.0 187.4,350.0 188.6,350.0 189.7,350.0" fill="none" stroke="#9fd6de" stroke-width="0.9" stroke-opacity="1.0" stroke-linejoin="round"/>
<polyline points="58.2,342.4 59.4,342.4 60.5,342.3 61.7,342.2 62.8,342.2 64.0,342.1 65.1,341.9 66.3,341.8 67.4,341.7 68.6,341.5 69.7,341.4 70.9,341.2 72.0,341.0 73.2,340.8 74.4,340.7 75.5,340.5 76.7,340.2 77.8,339.9 79.0,339.6 80.1,339.3 81.3,338.9 82.4,338.5 83.6,338.1 84.7,337.7 85.9,337.3 87.0,336.9 88.2,336.5 89.4,336.1 90.5,335.8 91.7,335.5 92.8,335.2 94.0,335.0 95.1,334.8 96.3,334.7 97.4,334.5 98.6,334.3 99.7,334.1 100.9,333.8 102.0,333.3 103.2,332.7 104.4,331.9 105.5,331.1 106.7,330.3 107.8,329.6 109.0,328.8 110.1,328.1 111.3,327.3 112.4,326.6 113.6,325.9 114.7,325.3 115.9,324.8 117.0,324.3 118.2,323.9 119.4,323.5 120.5,323.2 121.7,323.1 122.8,323.4 124.0,324.0 125.1,324.9 126.3,325.9 127.4,326.9 128.6,328.1 129.7,329.6 130.9,331.2 132.0,332.8 133.2,334.2 134.4,335.3 135.5,335.9 136.7,336.4 137.8,336.9 139.0,337.3 140.1,337.6 141.3,337.9 142.4,338.2 143.6,338.4 144.7,338.7 145.9,338.9 147.0,339.1 148.2,339.3 149.4,339.5 150.5,339.7 151.7,339.8 152.8,340.0 154.0,340.1 155.1,340.3 156.3,340.4 157.4,340.6 158.6,340.8 159.7,341.1 160.9,341.4 162.0,341.6 163.2,341.8 164.3,342.0 165.5,342.2 166.7,342.3 167.8,342.3 169.0,342.4 170.1,342.5 171.3,342.6 172.4,342.8 173.6,343.0 174.7,343.3 175.9,343.8 177.0,344.4 178.2,345.2 179.3,346.3 180.5,347.4 181.7,348.2 182.8,349.1 184.0,349.7 185.1,350.0 186.3,350.0 187.4,350.0 188.6,350.0 189.7,350.0" fill="none" stroke="#9a6ad6" stroke-width="1.1" stroke-opacity="1.0" stroke-linejoin="round"/>
<polyline points="58.2,342.8 59.4,342.8 60.5,342.8 61.7,342.7 62.8,342.6 64.0,342.5 65.1,342.4 66.3,342.3 67.4,342.1 68.6,342.0 69.7,341.8 70.9,341.6 72.0,341.5 73.2,341.3 74.4,341.1 75.5,340.9 76.7,340.7 77.8,340.4 79.0,340.0 80.1,339.6 81.3,339.2 82.4,338.8 83.6,338.4 84.7,337.9 85.9,337.5 87.0,337.1 88.2,336.7 89.4,336.4 90.5,336.1 91.7,335.9 92.8,335.7 94.0,335.5 95.1,335.4 96.3,335.4 97.4,335.3 98.6,335.2 99.7,335.1 100.9,334.9 102.0,334.5 103.2,333.9 104.4,333.2 105.5,332.4 106.7,331.6 107.8,330.9 109.0,330.3 110.1,329.6 111.3,328.8 112.4,328.1 113.6,327.5 114.7,326.9 115.9,326.4 117.0,326.0 118.2,325.6 119.4,325.3 120.5,325.0 121.7,324.9 122.8,325.2 124.0,325.7 125.1,326.6 126.3,327.5 127.4,328.4 128.6,329.5 129.7,330.9 130.9,332.4 132.0,333.9 133.2,335.3 134.4,336.2 135.5,336.8 136.7,337.3 137.8,337.7 139.0,338.1 140.1,338.4 141.3,338.7 142.4,339.0 143.6,339.2 144.7,339.4 145.9,339.7 147.0,339.8 148.2,340.0 149.4,340.2 150.5,340.4 151.7,340.5 152.8,340.7 154.0,340.8 155.1,340.9 156.3,341.1 157.4,341.2 158.6,341.4 159.7,341.7 160.9,341.9 162.0,342.2 163.2,342.4 164.3,342.5 165.5,342.7 166.7,342.8 167.8,342.9 169.0,342.9 170.1,343.0 171.3,343.1 172.4,343.3 173.6,343.5 174.7,343.8 175.9,344.2 177.0,344.8 178.2,345.5 179.3,346.5 180.5,347.6 181.7,348.4 182.8,349.1 184.0,349.7 185.1,350.0 186.3,350.0 187.4,350.0 188.6,350.0 189.7,350.0" fill="none" stroke="#9a6ad6" stroke-width="1.1" stroke-opacity="1.0" stroke-linejoin="round"/>
<polyline points="58.2,343.3 59.4,343.3 60.5,343.2 61.7,343.1 62.8,343.0 64.0,342.9 65.1,342.8 66.3,342.7 67.4,342.6 68.6,342.4 69.7,342.3 70.9,342.1 72.0,341.9 73.2,341.7 74.4,341.6 75.5,341.4 76.7,341.1 77.8,340.8 79.0,340.4 80.1,340.0 81.3,339.5 82.4,339.0 83.6,338.6 84.7,338.1 85.9,337.7 87.0,337.3 88.2,336.9 89.4,336.6 90.5,336.4 91.7,336.2 92.8,336.1 94.0,336.1 95.1,336.1 96.3,336.1 97.4,336.1 98.6,336.1 99.7,336.0 100.9,336.0 102.0,335.7 103.2,335.2 104.4,334.5 105.5,333.8 106.7,333.0 107.8,332.3 109.0,331.7 110.1,331.0 111.3,330.4 112.4,329.7 113.6,329.1 114.7,328.6 115.9,328.1 117.0,327.7 118.2,327.4 119.4,327.0 120.5,326.8 121.7,326.7 122.8,326.9 124.0,327.5 125.1,328.2 126.3,329.1 127.4,330.0 128.6,331.0 129.7,332.3 130.9,333.7 132.0,335.1 133.2,336.3 134.4,337.2 135.5,337.8 136.7,338.2 137.8,338.6 139.0,339.0 140.1,339.2 141.3,339.5 142.4,339.8 143.6,340.0 144.7,340.2 145.9,340.4 147.0,340.6 148.2,340.7 149.4,340.9 150.5,341.1 151.7,341.2 152.8,341.3 154.0,341.5 155.1,341.6 156.3,341.7 157.4,341.9 158.6,342.0 159.7,342.3 160.9,342.5 162.0,342.7 163.2,342.9 164.3,343.1 165.5,343.2 166.7,343.3 167.8,343.4 169.0,343.4 170.1,343.5 171.3,343.6 172.4,343.8 173.6,343.9 174.7,344.2 175.9,344.6 177.0,345.2 178.2,345.8 179.3,346.8 180.5,347.7 181.7,348.5 182.8,349.2 184.0,349.8 185.1,350.0 186.3,350.0 187.4,350.0 188.6,350.0 189.7,350.0" fill="none" stroke="#9a6ad6" stroke-width="1.1" stroke-opacity="1.0" stroke-linejoin="round"/>
<polyline points="193.6,350.0 194.7,349.8 195.9,349.4 197.0,349.2 198.2,349.7 199.3,349.9" fill="none" stroke="#4a2a18" stroke-width="1.4" stroke-opacity="1.0" stroke-linejoin="round"/>
<polyline points="208.2,350.0 209.3,349.7 210.5,349.4 211.7,349.1 212.8,348.7 214.0,348.4 215.1,348.3 216.3,348.2 217.4,348.2 218.6,348.4 219.7,348.6 220.9,348.8 222.0,349.1 223.2,349.4 224.3,349.7 225.5,349.9" fill="none" stroke="#4a2a18" stroke-width="1.6" stroke-opacity="1.0" stroke-linejoin="round"/>
<circle cx="74.7" cy="349.1" r="2.6" fill="#a8dcd0"/>
<circle cx="74.7" cy="346.4" r="2.6" fill="#c4c4c4"/>
<circle cx="74.7" cy="344.2" r="2.6" fill="#c4c4c4"/>
<circle cx="74.7" cy="341.9" r="2.6" fill="#c4c4c4"/>
<circle cx="74.7" cy="339.7" r="2.6" fill="#c4c4c4"/>
<circle cx="74.7" cy="337.5" r="2.6" fill="#c4c4c4"/>
<circle cx="74.7" cy="334.8" r="2.6" fill="#1414d2"/>
<circle cx="74.7" cy="332.1" r="2.6" fill="#c8a0c8"/>
<circle cx="74.7" cy="329.0" r="2.6" fill="#3a7a7a"/>
<circle cx="74.7" cy="326.7" r="2.6" fill="#3c5c7c"/>
<circle cx="74.7" cy="323.1" r="2.6" fill="#6b4a1e"/>
<circle cx="92.8" cy="349.1" r="2.6" fill="#a8dcd0"/>
<circle cx="92.8" cy="345.5" r="2.6" fill="#c4c4c4"/>
<circle cx="92.8" cy="342.8" r="2.6" fill="#c4c4c4"/>
<circle cx="92.8" cy="340.2" r="2.6" fill="#c4c4c4"/>
<circle cx="92.8" cy="337.5" r="2.6" fill="#c4c4c4"/>
<circle cx="92.8" cy="335.2" r="2.6" fill="#c4c4c4"/>
<circle cx="92.8" cy="333.0" r="2.6" fill="#c4c4c4"/>
<circle cx="92.8" cy="329.9" r="2.6" fill="#1414d2"/>
<circle cx="92.8" cy="325.4" r="2.6" fill="#b0a0c8"/>
<circle cx="92.8" cy="322.7" r="2.6" fill="#7a4ae6"/>
<circle cx="92.8" cy="317.8" r="2.6" fill="#1414d2"/>
<circle cx="92.8" cy="314.2" r="2.6" fill="#3c5c7c"/>
<circle cx="92.8" cy="311.1" r="2.6" fill="#7a4ae6"/>
<circle cx="92.8" cy="306.6" r="2.6" fill="#3c5c7c"/>
<circle cx="92.8" cy="303.0" r="2.6" fill="#6b4a1e"/>
<circle cx="92.8" cy="300.8" r="2.6" fill="#a03c1c"/>
<circle cx="119.7" cy="349.1" r="2.6" fill="#a8dcd0"/>
<circle cx="119.7" cy="345.5" r="2.6" fill="#c4c4c4"/>
<circle cx="119.7" cy="342.8" r="2.6" fill="#c4c4c4"/>
<circle cx="119.7" cy="338.8" r="2.6" fill="#7a4ae6"/>
<circle cx="119.7" cy="336.6" r="2.6" fill="#c4c4c4"/>
<circle cx="119.7" cy="333.9" r="2.6" fill="#c4c4c4"/>
<circle cx="119.7" cy="331.2" r="2.6" fill="#3c5c7c"/>
<circle cx="119.7" cy="328.5" r="2.6" fill="#c4c4c4"/>
<circle cx="119.7" cy="323.1" r="2.6" fill="#6a5a20"/>
<circle cx="119.7" cy="305.7" r="2.6" fill="#7a4ae6"/>
<circle cx="119.7" cy="299.4" r="2.6" fill="#3b5a18"/>
<circle cx="119.7" cy="294.0" r="2.6" fill="#1414d2"/>
<circle cx="119.7" cy="291.8" r="2.6" fill="#1414d2"/>
<circle cx="119.7" cy="289.6" r="2.6" fill="#1414d2"/>
<circle cx="119.7" cy="287.3" r="2.6" fill="#1414d2"/>
<circle cx="119.7" cy="285.1" r="2.6" fill="#1414d2"/>
<circle cx="119.7" cy="282.9" r="2.6" fill="#1414d2"/>
<circle cx="119.7" cy="281.1" r="2.6" fill="#1414d2"/>
<circle cx="119.7" cy="273.4" r="2.6" fill="#6b4a1e"/>
<circle cx="119.7" cy="265.4" r="2.6" fill="#5a5a8a"/>
<circle cx="119.7" cy="257.3" r="2.6" fill="#6b4a1e"/>
<circle cx="119.7" cy="253.8" r="2.6" fill="#3c5c7c"/>
<circle cx="119.7" cy="243.9" r="2.6" fill="#6b4a1e"/>
<circle cx="119.7" cy="239.9" r="2.6" fill="#6b4a1e"/>
<circle cx="119.7" cy="235.4" r="2.6" fill="#6a5a20"/>
<circle cx="160.1" cy="349.1" r="2.6" fill="#c4c4c4"/>
<circle cx="160.1" cy="346.9" r="2.6" fill="#c4c4c4"/>
<circle cx="160.1" cy="344.2" r="2.6" fill="#c4c4c4"/>
<circle cx="160.1" cy="338.4" r="2.6" fill="#7a4ae6"/>
<circle cx="160.1" cy="322.2" r="2.6" fill="#1414d2"/>
<circle cx="160.1" cy="320.5" r="2.6" fill="#1414d2"/>
<circle cx="160.1" cy="317.8" r="2.6" fill="#6b4a1e"/>
<circle cx="160.1" cy="314.2" r="2.6" fill="#7a5a9a"/>
<circle cx="160.1" cy="309.7" r="2.6" fill="#3c5c7c"/>
<circle cx="160.1" cy="306.6" r="2.6" fill="#3c5c7c"/>
<circle cx="160.1" cy="303.4" r="2.6" fill="#6b4a1e"/>
<circle cx="160.1" cy="300.8" r="2.6" fill="#6b4a1e"/>
<circle cx="175.5" cy="349.1" r="2.6" fill="#c4c4c4"/>
<circle cx="175.5" cy="346.9" r="2.6" fill="#c4c4c4"/>
<circle cx="175.5" cy="341.0" r="2.6" fill="#7a4ae6"/>
<circle cx="175.5" cy="321.3" r="2.6" fill="#1414d2"/>
<circle cx="175.5" cy="319.6" r="2.6" fill="#1414d2"/>
<circle cx="175.5" cy="316.4" r="2.6" fill="#7a5a9a"/>
<circle cx="175.5" cy="313.3" r="2.6" fill="#6b4a1e"/>
<circle cx="175.5" cy="310.6" r="2.6" fill="#6b4a1e"/>
<circle cx="175.5" cy="307.5" r="2.6" fill="#6b4a1e"/>
<circle cx="175.5" cy="304.8" r="2.6" fill="#3c5c7c"/>
<circle cx="175.5" cy="302.1" r="2.6" fill="#3c5c7c"/>
<circle cx="189.0" cy="347.8" r="2.6" fill="#c8b8e0"/>
<circle cx="189.0" cy="344.6" r="2.6" fill="#b0a0c0"/>
<circle cx="189.0" cy="341.0" r="2.6" fill="#3c5c7c"/>
<circle cx="189.0" cy="337.5" r="2.6" fill="#3c5c7c"/>
<circle cx="205.5" cy="347.8" r="2.6" fill="#c8b8e0"/>
<circle cx="205.5" cy="344.6" r="2.6" fill="#b0a0c0"/>
<circle cx="205.5" cy="341.0" r="2.6" fill="#3c5c7c"/>
<circle cx="205.5" cy="337.5" r="2.6" fill="#3c5c7c"/>
<circle cx="237.0" cy="348.2" r="2.6" fill="#a8dcd0"/>
<circle cx="237.0" cy="345.5" r="2.6" fill="#3c5c7c"/>
<rect x="58.5" y="14.4" width="192.0" height="134.2" fill="none" stroke="#8a8a8a" stroke-width="1"/>
<line x1="56.0" y1="148.6" x2="58.5" y2="148.6" stroke="#8a8a8a" stroke-width="1"/>
<text x="51.3" y="151.8" font-size="9.6" text-anchor="end" fill="#222">0.000</text>
<line x1="56.0" y1="126.2" x2="58.5" y2="126.2" stroke="#8a8a8a" stroke-width="1"/>
<text x="51.3" y="129.4" font-size="9.6" text-anchor="end" fill="#222">0.005</text>
<line x1="56.0" y1="103.9" x2="58.5" y2="103.9" stroke="#8a8a8a" stroke-width="1"/>
<text x="51.3" y="107.1" font-size="9.6" text-anchor="end" fill="#222">0.010</text>
<line x1="56.0" y1="81.5" x2="58.5" y2="81.5" stroke="#8a8a8a" stroke-width="1"/>
<text x="51.3" y="84.7" font-size="9.6" text-anchor="end" fill="#222">0.015</text>
<line x1="56.0" y1="59.1" x2="58.5" y2="59.1" stroke="#8a8a8a" stroke-width="1"/>
<text x="51.3" y="62.3" font-size="9.6" text-anchor="end" fill="#222">0.020</text>
<line x1="56.0" y1="36.8" x2="58.5" y2="36.8" stroke="#8a8a8a" stroke-width="1"/>
<text x="51.3" y="40.0" font-size="9.6" text-anchor="end" fill="#222">0.025</text>
<line x1="56.0" y1="14.4" x2="58.5" y2="14.4" stroke="#8a8a8a" stroke-width="1"/>
<text x="51.3" y="17.6" font-size="9.6" text-anchor="end" fill="#222">0.030</text>
<line x1="58.5" y1="148.6" x2="58.5" y2="151.1" stroke="#8a8a8a" stroke-width="1"/>
<text x="58.5" y="164.1" font-size="9.6" text-anchor="middle" fill="#222">400</text>
<line x1="96.9" y1="148.6" x2="96.9" y2="151.1" stroke="#8a8a8a" stroke-width="1"/>
<text x="96.9" y="164.1" font-size="9.6" text-anchor="middle" fill="#222">500</text>
<line x1="135.3" y1="148.6" x2="135.3" y2="151.1" stroke="#8a8a8a" stroke-width="1"/>
<text x="135.3" y="164.1" font-size="9.6" text-anchor="middle" fill="#222">600</text>
<line x1="173.7" y1="148.6" x2="173.7" y2="151.1" stroke="#8a8a8a" stroke-width="1"/>
<text x="173.7" y="164.1" font-size="9.6" text-anchor="middle" fill="#222">700</text>
<line x1="212.1" y1="148.6" x2="212.1" y2="151.1" stroke="#8a8a8a" stroke-width="1"/>
<text x="212.1" y="164.1" font-size="9.6" text-anchor="middle" fill="#222">800</text>
<line x1="250.5" y1="148.6" x2="250.5" y2="151.1" stroke="#8a8a8a" stroke-width="1"/>
<text x="250.5" y="164.1" font-size="9.6" text-anchor="middle" fill="#222">900</text>
<text x="9.8" y="14.8" font-size="14" font-weight="bold" fill="#111">A)</text>
<text x="247.8" y="28.6" font-size="11.3" font-weight="bold" text-anchor="end" fill="#111">ACOLITE</text>
<text x="155.0" y="183.8" font-size="14.9" font-weight="bold" text-anchor="middle" fill="#111">Wavelength (nm)</text>
<text transform="translate(19.8,82.1) rotate(-90)" font-size="14.5" font-weight="bold" text-anchor="middle" fill="#111">R<tspan font-size="15.5" dy="2.0">rs</tspan><tspan dy="-2.0"> (sr</tspan><tspan font-size="13.5" dy="-5.2">-1</tspan><tspan dy="5.2">)</tspan></text>
<rect x="346.4" y="14.6" width="192.9" height="134.2" fill="none" stroke="#8a8a8a" stroke-width="1"/>
<line x1="343.9" y1="148.8" x2="346.4" y2="148.8" stroke="#8a8a8a" stroke-width="1"/>
<text x="339.2" y="152.0" font-size="9.6" text-anchor="end" fill="#222">0.000</text>
<line x1="343.9" y1="126.4" x2="346.4" y2="126.4" stroke="#8a8a8a" stroke-width="1"/>
<text x="339.2" y="129.6" font-size="9.6" text-anchor="end" fill="#222">0.005</text>
<line x1="343.9" y1="104.1" x2="346.4" y2="104.1" stroke="#8a8a8a" stroke-width="1"/>
<text x="339.2" y="107.3" font-size="9.6" text-anchor="end" fill="#222">0.010</text>
<line x1="343.9" y1="81.7" x2="346.4" y2="81.7" stroke="#8a8a8a" stroke-width="1"/>
<text x="339.2" y="84.9" font-size="9.6" text-anchor="end" fill="#222">0.015</text>
<line x1="343.9" y1="59.3" x2="346.4" y2="59.3" stroke="#8a8a8a" stroke-width="1"/>
<text x="339.2" y="62.5" font-size="9.6" text-anchor="end" fill="#222">0.020</text>
<line x1="343.9" y1="37.0" x2="346.4" y2="37.0" stroke="#8a8a8a" stroke-width="1"/>
<text x="339.2" y="40.2" font-size="9.6" text-anchor="end" fill="#222">0.025</text>
<line x1="343.9" y1="14.6" x2="346.4" y2="14.6" stroke="#8a8a8a" stroke-width="1"/>
<text x="339.2" y="17.8" font-size="9.6" text-anchor="end" fill="#222">0.030</text>
<line x1="346.4" y1="148.8" x2="346.4" y2="151.3" stroke="#8a8a8a" stroke-width="1"/>
<text x="346.4" y="164.3" font-size="9.6" text-anchor="middle" fill="#222">400</text>
<line x1="385.0" y1="148.8" x2="385.0" y2="151.3" stroke="#8a8a8a" stroke-width="1"/>
<text x="385.0" y="164.3" font-size="9.6" text-anchor="middle" fill="#222">500</text>
<line x1="423.6" y1="148.8" x2="423.6" y2="151.3" stroke="#8a8a8a" stroke-width="1"/>
<text x="423.6" y="164.3" font-size="9.6" text-anchor="middle" fill="#222">600</text>
<line x1="462.1" y1="148.8" x2="462.1" y2="151.3" stroke="#8a8a8a" stroke-width="1"/>
<text x="462.1" y="164.3" font-size="9.6" text-anchor="middle" fill="#222">700</text>
<line x1="500.7" y1="148.8" x2="500.7" y2="151.3" stroke="#8a8a8a" stroke-width="1"/>
<text x="500.7" y="164.3" font-size="9.6" text-anchor="middle" fill="#222">800</text>
<line x1="539.3" y1="148.8" x2="539.3" y2="151.3" stroke="#8a8a8a" stroke-width="1"/>
<text x="539.3" y="164.3" font-size="9.6" text-anchor="middle" fill="#222">900</text>
<text x="299.6" y="14.6" font-size="14" font-weight="bold" fill="#111">B)</text>
<text x="536.2" y="26.3" font-size="11.3" font-weight="bold" text-anchor="end" fill="#111">C2RCC</text>
<text x="443.3" y="184.0" font-size="14.9" font-weight="bold" text-anchor="middle" fill="#111">Wavelength (nm)</text>
<text transform="translate(307.3,79) rotate(-90)" font-size="13.5" font-weight="bold" text-anchor="middle" fill="#111">R<tspan font-size="14.4" dy="1.9">rs</tspan><tspan dy="-1.9"> (sr</tspan><tspan font-size="12.6" dy="-4.9">-1</tspan><tspan dy="4.9">)</tspan></text>
<rect x="58.2" y="215.7" width="192.3" height="134.3" fill="none" stroke="#8a8a8a" stroke-width="1"/>
<line x1="55.7" y1="350.0" x2="58.2" y2="350.0" stroke="#8a8a8a" stroke-width="1"/>
<text x="51.0" y="353.2" font-size="9.6" text-anchor="end" fill="#222">0.000</text>
<line x1="55.7" y1="327.6" x2="58.2" y2="327.6" stroke="#8a8a8a" stroke-width="1"/>
<text x="51.0" y="330.8" font-size="9.6" text-anchor="end" fill="#222">0.005</text>
<line x1="55.7" y1="305.2" x2="58.2" y2="305.2" stroke="#8a8a8a" stroke-width="1"/>
<text x="51.0" y="308.4" font-size="9.6" text-anchor="end" fill="#222">0.010</text>
<line x1="55.7" y1="282.9" x2="58.2" y2="282.9" stroke="#8a8a8a" stroke-width="1"/>
<text x="51.0" y="286.1" font-size="9.6" text-anchor="end" fill="#222">0.015</text>
<line x1="55.7" y1="260.5" x2="58.2" y2="260.5" stroke="#8a8a8a" stroke-width="1"/>
<text x="51.0" y="263.7" font-size="9.6" text-anchor="end" fill="#222">0.020</text>
<line x1="55.7" y1="238.1" x2="58.2" y2="238.1" stroke="#8a8a8a" stroke-width="1"/>
<text x="51.0" y="241.3" font-size="9.6" text-anchor="end" fill="#222">0.025</text>
<line x1="55.7" y1="215.7" x2="58.2" y2="215.7" stroke="#8a8a8a" stroke-width="1"/>
<text x="51.0" y="218.9" font-size="9.6" text-anchor="end" fill="#222">0.030</text>
<line x1="58.2" y1="350.0" x2="58.2" y2="352.5" stroke="#8a8a8a" stroke-width="1"/>
<text x="58.2" y="365.5" font-size="9.6" text-anchor="middle" fill="#222">400</text>
<line x1="96.7" y1="350.0" x2="96.7" y2="352.5" stroke="#8a8a8a" stroke-width="1"/>
<text x="96.7" y="365.5" font-size="9.6" text-anchor="middle" fill="#222">500</text>
<line x1="135.1" y1="350.0" x2="135.1" y2="352.5" stroke="#8a8a8a" stroke-width="1"/>
<text x="135.1" y="365.5" font-size="9.6" text-anchor="middle" fill="#222">600</text>
<line x1="173.6" y1="350.0" x2="173.6" y2="352.5" stroke="#8a8a8a" stroke-width="1"/>
<text x="173.6" y="365.5" font-size="9.6" text-anchor="middle" fill="#222">700</text>
<line x1="212.0" y1="350.0" x2="212.0" y2="352.5" stroke="#8a8a8a" stroke-width="1"/>
<text x="212.0" y="365.5" font-size="9.6" text-anchor="middle" fill="#222">800</text>
<line x1="250.5" y1="350.0" x2="250.5" y2="352.5" stroke="#8a8a8a" stroke-width="1"/>
<text x="250.5" y="365.5" font-size="9.6" text-anchor="middle" fill="#222">900</text>
<text x="9.6" y="217.0" font-size="14" font-weight="bold" fill="#111">C)</text>
<text x="246.6" y="230.1" font-size="11.3" font-weight="bold" text-anchor="end" fill="#111">C2X</text>
<text x="154.8" y="385.2" font-size="14.9" font-weight="bold" text-anchor="middle" fill="#111">Wavelength (nm)</text>
<text transform="translate(18.4,285.4) rotate(-90)" font-size="14.1" font-weight="bold" text-anchor="middle" fill="#111">R<tspan font-size="15.1" dy="2.0">rs</tspan><tspan dy="-2.0"> (sr</tspan><tspan font-size="13.1" dy="-5.1">-1</tspan><tspan dy="5.1">)</tspan></text>
<line x1="304" y1="243.2" x2="328" y2="243.2" stroke="#8c8cc0" stroke-width="1.1"/>
<text x="334" y="246.7" font-size="10.6" fill="#1a1a1a">ZOT hyperspectral</text>
<circle cx="463.2" cy="243.5" r="2.7" fill="#1616d0"/>
<text x="481.2" y="246.7" font-size="10.6" fill="#1a1a1a">ZOT Product</text>
<line x1="304" y1="255.8" x2="328" y2="255.8" stroke="#b0aeac" stroke-width="1.1"/>
<text x="334" y="259.4" font-size="10.6" fill="#1a1a1a">VIL hyperspectral</text>
<circle cx="463.2" cy="256.1" r="2.7" fill="#5e4622"/>
<text x="481.2" y="259.4" font-size="10.6" fill="#1a1a1a">VIL Product</text>
<line x1="304" y1="268.5" x2="328" y2="268.5" stroke="#a6b4a4" stroke-width="1.1"/>
<text x="334" y="272.0" font-size="10.6" fill="#1a1a1a">LAB hyperspectral</text>
<circle cx="463.2" cy="268.8" r="2.7" fill="#2e4e12"/>
<text x="481.2" y="272.0" font-size="10.6" fill="#1a1a1a">LAB Product</text>
<line x1="304" y1="281.1" x2="328" y2="281.1" stroke="#bcaee0" stroke-width="1.1"/>
<text x="334" y="284.6" font-size="10.6" fill="#1a1a1a">ZIE hyperspectral</text>
<circle cx="463.2" cy="281.4" r="2.7" fill="#8454e4"/>
<text x="481.2" y="284.6" font-size="10.6" fill="#1a1a1a">ZIE Product</text>
<line x1="304" y1="293.8" x2="328" y2="293.8" stroke="#cce8ee" stroke-width="1.1"/>
<text x="334" y="297.3" font-size="10.6" fill="#1a1a1a">ELL 1  hyperspectral</text>
<circle cx="463.2" cy="294.1" r="2.7" fill="#92b2c2"/>
<text x="481.2" y="297.3" font-size="10.6" fill="#1a1a1a">ELL 1 Product</text>
<line x1="304" y1="306.4" x2="328" y2="306.4" stroke="#a0a8b0" stroke-width="1.1"/>
<text x="334" y="309.9" font-size="10.6" fill="#1a1a1a">PRI  hyperspectral</text>
<circle cx="463.2" cy="306.8" r="2.7" fill="#3c5a7a"/>
<text x="481.2" y="309.9" font-size="10.6" fill="#1a1a1a">PRI Product</text>
<line x1="304" y1="319.1" x2="328" y2="319.1" stroke="#e2e2e2" stroke-width="1.1"/>
<text x="334" y="322.6" font-size="10.6" fill="#1a1a1a">ELL 2  hyperspectral</text>
<circle cx="463.2" cy="319.4" r="2.7" fill="#c2c2c2"/>
<text x="481.2" y="322.6" font-size="10.6" fill="#1a1a1a">ELL 2 Product</text>
</svg></body></html>
